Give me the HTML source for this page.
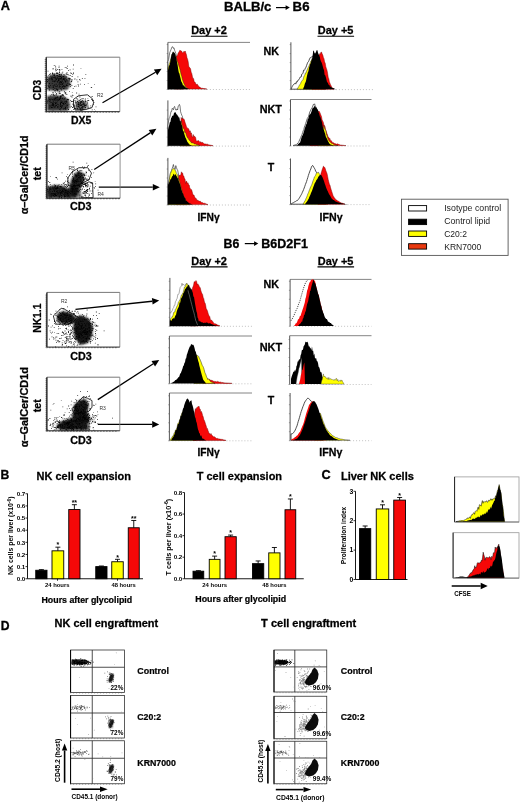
<!DOCTYPE html>
<html><head><meta charset="utf-8"><style>
html,body{margin:0;padding:0;background:#fff;}
svg{display:block;font-family:"Liberation Sans", sans-serif;filter:blur(0.35px);}
</style></head><body>
<svg width="520" height="802" viewBox="0 0 520 802">
<defs><filter id="bl1" x="-20%" y="-20%" width="140%" height="140%"><feGaussianBlur stdDeviation="0.9"/></filter>
<filter id="bl2" x="-20%" y="-20%" width="140%" height="140%"><feGaussianBlur stdDeviation="1.5"/></filter>
<filter id="bl0" x="-20%" y="-20%" width="140%" height="140%"><feGaussianBlur stdDeviation="0.5"/></filter></defs>
<rect width="520" height="802" fill="#fff"/>
<line x1="167.9" y1="42.4" x2="250" y2="42.4" stroke="#666" stroke-width="0.8"/>
<line x1="167.9" y1="42.4" x2="167.9" y2="89.5" stroke="#444" stroke-width="0.9"/>
<line x1="167.9" y1="89.5" x2="250" y2="89.5" stroke="#999" stroke-width="0.6" stroke-dasharray="1 2"/>
<path d="M166.70000000000002 89.5h1.2M166.70000000000002 80.5h1.2M166.70000000000002 71.5h1.2M166.70000000000002 62.5h1.2M166.70000000000002 53.5h1.2M166.70000000000002 44.5h1.2" stroke="#555" stroke-width="0.5"/>
<polygon points="168.0,89.1 168.0,61.3 168.6,59.6 169.2,55.9 169.8,52.4 170.4,51.1 171.0,49.6 171.6,48.0 172.2,46.7 172.8,46.9 173.4,48.3 174.0,47.8 174.6,50.3 175.2,51.6 175.8,53.4 176.4,56.0 177.0,58.5 177.6,61.7 178.2,64.8 178.8,65.1 179.4,69.3 180.0,73.7 180.6,79.1 181.2,80.4 181.8,84.5 182.4,86.5 183.0,89.1 183.0,89.1" fill="#fff" stroke="#222" stroke-width="0.6" opacity="1" stroke-linejoin="round"/>
<polygon points="175.0,89.1 175.0,89.1 175.6,70.6 176.2,57.2 176.8,55.8 177.4,55.8 178.0,53.6 178.6,52.4 179.2,51.5 179.8,50.3 180.4,50.5 181.0,51.1 181.6,51.0 182.2,52.5 182.8,52.8 183.4,52.3 184.0,51.3 184.6,51.9 185.2,51.0 185.8,53.0 186.4,54.6 187.0,57.8 187.6,59.3 188.2,61.8 188.8,66.4 189.4,67.3 190.0,67.8 190.6,69.1 191.2,72.3 191.8,73.5 192.4,76.4 193.0,78.7 193.6,78.6 194.2,81.8 194.8,82.0 195.4,82.7 196.0,84.3 196.6,84.6 197.2,84.1 197.8,85.3 198.4,85.7 199.0,87.1 199.6,87.1 200.2,87.3 200.8,87.9 201.4,88.2 202.0,88.3 202.6,88.3 203.2,88.4 203.8,88.6 204.4,88.6 205.0,88.7 205.6,88.8 206.2,89.0 206.8,89.1 207.0,89.1" fill="#f50808" stroke="#700" stroke-width="0.45" opacity="1" stroke-linejoin="round"/>
<polygon points="168.0,89.1 168.0,68.3 168.6,66.2 169.2,64.2 169.8,62.3 170.4,60.1 171.0,58.3 171.6,55.5 172.2,54.1 172.8,53.6 173.4,51.8 174.0,52.9 174.6,53.7 175.2,55.1 175.8,56.6 176.4,58.4 177.0,60.2 177.6,61.9 178.2,63.2 178.8,65.8 179.4,67.5 180.0,69.6 180.6,72.2 181.2,74.7 181.8,76.6 182.4,79.2 183.0,81.1 183.6,82.7 184.2,84.0 184.8,85.3 185.4,86.3 186.0,87.2 186.6,87.6 187.2,88.3 187.8,88.9 188.0,89.1" fill="#ffff00" stroke="#222" stroke-width="0.45" opacity="1" stroke-linejoin="round"/>
<polygon points="168.0,89.1 168.0,70.3 168.6,67.2 169.2,65.6 169.8,64.8 170.4,60.7 171.0,57.4 171.6,54.3 172.2,53.5 172.8,51.7 173.4,52.2 174.0,52.6 174.6,53.1 175.2,53.9 175.8,56.6 176.4,58.6 177.0,61.9 177.6,65.0 178.2,69.2 178.8,72.5 179.4,73.6 180.0,76.3 180.6,78.4 181.2,81.3 181.8,82.2 182.4,83.6 183.0,85.4 183.6,85.3 184.2,86.1 184.8,86.8 185.4,87.1 186.0,88.0 186.6,88.0 187.2,88.3 187.8,88.6 188.4,88.7 189.0,88.8 189.6,89.0 190.0,89.1" fill="#000" stroke="none" stroke-width="0.45" opacity="1" stroke-linejoin="round"/>
<line x1="167.9" y1="100.4" x2="167.9" y2="146.1" stroke="#444" stroke-width="0.9"/>
<line x1="167.9" y1="146.1" x2="250" y2="146.1" stroke="#999" stroke-width="0.6" stroke-dasharray="1 2"/>
<path d="M166.70000000000002 146.1h1.2M166.70000000000002 137.1h1.2M166.70000000000002 128.1h1.2M166.70000000000002 119.1h1.2M166.70000000000002 110.1h1.2" stroke="#555" stroke-width="0.5"/>
<polygon points="168.0,145.7 168.0,125.0 168.6,121.0 169.2,118.4 169.8,117.3 170.4,114.7 171.0,111.4 171.6,111.4 172.2,108.3 172.8,108.7 173.4,109.8 174.0,107.2 174.6,106.4 175.2,108.5 175.8,110.0 176.4,110.1 177.0,108.9 177.6,109.9 178.2,106.1 178.8,105.7 179.4,104.4 180.0,106.0 180.6,111.8 181.2,113.6 181.8,115.3 182.4,116.3 183.0,120.2 183.6,120.5 184.2,123.9 184.8,125.7 185.4,127.9 186.0,129.3 186.6,132.0 187.2,136.5 187.8,141.4 188.4,143.1 189.0,145.7 189.0,145.7" fill="#fff" stroke="#222" stroke-width="0.6" opacity="1" stroke-linejoin="round"/>
<polygon points="180.0,145.7 180.0,145.7 180.6,126.8 181.2,117.4 181.8,119.1 182.4,118.1 183.0,119.3 183.6,118.7 184.2,119.4 184.8,121.6 185.4,123.3 186.0,125.1 186.6,127.2 187.2,127.8 187.8,128.4 188.4,128.5 189.0,129.7 189.6,132.0 190.2,130.7 190.8,133.6 191.4,132.8 192.0,136.4 192.6,137.3 193.2,134.5 193.8,136.7 194.4,135.9 195.0,137.1 195.6,137.4 196.2,140.7 196.8,141.2 197.4,141.1 198.0,140.4 198.6,140.8 199.2,141.2 199.8,142.4 200.4,142.0 201.0,141.7 201.6,143.1 202.2,142.2 202.8,142.7 203.4,142.9 204.0,143.7 204.6,144.1 205.2,143.9 205.8,144.0 206.4,144.2 207.0,144.2 207.6,144.2 208.2,144.4 208.8,145.1 209.4,144.9 210.0,145.0 210.6,145.2 211.2,145.3 211.8,145.4 212.4,145.6 213.0,145.7 213.0,145.7" fill="#f50808" stroke="#700" stroke-width="0.45" opacity="1" stroke-linejoin="round"/>
<polygon points="180.0,145.7 180.0,145.7 180.6,131.1 181.2,120.7 181.8,124.5 182.4,125.6 183.0,128.1 183.6,128.8 184.2,129.5 184.8,132.7 185.4,132.3 186.0,133.7 186.6,135.9 187.2,137.0 187.8,138.2 188.4,138.6 189.0,139.9 189.6,140.6 190.2,141.3 190.8,141.7 191.4,142.9 192.0,142.8 192.6,142.9 193.2,142.9 193.8,143.5 194.4,143.9 195.0,144.0 195.6,144.0 196.2,144.6 196.8,144.4 197.4,144.7 198.0,145.0 198.6,145.1 199.2,145.4 199.8,145.6 200.0,145.7" fill="#ffff00" stroke="#222" stroke-width="0.45" opacity="1" stroke-linejoin="round"/>
<polygon points="168.0,145.7 168.0,130.0 168.6,127.2 169.2,125.2 169.8,122.2 170.4,121.9 171.0,118.3 171.6,117.4 172.2,115.7 172.8,115.8 173.4,115.4 174.0,113.0 174.6,112.6 175.2,112.2 175.8,112.5 176.4,114.3 177.0,114.4 177.6,115.6 178.2,116.2 178.8,117.5 179.4,117.5 180.0,121.3 180.6,120.7 181.2,124.2 181.8,125.1 182.4,127.3 183.0,130.8 183.6,131.3 184.2,133.7 184.8,135.4 185.4,137.5 186.0,138.5 186.6,139.9 187.2,141.6 187.8,142.5 188.4,143.0 189.0,144.2 189.6,144.5 190.2,144.9 190.8,145.1 191.4,145.4 192.0,145.7 192.0,145.7" fill="#000" stroke="none" stroke-width="0.45" opacity="1" stroke-linejoin="round"/>
<line x1="167.9" y1="157.9" x2="167.9" y2="205" stroke="#444" stroke-width="0.9"/>
<line x1="167.9" y1="205" x2="250" y2="205" stroke="#999" stroke-width="0.6" stroke-dasharray="1 2"/>
<path d="M166.70000000000002 205h1.2M166.70000000000002 196h1.2M166.70000000000002 187h1.2M166.70000000000002 178h1.2M166.70000000000002 169h1.2M166.70000000000002 160h1.2" stroke="#555" stroke-width="0.5"/>
<polygon points="168.0,204.6 168.0,184.7 168.6,181.9 169.2,180.0 169.8,176.9 170.4,173.6 171.0,171.7 171.6,170.6 172.2,168.4 172.8,166.5 173.4,164.5 174.0,167.3 174.6,168.7 175.2,169.3 175.8,165.6 176.4,167.5 177.0,169.2 177.6,170.0 178.2,172.9 178.8,175.9 179.4,178.0 180.0,181.2 180.6,184.4 181.2,186.5 181.8,190.0 182.4,193.0 183.0,194.9 183.6,197.3 184.2,199.0 184.8,201.2 185.4,202.5 186.0,204.6 186.0,204.6" fill="#fff" stroke="#222" stroke-width="0.6" opacity="1" stroke-linejoin="round"/>
<polygon points="176.0,204.6 176.0,204.6 176.6,195.7 177.2,187.2 177.8,179.8 178.4,177.8 179.0,174.9 179.6,176.0 180.2,175.2 180.8,174.9 181.4,171.8 182.0,173.0 182.6,173.0 183.2,175.7 183.8,176.0 184.4,178.4 185.0,178.8 185.6,183.5 186.2,181.1 186.8,181.5 187.4,183.5 188.0,182.8 188.6,184.8 189.2,185.0 189.8,187.9 190.4,188.7 191.0,189.5 191.6,189.8 192.2,191.8 192.8,194.3 193.4,195.0 194.0,195.0 194.6,197.0 195.2,198.0 195.8,198.2 196.4,198.8 197.0,200.6 197.6,200.1 198.2,200.9 198.8,200.7 199.4,201.3 200.0,201.0 200.6,201.4 201.2,202.7 201.8,202.2 202.4,202.8 203.0,202.7 203.6,203.3 204.2,203.0 204.8,203.6 205.4,203.4 206.0,204.0 206.6,204.0 207.2,204.3 207.8,204.5 208.0,204.6" fill="#f50808" stroke="#700" stroke-width="0.45" opacity="1" stroke-linejoin="round"/>
<polygon points="168.5,204.6 168.5,186.9 169.1,182.2 169.7,177.6 170.3,173.5 170.9,172.6 171.5,171.1 172.1,169.5 172.7,168.9 173.3,168.8 173.9,168.4 174.5,169.2 175.1,170.5 175.7,170.7 176.3,173.0 176.9,173.8 177.5,174.9 178.1,177.4 178.7,178.9 179.3,180.5 179.9,182.8 180.5,184.9 181.1,187.7 181.7,189.2 182.3,192.3 182.9,194.4 183.5,196.0 184.1,197.0 184.7,198.3 185.3,199.7 185.9,200.9 186.5,201.7 187.1,202.2 187.7,203.0 188.3,203.7 188.9,204.5 189.0,204.6" fill="#ffff00" stroke="#222" stroke-width="0.45" opacity="1" stroke-linejoin="round"/>
<polygon points="168.0,204.6 168.0,184.7 168.6,183.6 169.2,182.5 169.8,181.2 170.4,179.3 171.0,179.1 171.6,177.5 172.2,176.2 172.8,175.7 173.4,174.1 174.0,173.7 174.6,175.7 175.2,174.3 175.8,174.5 176.4,176.0 177.0,176.7 177.6,178.6 178.2,177.8 178.8,181.1 179.4,182.5 180.0,184.1 180.6,185.9 181.2,188.7 181.8,190.6 182.4,192.7 183.0,193.4 183.6,195.2 184.2,197.0 184.8,197.7 185.4,198.4 186.0,201.3 186.6,200.6 187.2,201.5 187.8,202.0 188.4,202.6 189.0,203.0 189.6,203.5 190.2,203.4 190.8,203.7 191.4,203.9 192.0,204.2 192.6,204.4 193.0,204.6" fill="#000" stroke="none" stroke-width="0.45" opacity="1" stroke-linejoin="round"/>
<line x1="290.9" y1="42.3" x2="290.9" y2="89.6" stroke="#444" stroke-width="0.9"/>
<line x1="290.9" y1="89.6" x2="373" y2="89.6" stroke="#999" stroke-width="0.6" stroke-dasharray="1 2"/>
<path d="M289.7 89.6h1.2M289.7 80.6h1.2M289.7 71.6h1.2M289.7 62.599999999999994h1.2M289.7 53.599999999999994h1.2M289.7 44.599999999999994h1.2" stroke="#555" stroke-width="0.5"/>
<polygon points="291.0,89.2 291.0,89.2 291.6,87.8 292.2,86.6 292.8,85.5 293.4,84.7 294.0,83.9 294.6,83.7 295.2,83.3 295.8,84.1 296.4,81.8 297.0,82.3 297.6,81.0 298.2,80.0 298.8,79.8 299.4,78.7 300.0,77.2 300.6,77.1 301.2,76.9 301.8,74.1 302.4,73.8 303.0,73.2 303.6,70.2 304.2,70.5 304.8,69.5 305.4,68.0 306.0,67.2 306.6,65.4 307.2,63.8 307.8,62.3 308.4,61.7 309.0,60.4 309.6,58.8 310.2,57.6 310.8,57.6 311.4,57.1 312.0,56.8 312.6,56.9 313.2,55.4 313.8,55.0 314.4,53.8 315.0,54.7 315.6,55.2 316.2,57.1 316.8,57.8 317.4,59.0 318.0,62.1 318.6,62.6 319.2,64.2 319.8,64.7 320.4,68.8 321.0,68.5 321.6,70.2 322.2,72.6 322.8,75.1 323.4,77.3 324.0,80.4 324.6,82.7 325.2,85.1 325.8,88.2 326.0,89.2" fill="#fff" stroke="#222" stroke-width="0.8" opacity="1" stroke-linejoin="round"/>
<polygon points="297.0,89.2 297.0,89.2 297.6,88.2 298.2,87.2 298.8,86.6 299.4,85.0 300.0,84.4 300.6,83.6 301.2,81.7 301.8,81.1 302.4,80.3 303.0,79.6 303.6,77.5 304.2,75.7 304.8,75.1 305.4,73.0 306.0,73.0 306.6,70.9 307.2,69.8 307.8,68.2 308.4,67.2 309.0,65.9 309.6,64.1 310.2,63.2 310.8,61.0 311.4,60.5 312.0,58.6 312.6,59.3 313.2,58.3 313.8,57.6 314.4,58.2 315.0,57.8 315.6,58.3 316.2,59.5 316.8,59.4 317.4,60.0 318.0,62.5 318.6,64.2 319.2,65.5 319.8,67.1 320.4,69.9 321.0,74.0 321.6,76.4 322.2,79.5 322.8,83.1 323.4,86.7 324.0,89.2" fill="#ffff00" stroke="#222" stroke-width="0.45" opacity="1" stroke-linejoin="round"/>
<polygon points="312.0,89.2 312.0,89.2 312.6,85.6 313.2,82.3 313.8,79.7 314.4,76.2 315.0,70.8 315.6,66.6 316.2,64.8 316.8,61.3 317.4,59.0 318.0,56.2 318.6,55.1 319.2,55.3 319.8,53.6 320.4,54.1 321.0,52.0 321.6,52.2 322.2,54.0 322.8,55.1 323.4,57.6 324.0,58.7 324.6,62.1 325.2,63.1 325.8,66.7 326.4,68.4 327.0,70.3 327.6,73.3 328.2,77.3 328.8,78.8 329.4,81.9 330.0,83.3 330.6,85.1 331.2,85.8 331.8,87.5 332.4,87.7 333.0,88.4 333.6,88.8 334.0,89.2" fill="#f50808" stroke="#700" stroke-width="0.45" opacity="1" stroke-linejoin="round"/>
<polygon points="303.0,89.2 303.0,89.2 303.6,87.6 304.2,86.2 304.8,83.7 305.4,82.5 306.0,80.9 306.6,77.8 307.2,75.1 307.8,72.5 308.4,71.3 309.0,67.7 309.6,66.0 310.2,64.1 310.8,63.1 311.4,60.2 312.0,59.3 312.6,56.1 313.2,51.1 313.8,50.6 314.4,52.8 315.0,53.7 315.6,52.8 316.2,51.4 316.8,50.1 317.4,50.2 318.0,52.7 318.6,54.3 319.2,55.5 319.8,57.0 320.4,59.7 321.0,61.5 321.6,62.4 322.2,64.2 322.8,66.6 323.4,68.7 324.0,70.0 324.6,74.8 325.2,75.2 325.8,77.0 326.4,79.6 327.0,82.0 327.6,82.6 328.2,83.7 328.8,85.0 329.4,85.0 330.0,86.8 330.6,86.6 331.2,87.2 331.8,87.4 332.4,87.9 333.0,88.1 333.6,88.3 334.2,88.5 334.8,88.7 335.4,89.0 336.0,89.2" fill="#000" stroke="none" stroke-width="0.45" opacity="1" stroke-linejoin="round"/>
<line x1="290.5" y1="99.5" x2="371.5" y2="99.5" stroke="#666" stroke-width="0.8"/>
<line x1="290.5" y1="99.5" x2="290.5" y2="146" stroke="#444" stroke-width="0.9"/>
<line x1="290.5" y1="146" x2="371.5" y2="146" stroke="#999" stroke-width="0.6" stroke-dasharray="1 2"/>
<path d="M289.3 146h1.2M289.3 137h1.2M289.3 128h1.2M289.3 119h1.2M289.3 110h1.2M289.3 101h1.2" stroke="#555" stroke-width="0.5"/>
<polygon points="293.0,145.6 293.0,145.6 293.6,145.4 294.2,145.2 294.8,145.0 295.4,144.8 296.0,144.4 296.6,144.4 297.2,144.1 297.8,143.0 298.4,142.5 299.0,141.3 299.6,140.0 300.2,138.7 300.8,137.4 301.4,135.7 302.0,134.5 302.6,132.7 303.2,130.8 303.8,129.7 304.4,127.0 305.0,125.5 305.6,123.7 306.2,122.0 306.8,120.0 307.4,118.3 308.0,117.3 308.6,116.3 309.2,114.1 309.8,112.0 310.4,110.9 311.0,109.4 311.6,108.4 312.2,107.5 312.8,106.1 313.4,104.3 314.0,104.8 314.6,103.8 315.2,106.1 315.8,106.8 316.4,108.1 317.0,109.2 317.6,110.6 318.2,112.8 318.8,114.1 319.4,115.6 320.0,117.5 320.6,119.2 321.2,121.3 321.8,122.2 322.4,124.5 323.0,127.9 323.6,129.4 324.2,132.3 324.8,133.9 325.4,135.9 326.0,137.5 326.6,139.4 327.2,140.9 327.8,142.2 328.4,144.1 329.0,145.6" fill="#fff" stroke="#555" stroke-width="0.9" opacity="1" stroke-linejoin="round"/>
<polygon points="310.0,145.6 310.0,145.6 310.6,142.2 311.2,138.6 311.8,137.1 312.4,132.7 313.0,129.6 313.6,127.3 314.2,124.8 314.8,120.5 315.4,117.5 316.0,114.6 316.6,113.4 317.2,111.5 317.8,112.2 318.4,111.6 319.0,111.0 319.6,112.0 320.2,113.2 320.8,115.0 321.4,116.2 322.0,119.4 322.6,120.9 323.2,122.0 323.8,124.4 324.4,125.7 325.0,126.5 325.6,129.8 326.2,131.1 326.8,133.2 327.4,134.5 328.0,137.0 328.6,137.1 329.2,138.8 329.8,138.2 330.4,140.4 331.0,140.4 331.6,140.9 332.2,142.5 332.8,142.5 333.4,142.7 334.0,143.1 334.6,143.5 335.2,144.1 335.8,143.5 336.4,144.3 337.0,143.7 337.6,144.0 338.2,144.1 338.8,144.6 339.4,144.6 340.0,144.9 340.6,145.0 341.2,145.1 341.8,145.1 342.4,145.2 343.0,145.3 343.6,145.3 344.2,145.4 344.8,145.5 345.4,145.5 346.0,145.6" fill="#f50808" stroke="#700" stroke-width="0.45" opacity="1" stroke-linejoin="round"/>
<polygon points="318.0,145.6 318.0,145.6 318.6,143.5 319.2,142.1 319.8,139.7 320.4,137.3 321.0,135.4 321.6,134.9 322.2,132.1 322.8,130.5 323.4,128.0 324.0,125.2 324.6,128.5 325.2,129.7 325.8,130.6 326.4,134.3 327.0,135.6 327.6,137.8 328.2,139.2 328.8,140.5 329.4,141.2 330.0,141.9 330.6,142.5 331.2,142.9 331.8,143.4 332.4,143.5 333.0,144.2 333.6,144.2 334.2,144.7 334.8,144.9 335.4,145.0 336.0,145.2 336.6,145.3 337.2,145.4 337.8,145.6 338.0,145.6" fill="#ffff00" stroke="#222" stroke-width="0.45" opacity="1" stroke-linejoin="round"/>
<polygon points="297.0,145.6 297.0,145.6 297.6,144.8 298.2,144.1 298.8,143.4 299.4,142.8 300.0,142.8 300.6,140.7 301.2,138.4 301.8,136.8 302.4,135.6 303.0,134.6 303.6,132.5 304.2,130.6 304.8,128.6 305.4,126.7 306.0,124.7 306.6,123.9 307.2,121.5 307.8,118.9 308.4,118.5 309.0,115.8 309.6,114.4 310.2,114.3 310.8,113.3 311.4,111.7 312.0,109.8 312.6,108.1 313.2,107.8 313.8,107.4 314.4,106.1 315.0,106.3 315.6,107.2 316.2,107.4 316.8,108.3 317.4,109.4 318.0,110.1 318.6,112.4 319.2,113.8 319.8,116.3 320.4,117.0 321.0,119.1 321.6,121.1 322.2,123.3 322.8,126.9 323.4,128.7 324.0,130.3 324.6,132.3 325.2,134.1 325.8,136.6 326.4,137.8 327.0,138.8 327.6,140.2 328.2,141.4 328.8,142.6 329.4,143.5 330.0,144.3 330.6,144.6 331.2,144.6 331.8,144.9 332.4,145.1 333.0,145.3 333.6,145.5 334.0,145.6" fill="#000" stroke="none" stroke-width="0.45" opacity="1" stroke-linejoin="round"/>
<line x1="290.5" y1="158.5" x2="290.5" y2="204.6" stroke="#444" stroke-width="0.9"/>
<line x1="290.5" y1="204.6" x2="371.5" y2="204.6" stroke="#999" stroke-width="0.6" stroke-dasharray="1 2"/>
<path d="M289.3 204.6h1.2M289.3 195.6h1.2M289.3 186.6h1.2M289.3 177.6h1.2M289.3 168.6h1.2M289.3 159.6h1.2" stroke="#555" stroke-width="0.5"/>
<polygon points="291.0,204.2 291.0,204.0 291.6,203.7 292.2,203.3 292.8,202.9 293.4,202.7 294.0,202.3 294.6,201.9 295.2,201.7 295.8,201.3 296.4,200.8 297.0,200.6 297.6,200.4 298.2,199.6 298.8,198.8 299.4,197.9 300.0,196.9 300.6,195.8 301.2,194.8 301.8,193.7 302.4,192.2 303.0,191.0 303.6,189.5 304.2,188.0 304.8,186.3 305.4,184.5 306.0,183.0 306.6,181.4 307.2,179.4 307.8,177.5 308.4,175.4 309.0,173.6 309.6,172.0 310.2,170.3 310.8,169.0 311.4,167.2 312.0,166.0 312.6,165.4 313.2,166.1 313.8,167.3 314.4,168.2 315.0,169.3 315.6,171.0 316.2,171.9 316.8,172.8 317.4,173.6 318.0,175.1 318.6,176.2 319.2,177.8 319.8,179.6 320.4,181.6 321.0,183.3 321.6,185.7 322.2,187.4 322.8,189.4 323.4,191.6 324.0,194.8 324.6,197.3 325.2,200.0 325.8,203.1 326.0,204.2" fill="#fff" stroke="#222" stroke-width="0.8" opacity="1" stroke-linejoin="round"/>
<polygon points="303.0,204.2 303.0,204.2 303.6,203.0 304.2,202.2 304.8,200.9 305.4,200.2 306.0,198.4 306.6,197.3 307.2,195.8 307.8,193.9 308.4,192.9 309.0,191.1 309.6,189.5 310.2,188.0 310.8,186.6 311.4,185.4 312.0,184.1 312.6,182.0 313.2,180.4 313.8,178.8 314.4,176.9 315.0,176.4 315.6,175.2 316.2,173.6 316.8,172.9 317.4,173.0 318.0,172.2 318.6,172.4 319.2,173.7 319.8,174.5 320.4,175.4 321.0,177.3 321.6,178.2 322.2,180.4 322.8,181.7 323.4,183.2 324.0,185.3 324.6,187.9 325.2,190.4 325.8,194.0 326.4,196.2 327.0,199.2 327.6,202.3 328.0,204.2" fill="#ffff00" stroke="#222" stroke-width="0.45" opacity="1" stroke-linejoin="round"/>
<polygon points="318.0,204.2 318.0,204.2 318.6,196.1 319.2,187.9 319.8,179.7 320.4,176.0 321.0,173.5 321.6,171.6 322.2,169.6 322.8,168.0 323.4,166.2 324.0,166.7 324.6,167.3 325.2,168.4 325.8,170.5 326.4,172.0 327.0,173.4 327.6,176.3 328.2,179.6 328.8,181.9 329.4,184.2 330.0,185.3 330.6,187.8 331.2,189.8 331.8,191.7 332.4,193.5 333.0,195.5 333.6,196.4 334.2,197.5 334.8,198.3 335.4,198.9 336.0,200.1 336.6,200.1 337.2,200.6 337.8,200.9 338.4,201.0 339.0,201.8 339.6,202.1 340.2,202.4 340.8,202.6 341.4,203.0 342.0,203.1 342.6,203.3 343.2,203.5 343.8,203.7 344.4,204.0 345.0,204.2" fill="#f50808" stroke="#700" stroke-width="0.45" opacity="1" stroke-linejoin="round"/>
<polygon points="305.0,204.2 305.0,204.2 305.6,203.3 306.2,202.5 306.8,201.7 307.4,201.0 308.0,199.8 308.6,198.9 309.2,197.2 309.8,195.9 310.4,194.8 311.0,192.9 311.6,191.7 312.2,190.3 312.8,188.5 313.4,186.8 314.0,185.2 314.6,183.6 315.2,182.5 315.8,181.6 316.4,179.9 317.0,179.5 317.6,178.4 318.2,176.9 318.8,176.2 319.4,175.6 320.0,175.1 320.6,174.9 321.2,174.9 321.8,176.1 322.4,177.0 323.0,178.5 323.6,180.0 324.2,181.8 324.8,183.8 325.4,185.3 326.0,187.3 326.6,188.8 327.2,190.2 327.8,191.3 328.4,192.7 329.0,194.1 329.6,195.0 330.2,195.8 330.8,197.1 331.4,197.9 332.0,198.9 332.6,199.2 333.2,199.9 333.8,199.9 334.4,200.6 335.0,201.0 335.6,201.5 336.2,201.7 336.8,201.8 337.4,202.2 338.0,202.3 338.6,202.6 339.2,202.7 339.8,202.9 340.4,203.0 341.0,203.1 341.6,203.4 342.2,203.5 342.8,203.6 343.4,203.7 344.0,203.7 344.6,203.8 345.2,203.9 345.8,203.9 346.4,204.0 347.0,204.1 347.6,204.2 348.0,204.2" fill="#000" stroke="none" stroke-width="0.45" opacity="1" stroke-linejoin="round"/>
<line x1="169.9" y1="277.9" x2="169.9" y2="326.3" stroke="#444" stroke-width="0.9"/>
<line x1="169.9" y1="326.3" x2="252" y2="326.3" stroke="#999" stroke-width="0.6" stroke-dasharray="1 2"/>
<path d="M168.70000000000002 326.3h1.2M168.70000000000002 317.3h1.2M168.70000000000002 308.3h1.2M168.70000000000002 299.3h1.2M168.70000000000002 290.3h1.2M168.70000000000002 281.3h1.2" stroke="#555" stroke-width="0.5"/>
<polygon points="170.0,325.9 170.0,312.3 170.6,313.3 171.2,311.7 171.8,311.5 172.4,310.2 173.0,308.4 173.6,307.7 174.2,305.4 174.8,305.4 175.4,301.7 176.0,301.2 176.6,299.1 177.2,298.3 177.8,294.4 178.4,294.3 179.0,293.8 179.6,290.1 180.2,287.4 180.8,286.7 181.4,285.8 182.0,283.2 182.6,285.4 183.2,284.1 183.8,284.8 184.4,285.4 185.0,284.8 185.6,285.0 186.2,283.6 186.8,287.9 187.4,287.9 188.0,290.2 188.6,293.5 189.2,294.1 189.8,297.6 190.4,299.6 191.0,302.3 191.6,304.0 192.2,306.6 192.8,307.4 193.4,311.6 194.0,313.1 194.6,314.7 195.2,317.9 195.8,320.7 196.4,321.9 197.0,323.3 197.6,324.9 198.0,325.9" fill="#fff" stroke="#777" stroke-width="0.6" opacity="1" stroke-linejoin="round"/>
<polygon points="170.0,325.9 170.0,321.5 170.6,318.7 171.2,318.3 171.8,317.4 172.4,316.1 173.0,315.6 173.6,312.5 174.2,312.1 174.8,312.0 175.4,309.2 176.0,308.5 176.6,307.1 177.2,305.5 177.8,305.0 178.4,302.0 179.0,301.4 179.6,300.2 180.2,299.3 180.8,297.2 181.4,295.0 182.0,294.9 182.6,293.3 183.2,292.4 183.8,289.9 184.4,287.1 185.0,287.2 185.6,285.7 186.2,284.5 186.8,283.2 187.4,284.1 188.0,285.9 188.6,284.9 189.2,285.8 189.8,288.9 190.4,291.2 191.0,292.2 191.6,294.8 192.2,299.3 192.8,304.6 193.4,308.1 194.0,312.6 194.6,316.6 195.2,321.1 195.8,324.2 196.0,325.9" fill="#ffff00" stroke="#222" stroke-width="0.45" opacity="1" stroke-linejoin="round"/>
<polygon points="190.0,325.9 190.0,325.9 190.6,314.2 191.2,301.7 191.8,292.6 192.4,288.2 193.0,286.7 193.6,285.1 194.2,281.6 194.8,281.9 195.4,281.4 196.0,280.6 196.6,281.5 197.2,284.8 197.8,283.8 198.4,284.8 199.0,285.7 199.6,287.6 200.2,287.6 200.8,290.3 201.4,292.3 202.0,293.6 202.6,294.5 203.2,297.6 203.8,298.7 204.4,302.1 205.0,302.7 205.6,304.9 206.2,308.5 206.8,309.6 207.4,310.8 208.0,312.9 208.6,315.0 209.2,316.0 209.8,316.7 210.4,319.7 211.0,320.2 211.6,320.1 212.2,321.2 212.8,321.4 213.4,322.6 214.0,323.4 214.6,323.8 215.2,323.9 215.8,323.8 216.4,324.3 217.0,324.5 217.6,325.1 218.2,325.3 218.8,325.4 219.4,325.7 220.0,325.9 220.0,325.9" fill="#f50808" stroke="#700" stroke-width="0.45" opacity="1" stroke-linejoin="round"/>
<polygon points="170.0,325.9 170.0,320.5 170.6,320.1 171.2,320.9 171.8,319.9 172.4,318.5 173.0,319.0 173.6,317.7 174.2,318.7 174.8,316.9 175.4,315.5 176.0,315.0 176.6,312.0 177.2,310.0 177.8,308.4 178.4,307.5 179.0,305.9 179.6,302.2 180.2,302.7 180.8,299.0 181.4,298.0 182.0,296.9 182.6,295.5 183.2,293.3 183.8,292.8 184.4,290.9 185.0,289.2 185.6,288.6 186.2,287.7 186.8,286.4 187.4,286.5 188.0,285.5 188.6,284.8 189.2,286.3 189.8,287.8 190.4,287.4 191.0,289.6 191.6,288.8 192.2,291.4 192.8,292.8 193.4,296.6 194.0,296.9 194.6,300.8 195.2,304.4 195.8,307.8 196.4,311.3 197.0,313.1 197.6,317.4 198.2,318.4 198.8,321.4 199.4,320.4 200.0,321.9 200.6,321.2 201.2,321.9 201.8,322.5 202.4,322.2 203.0,322.7 203.6,322.9 204.2,323.1 204.8,322.4 205.4,322.9 206.0,322.4 206.6,322.6 207.2,322.5 207.8,323.1 208.4,323.4 209.0,323.2 209.6,323.3 210.2,323.2 210.8,323.7 211.4,324.1 212.0,324.3 212.6,324.4 213.2,324.5 213.8,325.1 214.4,325.2 215.0,325.3 215.6,325.4 216.2,325.5 216.8,325.7 217.4,325.8 218.0,325.9 218.0,325.9" fill="#000" stroke="none" stroke-width="0.45" opacity="1" stroke-linejoin="round"/>
<polyline points="188.0,290.3 188.6,292.9 189.2,294.6 189.8,297.0 190.4,299.5 191.0,301.8 191.6,304.3 192.2,306.4 192.8,309.0 193.4,311.1 194.0,313.0 194.6,315.6 195.2,318.1 195.8,320.8 196.4,321.8 197.0,323.6 197.6,324.9" fill="none" stroke="#888" stroke-width="0.6" stroke-linejoin="round"/>
<line x1="169.4" y1="336" x2="252" y2="336" stroke="#666" stroke-width="0.8"/>
<line x1="169.4" y1="336" x2="169.4" y2="383.8" stroke="#444" stroke-width="0.9"/>
<line x1="169.4" y1="383.8" x2="252" y2="383.8" stroke="#999" stroke-width="0.6" stroke-dasharray="1 2"/>
<path d="M168.20000000000002 383.8h1.2M168.20000000000002 374.8h1.2M168.20000000000002 365.8h1.2M168.20000000000002 356.8h1.2M168.20000000000002 347.8h1.2M168.20000000000002 338.8h1.2" stroke="#555" stroke-width="0.5"/>
<polygon points="203.0,383.4 203.0,383.4 203.6,381.9 204.2,380.5 204.8,378.2 205.4,378.7 206.0,378.0 206.6,379.2 207.2,378.7 207.8,378.9 208.4,379.9 209.0,379.3 209.6,379.4 210.2,380.2 210.8,380.1 211.4,380.1 212.0,381.0 212.6,380.5 213.2,381.3 213.8,381.2 214.4,381.4 215.0,381.4 215.6,381.5 216.2,381.8 216.8,381.7 217.4,381.3 218.0,381.9 218.6,381.7 219.2,382.2 219.8,382.1 220.4,382.0 221.0,382.4 221.6,382.4 222.2,382.4 222.8,382.6 223.4,382.7 224.0,382.8 224.6,382.9 225.2,382.9 225.8,383.0 226.4,383.0 227.0,383.0 227.6,383.1 228.2,383.1 228.8,383.2 229.4,383.2 230.0,383.3 230.6,383.3 231.2,383.3 231.8,383.4 232.0,383.4" fill="#f50808" stroke="#700" stroke-width="0.45" opacity="1" stroke-linejoin="round"/>
<polygon points="194.0,383.4 194.0,383.4 194.6,374.8 195.2,365.6 195.8,356.9 196.4,354.8 197.0,355.1 197.6,355.8 198.2,355.9 198.8,356.7 199.4,358.3 200.0,359.3 200.6,360.9 201.2,362.2 201.8,364.1 202.4,365.6 203.0,366.4 203.6,367.7 204.2,369.8 204.8,372.3 205.4,373.6 206.0,375.0 206.6,377.1 207.2,377.9 207.8,379.4 208.4,378.7 209.0,379.5 209.6,380.2 210.2,381.2 210.8,381.8 211.4,382.1 212.0,382.1 212.6,382.5 213.2,382.7 213.8,382.9 214.4,383.2 215.0,383.4 215.0,383.4" fill="#ffff00" stroke="#222" stroke-width="0.5" opacity="1" stroke-linejoin="round"/>
<polygon points="170.0,383.4 170.0,383.4 170.6,383.2 171.2,382.9 171.8,382.7 172.4,382.5 173.0,382.3 173.6,381.8 174.2,381.6 174.8,380.8 175.4,380.0 176.0,380.1 176.6,379.4 177.2,378.6 177.8,378.4 178.4,377.1 179.0,377.3 179.6,375.4 180.2,373.4 180.8,373.2 181.4,371.4 182.0,369.9 182.6,368.2 183.2,366.0 183.8,365.6 184.4,363.1 185.0,362.2 185.6,358.8 186.2,358.2 186.8,354.7 187.4,353.3 188.0,351.3 188.6,349.4 189.2,347.9 189.8,346.4 190.4,346.3 191.0,344.3 191.6,344.2 192.2,344.5 192.8,345.0 193.4,344.8 194.0,346.3 194.6,348.2 195.2,351.0 195.8,351.8 196.4,354.6 197.0,356.1 197.6,358.4 198.2,361.1 198.8,362.7 199.4,365.8 200.0,368.0 200.6,370.6 201.2,372.7 201.8,375.1 202.4,377.0 203.0,379.2 203.6,380.3 204.2,381.1 204.8,381.7 205.4,382.6 206.0,383.4 206.0,383.4" fill="#000" stroke="none" stroke-width="0.45" opacity="1" stroke-linejoin="round"/>
<line x1="169.4" y1="393" x2="252" y2="393" stroke="#666" stroke-width="0.8"/>
<line x1="169.4" y1="393" x2="169.4" y2="440.8" stroke="#444" stroke-width="0.9"/>
<line x1="169.4" y1="440.8" x2="252" y2="440.8" stroke="#999" stroke-width="0.6" stroke-dasharray="1 2"/>
<path d="M168.20000000000002 440.8h1.2M168.20000000000002 431.8h1.2M168.20000000000002 422.8h1.2M168.20000000000002 413.8h1.2M168.20000000000002 404.8h1.2M168.20000000000002 395.8h1.2" stroke="#555" stroke-width="0.5"/>
<polygon points="170.0,440.4 170.0,440.0 170.6,439.2 171.2,438.2 171.8,437.7 172.4,436.3 173.0,436.3 173.6,434.8 174.2,432.8 174.8,432.6 175.4,430.1 176.0,430.1 176.6,428.8 177.2,426.6 177.8,423.6 178.4,422.9 179.0,422.1 179.6,419.8 180.2,418.9 180.8,416.5 181.4,415.0 182.0,412.5 182.6,412.5 183.2,409.8 183.8,409.8 184.4,408.3 185.0,407.9 185.6,407.1 186.2,406.7 186.8,406.0 187.4,406.1 188.0,407.1 188.6,407.4 189.2,408.9 189.8,410.0 190.4,412.4 191.0,413.7 191.6,414.9 192.2,417.6 192.8,419.4 193.4,423.1 194.0,428.2 194.6,430.8 195.2,435.0 195.8,439.0 196.0,440.4" fill="#ffff00" stroke="#222" stroke-width="0.45" opacity="1" stroke-linejoin="round"/>
<polygon points="193.0,440.4 193.0,440.4 193.6,431.8 194.2,421.3 194.8,412.1 195.4,408.6 196.0,410.1 196.6,407.8 197.2,407.5 197.8,406.7 198.4,406.7 199.0,406.1 199.6,408.7 200.2,409.1 200.8,412.2 201.4,411.4 202.0,413.1 202.6,415.4 203.2,416.8 203.8,419.5 204.4,420.6 205.0,422.2 205.6,424.3 206.2,425.9 206.8,428.4 207.4,428.4 208.0,430.5 208.6,432.1 209.2,433.7 209.8,433.4 210.4,434.9 211.0,433.5 211.6,434.8 212.2,435.5 212.8,436.0 213.4,436.8 214.0,437.0 214.6,436.7 215.2,437.7 215.8,437.7 216.4,438.5 217.0,438.4 217.6,438.4 218.2,438.5 218.8,439.2 219.4,439.0 220.0,438.9 220.6,439.3 221.2,439.4 221.8,439.3 222.4,439.4 223.0,439.6 223.6,439.9 224.2,440.0 224.8,440.1 225.4,440.3 226.0,440.4 226.0,440.4" fill="#f50808" stroke="#700" stroke-width="0.45" opacity="1" stroke-linejoin="round"/>
<polygon points="171.0,440.4 171.0,440.4 171.6,439.3 172.2,438.2 172.8,437.2 173.4,436.8 174.0,434.7 174.6,434.2 175.2,431.0 175.8,430.0 176.4,429.9 177.0,427.4 177.6,425.1 178.2,423.4 178.8,423.8 179.4,420.0 180.0,419.3 180.6,415.4 181.2,415.9 181.8,413.3 182.4,412.1 183.0,408.6 183.6,408.0 184.2,405.3 184.8,403.4 185.4,401.7 186.0,400.8 186.6,399.3 187.2,398.5 187.8,398.7 188.4,399.5 189.0,400.6 189.6,402.7 190.2,400.4 190.8,401.2 191.4,400.0 192.0,404.0 192.6,405.4 193.2,407.7 193.8,410.7 194.4,413.0 195.0,416.9 195.6,418.3 196.2,421.6 196.8,423.0 197.4,426.6 198.0,429.6 198.6,430.8 199.2,433.3 199.8,433.2 200.4,436.5 201.0,434.9 201.6,436.2 202.2,438.3 202.8,438.8 203.4,438.7 204.0,438.9 204.6,439.7 205.2,439.9 205.8,440.3 206.0,440.4" fill="#000" stroke="none" stroke-width="0.45" opacity="1" stroke-linejoin="round"/>
<line x1="290.1" y1="279.4" x2="371.5" y2="279.4" stroke="#666" stroke-width="0.8"/>
<line x1="290.1" y1="279.4" x2="290.1" y2="326.3" stroke="#444" stroke-width="0.9"/>
<line x1="290.1" y1="326.3" x2="371.5" y2="326.3" stroke="#999" stroke-width="0.6" stroke-dasharray="1 2"/>
<path d="M288.90000000000003 326.3h1.2M288.90000000000003 317.3h1.2M288.90000000000003 308.3h1.2M288.90000000000003 299.3h1.2M288.90000000000003 290.3h1.2M288.90000000000003 281.3h1.2" stroke="#555" stroke-width="0.5"/>
<polyline points="291.0,320.8 291.6,319.6 292.2,319.0 292.8,317.8 293.4,316.5 294.0,315.8 294.6,313.6 295.2,312.5 295.8,310.9 296.4,309.7 297.0,308.7 297.6,307.3 298.2,305.3 298.8,303.6 299.4,302.3 300.0,300.7 300.6,298.4 301.2,296.2 301.8,294.1 302.4,292.1 303.0,289.9 303.6,288.1 304.2,286.1 304.8,284.8 305.4,283.0 306.0,281.9 306.6,281.2 307.2,280.7 307.8,279.9" fill="none" stroke="#222" stroke-width="0.8" stroke-dasharray="1.2 1" stroke-linejoin="round"/>
<polygon points="294.0,325.9 294.0,325.9 294.6,325.2 295.2,324.4 295.8,323.2 296.4,323.2 297.0,322.3 297.6,320.8 298.2,318.8 298.8,319.6 299.4,317.6 300.0,315.8 300.6,316.1 301.2,313.8 301.8,312.0 302.4,310.1 303.0,308.5 303.6,306.4 304.2,304.4 304.8,302.5 305.4,298.7 306.0,296.9 306.6,293.4 307.2,290.2 307.8,289.0 308.4,286.1 309.0,283.9 309.6,282.3 310.2,282.0 310.8,280.2 311.4,279.8 312.0,279.7 312.6,279.3 313.2,279.4 313.8,280.1 314.4,280.6 315.0,280.9 315.6,283.6 316.2,286.8 316.8,288.5 317.4,291.9 318.0,294.2 318.6,294.4 319.2,297.8 319.8,299.7 320.4,303.2 321.0,305.1 321.6,307.3 322.2,310.0 322.8,313.2 323.4,313.8 324.0,317.2 324.6,319.5 325.2,322.4 325.8,325.0 326.0,325.9" fill="#f50808" stroke="none" stroke-width="0.45" opacity="1" stroke-linejoin="round"/>
<polygon points="298.0,325.9 298.0,325.9 298.6,325.2 299.2,324.4 299.8,323.9 300.4,323.5 301.0,322.8 301.6,321.4 302.2,321.7 302.8,318.8 303.4,318.1 304.0,315.2 304.6,314.4 305.2,312.1 305.8,311.0 306.4,307.5 307.0,304.6 307.6,302.7 308.2,301.1 308.8,297.3 309.4,294.9 310.0,291.2 310.6,290.4 311.2,287.6 311.8,285.0 312.4,283.1 313.0,281.2 313.6,279.2 314.2,281.8 314.8,282.8 315.4,283.4 316.0,285.5 316.6,288.1 317.2,290.1 317.8,292.6 318.4,294.5 319.0,295.9 319.6,299.6 320.2,301.5 320.8,304.8 321.4,306.2 322.0,309.6 322.6,310.7 323.2,312.8 323.8,314.1 324.4,316.0 325.0,317.4 325.6,318.2 326.2,318.9 326.8,319.0 327.4,320.1 328.0,321.8 328.6,321.8 329.2,321.9 329.8,322.8 330.4,323.1 331.0,323.0 331.6,324.2 332.2,324.5 332.8,324.9 333.4,325.4 334.0,325.9" fill="#000" stroke="none" stroke-width="0.45" opacity="1" stroke-linejoin="round"/>
<line x1="289.7" y1="335.7" x2="371.5" y2="335.7" stroke="#666" stroke-width="0.8"/>
<line x1="289.7" y1="335.7" x2="289.7" y2="384.5" stroke="#444" stroke-width="0.9"/>
<line x1="289.7" y1="384.5" x2="371.5" y2="384.5" stroke="#999" stroke-width="0.6" stroke-dasharray="1 2"/>
<path d="M288.5 384.5h1.2M288.5 375.5h1.2M288.5 366.5h1.2M288.5 357.5h1.2M288.5 348.5h1.2M288.5 339.5h1.2" stroke="#555" stroke-width="0.5"/>
<polygon points="291.0,384.1 291.0,379.1 291.6,376.8 292.2,375.0 292.8,373.6 293.4,371.4 294.0,372.0 294.6,370.7 295.2,369.2 295.8,371.4 296.4,366.3 297.0,365.3 297.6,361.6 298.2,361.6 298.8,360.1 299.4,358.9 300.0,359.8 300.6,355.2 301.2,354.0 301.8,350.3 302.4,349.9 303.0,349.4 303.6,346.2 304.2,345.6 304.8,344.4 305.4,341.5 306.0,342.2 306.6,341.9 307.2,342.4 307.8,341.4 308.4,344.9 309.0,346.7 309.6,346.3 310.2,348.7 310.8,347.4 311.4,350.6 312.0,346.3 312.6,350.9 313.2,350.7 313.8,355.4 314.4,353.4 315.0,358.4 315.6,358.2 316.2,358.3 316.8,360.9 317.4,361.2 318.0,363.1 318.6,366.8 319.2,367.2 319.8,368.9 320.4,372.0 321.0,372.2 321.6,372.5 322.2,377.1 322.8,376.6 323.4,378.5 324.0,381.3 324.6,381.2 325.2,382.6 325.8,383.7 326.0,384.1" fill="#000" stroke="none" stroke-width="0.45" opacity="1" stroke-linejoin="round"/>
<polygon points="296.0,384.1 296.0,384.1 296.6,380.6 297.2,376.7 297.8,374.4 298.4,371.7 299.0,368.2 299.6,366.8 300.2,363.7 300.8,361.7 301.4,358.5 302.0,384.1" fill="#fff" stroke="#555" stroke-width="0.4" opacity="1" stroke-linejoin="round"/>
<polygon points="299.0,384.1 299.0,384.1 299.6,381.5 300.2,379.4 300.8,375.6 301.4,373.4 302.0,370.2 302.6,369.8 303.2,367.3 303.8,364.5 304.4,362.6 305.0,384.1" fill="#f50808" stroke="none" stroke-width="0.45" opacity="1" stroke-linejoin="round"/>
<polygon points="321.0,384.1 321.0,384.1 321.6,381.0 322.2,379.4 322.8,375.8 323.4,373.9 324.0,377.0 324.6,376.2 325.2,376.8 325.8,377.1 326.4,378.5 327.0,377.8 327.6,378.0 328.2,379.7 328.8,377.4 329.4,379.0 330.0,379.6 330.6,378.5 331.2,379.3 331.8,379.4 332.4,379.5 333.0,380.2 333.6,380.1 334.2,379.3 334.8,380.4 335.4,379.8 336.0,378.4 336.6,378.5 337.2,380.8 337.8,379.4 338.4,381.3 339.0,381.4 339.6,380.7 340.2,379.9 340.8,381.5 341.4,380.3 342.0,380.1 342.6,381.7 343.2,382.6 343.8,383.7 344.0,384.1" fill="#ffff00" stroke="#333" stroke-width="0.4" opacity="1" stroke-linejoin="round"/>
<line x1="290.1" y1="393" x2="290.1" y2="440.7" stroke="#444" stroke-width="0.9"/>
<line x1="290.1" y1="440.7" x2="371.5" y2="440.7" stroke="#999" stroke-width="0.6" stroke-dasharray="1 2"/>
<path d="M288.90000000000003 440.7h1.2M288.90000000000003 431.7h1.2M288.90000000000003 422.7h1.2M288.90000000000003 413.7h1.2M288.90000000000003 404.7h1.2M288.90000000000003 395.7h1.2" stroke="#555" stroke-width="0.5"/>
<polygon points="291.0,440.3 291.0,433.8 291.6,433.9 292.2,433.7 292.8,433.5 293.4,432.9 294.0,431.9 294.6,431.2 295.2,430.1 295.8,428.7 296.4,427.2 297.0,425.9 297.6,423.7 298.2,421.6 298.8,419.8 299.4,417.7 300.0,415.6 300.6,413.5 301.2,411.5 301.8,409.9 302.4,408.1 303.0,406.4 303.6,405.1 304.2,403.4 304.8,402.0 305.4,401.1 306.0,400.2 306.6,399.4 307.2,398.8 307.8,398.0 308.4,398.3 309.0,399.0 309.6,399.4 310.2,400.2 310.8,401.0 311.4,401.3 312.0,401.9 312.6,402.4 313.2,403.2 313.8,404.4 314.4,405.1 315.0,405.9 315.6,407.7 316.2,409.6 316.8,411.5 317.4,413.1 318.0,414.9 318.6,418.0 319.2,420.9 319.8,423.9 320.4,427.0 321.0,430.0 321.6,433.1 322.2,436.1 322.8,439.3 323.0,440.3" fill="#fff" stroke="#222" stroke-width="0.8" opacity="1" stroke-linejoin="round"/>
<polygon points="315.0,440.3 315.0,440.3 315.6,436.9 316.2,433.5 316.8,430.1 317.4,426.8 318.0,423.4 318.6,419.6 319.2,416.7 319.8,413.1 320.4,413.3 321.0,415.1 321.6,416.7 322.2,418.4 322.8,420.6 323.4,422.0 324.0,423.4 324.6,425.1 325.2,426.7 325.8,427.8 326.4,428.7 327.0,429.5 327.6,430.4 328.2,431.1 328.8,432.0 329.4,432.6 330.0,433.2 330.6,433.5 331.2,434.2 331.8,434.9 332.4,435.6 333.0,435.7 333.6,436.2 334.2,436.4 334.8,437.0 335.4,437.4 336.0,437.5 336.6,437.7 337.2,437.9 337.8,437.9 338.4,438.4 339.0,438.5 339.6,438.7 340.2,438.9 340.8,439.0 341.4,439.1 342.0,439.2 342.6,439.3 343.2,439.5 343.8,439.6 344.4,439.7 345.0,439.8 345.6,439.9 346.2,439.9 346.8,440.0 347.4,440.0 348.0,440.1 348.6,440.2 349.2,440.2 349.8,440.3 350.0,440.3" fill="#ffff00" stroke="#222" stroke-width="0.45" opacity="1" stroke-linejoin="round"/>
<polygon points="291.0,440.3 291.0,439.8 291.6,439.4 292.2,439.1 292.8,438.7 293.4,438.4 294.0,438.1 294.6,437.6 295.2,437.0 295.8,436.7 296.4,436.1 297.0,435.6 297.6,435.2 298.2,433.9 298.8,433.3 299.4,432.3 300.0,431.9 300.6,430.5 301.2,428.8 301.8,427.5 302.4,426.1 303.0,424.8 303.6,423.1 304.2,421.1 304.8,418.5 305.4,416.4 306.0,414.3 306.6,412.3 307.2,410.5 307.8,408.7 308.4,407.0 309.0,405.0 309.6,404.2 310.2,403.5 310.8,402.4 311.4,402.2 312.0,401.7 312.6,401.2 313.2,401.6 313.8,402.2 314.4,403.1 315.0,403.8 315.6,405.6 316.2,407.1 316.8,408.9 317.4,410.5 318.0,411.9 318.6,414.4 319.2,415.8 319.8,418.0 320.4,419.7 321.0,421.8 321.6,423.7 322.2,425.9 322.8,428.1 323.4,430.0 324.0,432.7 324.6,435.1 325.2,437.3 325.8,439.5 326.0,440.3" fill="#f50808" stroke="none" stroke-width="0.45" opacity="1" stroke-linejoin="round"/>
<polygon points="293.0,440.3 293.0,440.3 293.6,440.0 294.2,439.8 294.8,439.5 295.4,439.3 296.0,439.0 296.6,438.8 297.2,438.4 297.8,437.7 298.4,436.9 299.0,436.2 299.6,435.6 300.2,434.6 300.8,433.2 301.4,432.1 302.0,430.6 302.6,429.2 303.2,427.5 303.8,425.6 304.4,423.7 305.0,422.2 305.6,420.3 306.2,418.3 306.8,416.4 307.4,414.3 308.0,412.8 308.6,411.1 309.2,409.2 309.8,407.5 310.4,405.8 311.0,404.2 311.6,403.3 312.2,402.2 312.8,401.4 313.4,400.9 314.0,401.6 314.6,401.3 315.2,402.1 315.8,403.2 316.4,404.1 317.0,405.4 317.6,406.9 318.2,408.4 318.8,410.3 319.4,412.4 320.0,413.6 320.6,415.3 321.2,417.2 321.8,418.9 322.4,420.6 323.0,422.8 323.6,424.3 324.2,425.1 324.8,426.7 325.4,428.0 326.0,429.2 326.6,430.5 327.2,431.1 327.8,432.2 328.4,433.0 329.0,433.6 329.6,434.7 330.2,435.2 330.8,435.9 331.4,436.1 332.0,436.6 332.6,437.1 333.2,437.4 333.8,437.9 334.4,438.2 335.0,438.5 335.6,438.7 336.2,439.0 336.8,439.3 337.4,439.5 338.0,439.8 338.6,439.9 339.2,440.0 339.8,440.0 340.4,440.1 341.0,440.2 341.6,440.3 342.0,440.3" fill="#000" stroke="none" stroke-width="0.45" opacity="1" stroke-linejoin="round"/>
<line x1="102.5" y1="102.8" x2="155.53243241420782" y2="72.29064801889906" stroke="#000" stroke-width="1.3"/>
<polygon points="161.6,68.8 157.2,75.2 153.9,69.4" fill="#000"/>
<line x1="94.2" y1="169.5" x2="150.54254023593077" y2="132.63277511893278" stroke="#000" stroke-width="1.3"/>
<polygon points="156.4,128.8 152.3,135.4 148.7,129.9" fill="#000"/>
<line x1="98.8" y1="187.2" x2="152.8" y2="187.2" stroke="#000" stroke-width="1.3"/>
<polygon points="159.8,187.2 152.8,190.5 152.8,183.9" fill="#000"/>
<line x1="75.5" y1="309.3" x2="152.23837073426716" y2="301.2319275691571" stroke="#000" stroke-width="1.3"/>
<polygon points="159.2,300.5 152.6,304.5 151.9,298.0" fill="#000"/>
<line x1="97.8" y1="399.6" x2="153.31736036209728" y2="363.7940151410578" stroke="#000" stroke-width="1.3"/>
<polygon points="159.2,360.0 155.1,366.6 151.5,361.0" fill="#000"/>
<line x1="97.8" y1="424.4" x2="152.2" y2="424.4" stroke="#000" stroke-width="1.3"/>
<polygon points="159.2,424.4 152.2,427.7 152.2,421.1" fill="#000"/>
<line x1="46.2" y1="57.2" x2="119.8" y2="57.2" stroke="#555" stroke-width="0.8"/>
<line x1="119.8" y1="57.2" x2="119.8" y2="111.7" stroke="#777" stroke-width="0.8"/>
<line x1="46.2" y1="57.2" x2="46.2" y2="111.7" stroke="#000" stroke-width="1.2"/>
<line x1="46.2" y1="111.7" x2="119.8" y2="111.7" stroke="#222" stroke-width="1.0"/>
<path d="M44.7 111.7h1.5M44.7 109.7h1.5M44.7 107.7h1.5M44.7 105.7h1.5M44.7 103.7h1.5M44.7 101.7h1.5M44.7 99.7h1.5M44.7 97.7h1.5M44.7 95.7h1.5M44.7 93.7h1.5M44.7 91.7h1.5M44.7 89.7h1.5M44.7 87.7h1.5M44.7 85.7h1.5M44.7 83.7h1.5M44.7 81.7h1.5M44.7 79.7h1.5M44.7 77.7h1.5M44.7 75.7h1.5M44.7 73.7h1.5M44.7 71.7h1.5M44.7 69.7h1.5M44.7 67.7h1.5M44.7 65.7h1.5M44.7 63.7h1.5M44.7 61.7h1.5M44.7 59.7h1.5M46.2 111.7v1.2M49.2 111.7v1.2M52.2 111.7v1.2M55.2 111.7v1.2M58.2 111.7v1.2M61.2 111.7v1.2M64.2 111.7v1.2M67.2 111.7v1.2M70.2 111.7v1.2M73.2 111.7v1.2M76.2 111.7v1.2M79.2 111.7v1.2M82.2 111.7v1.2M85.2 111.7v1.2M88.2 111.7v1.2M91.2 111.7v1.2M94.2 111.7v1.2M97.2 111.7v1.2M100.2 111.7v1.2M103.2 111.7v1.2M106.2 111.7v1.2M109.2 111.7v1.2M112.2 111.7v1.2M115.2 111.7v1.2M118.2 111.7v1.2" stroke="#000" stroke-width="0.5"/>
<path d="M69.3 91.2h0.7v0.7h-0.7zM91.4 87.0h0.7v0.7h-0.7zM71.9 92.4h0.7v0.7h-0.7zM56.7 89.0h0.7v0.7h-0.7zM77.6 101.7h0.7v0.7h-0.7zM52.4 79.7h0.7v0.7h-0.7zM52.3 102.4h0.7v0.7h-0.7zM80.6 67.9h0.7v0.7h-0.7zM94.2 109.4h0.7v0.7h-0.7zM78.7 93.7h0.7v0.7h-0.7zM55.4 66.7h0.7v0.7h-0.7zM72.8 68.7h0.7v0.7h-0.7zM56.9 76.9h0.7v0.7h-0.7zM49.4 86.9h0.7v0.7h-0.7zM68.7 103.9h0.7v0.7h-0.7zM72.4 94.8h0.7v0.7h-0.7zM71.5 95.8h0.7v0.7h-0.7zM69.5 78.5h0.7v0.7h-0.7zM94.9 110.8h0.7v0.7h-0.7zM87.5 97.9h0.7v0.7h-0.7zM62.8 76.3h0.7v0.7h-0.7zM61.6 69.2h0.7v0.7h-0.7zM84.0 84.0h0.7v0.7h-0.7zM87.8 83.4h0.7v0.7h-0.7zM93.0 104.1h0.7v0.7h-0.7zM48.0 75.4h0.7v0.7h-0.7zM90.8 87.1h0.7v0.7h-0.7zM94.1 83.9h0.7v0.7h-0.7zM51.4 94.3h0.7v0.7h-0.7zM84.6 78.1h0.7v0.7h-0.7zM52.1 81.0h0.7v0.7h-0.7zM93.3 100.1h0.7v0.7h-0.7zM53.5 77.1h0.7v0.7h-0.7zM52.7 68.7h0.7v0.7h-0.7zM85.5 74.0h0.7v0.7h-0.7zM74.3 86.1h0.7v0.7h-0.7zM57.0 98.9h0.7v0.7h-0.7zM54.2 95.0h0.7v0.7h-0.7zM53.5 84.9h0.7v0.7h-0.7zM58.0 78.1h0.7v0.7h-0.7zM93.6 102.2h0.7v0.7h-0.7zM62.3 105.8h0.7v0.7h-0.7zM57.9 83.7h0.7v0.7h-0.7zM88.2 94.9h0.7v0.7h-0.7zM52.7 110.5h0.7v0.7h-0.7z" fill="#000"/>
<path d="M61.4 84.5h0.8v0.8h-0.8zM61.0 74.7h0.8v0.8h-0.8zM59.1 82.2h0.8v0.8h-0.8zM68.9 84.3h0.8v0.8h-0.8zM60.5 88.1h0.8v0.8h-0.8zM53.9 84.8h0.8v0.8h-0.8zM68.9 78.2h0.8v0.8h-0.8zM61.9 83.2h0.8v0.8h-0.8zM72.4 74.0h0.8v0.8h-0.8zM60.0 83.9h0.8v0.8h-0.8zM58.7 65.8h0.8v0.8h-0.8zM66.5 93.9h0.8v0.8h-0.8zM68.0 74.5h0.8v0.8h-0.8zM56.7 81.3h0.8v0.8h-0.8zM79.9 83.7h0.8v0.8h-0.8zM60.9 89.3h0.8v0.8h-0.8zM59.3 91.2h0.8v0.8h-0.8zM54.5 77.2h0.8v0.8h-0.8zM65.8 88.5h0.8v0.8h-0.8zM65.2 81.8h0.8v0.8h-0.8zM55.1 76.8h0.8v0.8h-0.8zM64.7 78.0h0.8v0.8h-0.8zM66.3 80.5h0.8v0.8h-0.8zM57.3 80.7h0.8v0.8h-0.8zM63.4 85.1h0.8v0.8h-0.8zM56.2 78.6h0.8v0.8h-0.8zM49.1 89.6h0.8v0.8h-0.8zM71.6 78.9h0.8v0.8h-0.8zM56.2 72.6h0.8v0.8h-0.8zM61.4 81.2h0.8v0.8h-0.8zM77.5 81.5h0.8v0.8h-0.8zM53.8 65.3h0.8v0.8h-0.8zM71.3 81.1h0.8v0.8h-0.8zM47.1 81.1h0.8v0.8h-0.8zM47.1 100.9h0.8v0.8h-0.8zM69.0 83.4h0.8v0.8h-0.8zM58.6 67.2h0.8v0.8h-0.8zM59.0 70.7h0.8v0.8h-0.8zM64.8 67.2h0.8v0.8h-0.8zM52.7 87.3h0.8v0.8h-0.8zM73.2 72.9h0.8v0.8h-0.8zM47.7 85.3h0.8v0.8h-0.8zM66.8 74.1h0.8v0.8h-0.8zM54.4 75.8h0.8v0.8h-0.8zM50.5 75.9h0.8v0.8h-0.8zM70.0 84.1h0.8v0.8h-0.8zM76.5 79.5h0.8v0.8h-0.8zM58.9 74.1h0.8v0.8h-0.8zM59.0 72.1h0.8v0.8h-0.8zM71.5 85.0h0.8v0.8h-0.8zM70.7 81.5h0.8v0.8h-0.8zM54.3 80.5h0.8v0.8h-0.8zM57.0 73.3h0.8v0.8h-0.8zM60.0 80.9h0.8v0.8h-0.8zM56.2 88.6h0.8v0.8h-0.8zM61.4 83.5h0.8v0.8h-0.8zM69.7 75.1h0.8v0.8h-0.8zM54.5 87.9h0.8v0.8h-0.8zM62.7 86.0h0.8v0.8h-0.8zM66.1 67.5h0.8v0.8h-0.8zM65.8 76.0h0.8v0.8h-0.8zM54.0 77.4h0.8v0.8h-0.8zM66.1 85.3h0.8v0.8h-0.8zM68.1 70.0h0.8v0.8h-0.8zM55.3 65.7h0.8v0.8h-0.8zM59.2 83.6h0.8v0.8h-0.8zM53.9 81.5h0.8v0.8h-0.8zM61.9 86.0h0.8v0.8h-0.8zM53.4 75.0h0.8v0.8h-0.8zM53.9 90.5h0.8v0.8h-0.8zM68.7 79.3h0.8v0.8h-0.8zM61.8 80.7h0.8v0.8h-0.8zM61.6 78.7h0.8v0.8h-0.8zM57.3 72.5h0.8v0.8h-0.8zM54.9 89.9h0.8v0.8h-0.8zM64.3 80.4h0.8v0.8h-0.8zM58.3 80.4h0.8v0.8h-0.8zM62.8 76.1h0.8v0.8h-0.8zM61.6 81.4h0.8v0.8h-0.8zM54.0 75.3h0.8v0.8h-0.8zM52.0 73.6h0.8v0.8h-0.8zM67.1 65.8h0.8v0.8h-0.8zM57.9 76.3h0.8v0.8h-0.8zM55.0 80.6h0.8v0.8h-0.8zM69.0 80.5h0.8v0.8h-0.8zM58.9 76.3h0.8v0.8h-0.8zM59.0 85.5h0.8v0.8h-0.8zM56.8 73.1h0.8v0.8h-0.8zM49.9 73.4h0.8v0.8h-0.8zM48.9 86.6h0.8v0.8h-0.8zM62.8 78.6h0.8v0.8h-0.8zM71.7 76.1h0.8v0.8h-0.8zM66.0 84.8h0.8v0.8h-0.8zM47.6 70.7h0.8v0.8h-0.8zM52.6 85.4h0.8v0.8h-0.8zM70.4 72.6h0.8v0.8h-0.8zM68.4 77.7h0.8v0.8h-0.8zM56.9 76.7h0.8v0.8h-0.8zM57.4 69.1h0.8v0.8h-0.8zM52.0 72.6h0.8v0.8h-0.8zM63.9 92.5h0.8v0.8h-0.8zM81.9 78.0h0.8v0.8h-0.8zM52.5 91.9h0.8v0.8h-0.8zM64.6 75.6h0.8v0.8h-0.8zM67.5 83.2h0.8v0.8h-0.8zM47.0 76.8h0.8v0.8h-0.8zM58.1 80.1h0.8v0.8h-0.8zM61.1 78.0h0.8v0.8h-0.8zM61.5 76.5h0.8v0.8h-0.8zM52.8 89.1h0.8v0.8h-0.8zM62.9 82.6h0.8v0.8h-0.8zM47.2 79.0h0.8v0.8h-0.8zM66.6 72.3h0.8v0.8h-0.8zM68.8 77.7h0.8v0.8h-0.8zM63.2 79.2h0.8v0.8h-0.8zM61.7 87.2h0.8v0.8h-0.8zM56.8 89.4h0.8v0.8h-0.8zM53.7 74.4h0.8v0.8h-0.8zM65.7 73.6h0.8v0.8h-0.8zM57.0 85.4h0.8v0.8h-0.8zM69.7 69.4h0.8v0.8h-0.8zM64.0 91.3h0.8v0.8h-0.8zM69.6 78.6h0.8v0.8h-0.8zM55.2 78.2h0.8v0.8h-0.8zM50.8 78.4h0.8v0.8h-0.8zM58.5 79.1h0.8v0.8h-0.8zM69.5 78.6h0.8v0.8h-0.8zM48.3 86.3h0.8v0.8h-0.8zM51.4 77.3h0.8v0.8h-0.8zM58.9 77.9h0.8v0.8h-0.8zM52.0 78.5h0.8v0.8h-0.8zM77.5 76.4h0.8v0.8h-0.8zM58.9 86.7h0.8v0.8h-0.8zM66.0 84.6h0.8v0.8h-0.8zM66.9 68.2h0.8v0.8h-0.8zM53.1 80.8h0.8v0.8h-0.8zM64.0 87.8h0.8v0.8h-0.8zM63.8 78.6h0.8v0.8h-0.8zM60.3 78.7h0.8v0.8h-0.8zM62.0 84.0h0.8v0.8h-0.8zM57.3 75.1h0.8v0.8h-0.8zM53.2 86.6h0.8v0.8h-0.8zM70.2 86.0h0.8v0.8h-0.8zM66.9 85.0h0.8v0.8h-0.8zM60.0 84.0h0.8v0.8h-0.8zM51.6 78.8h0.8v0.8h-0.8zM54.1 84.4h0.8v0.8h-0.8zM55.4 79.4h0.8v0.8h-0.8zM63.2 88.1h0.8v0.8h-0.8zM53.7 74.4h0.8v0.8h-0.8zM66.5 73.4h0.8v0.8h-0.8zM63.6 76.6h0.8v0.8h-0.8zM59.2 69.1h0.8v0.8h-0.8zM65.7 77.0h0.8v0.8h-0.8zM52.8 92.5h0.8v0.8h-0.8zM65.7 101.1h0.8v0.8h-0.8zM63.3 77.9h0.8v0.8h-0.8zM60.9 89.6h0.8v0.8h-0.8zM59.8 82.7h0.8v0.8h-0.8zM64.1 74.5h0.8v0.8h-0.8zM61.0 77.0h0.8v0.8h-0.8zM50.0 85.2h0.8v0.8h-0.8zM65.3 80.4h0.8v0.8h-0.8zM52.7 68.0h0.8v0.8h-0.8zM63.9 79.4h0.8v0.8h-0.8zM46.5 79.6h0.8v0.8h-0.8zM47.8 79.8h0.8v0.8h-0.8zM61.1 82.1h0.8v0.8h-0.8zM61.7 81.0h0.8v0.8h-0.8zM50.9 77.7h0.8v0.8h-0.8zM55.9 78.6h0.8v0.8h-0.8zM62.2 83.7h0.8v0.8h-0.8zM73.1 64.6h0.8v0.8h-0.8zM63.2 78.8h0.8v0.8h-0.8zM78.2 85.6h0.8v0.8h-0.8zM46.8 82.4h0.8v0.8h-0.8zM55.8 86.0h0.8v0.8h-0.8zM51.6 79.4h0.8v0.8h-0.8zM58.9 79.4h0.8v0.8h-0.8zM55.3 69.0h0.8v0.8h-0.8zM63.7 86.0h0.8v0.8h-0.8zM59.5 73.9h0.8v0.8h-0.8zM61.6 83.4h0.8v0.8h-0.8zM58.6 79.9h0.8v0.8h-0.8zM71.3 73.3h0.8v0.8h-0.8zM55.5 68.6h0.8v0.8h-0.8zM54.4 75.6h0.8v0.8h-0.8zM52.3 75.8h0.8v0.8h-0.8zM74.4 78.8h0.8v0.8h-0.8zM59.1 93.2h0.8v0.8h-0.8zM59.5 69.6h0.8v0.8h-0.8zM63.2 74.4h0.8v0.8h-0.8zM73.1 72.5h0.8v0.8h-0.8zM55.4 70.4h0.8v0.8h-0.8zM60.8 73.9h0.8v0.8h-0.8zM59.5 77.7h0.8v0.8h-0.8zM55.1 85.7h0.8v0.8h-0.8zM67.5 80.4h0.8v0.8h-0.8zM52.8 73.6h0.8v0.8h-0.8zM62.2 94.3h0.8v0.8h-0.8zM56.3 75.3h0.8v0.8h-0.8zM54.4 73.4h0.8v0.8h-0.8zM52.2 78.8h0.8v0.8h-0.8zM71.5 80.0h0.8v0.8h-0.8zM55.9 70.3h0.8v0.8h-0.8zM61.7 79.8h0.8v0.8h-0.8zM50.2 73.5h0.8v0.8h-0.8zM59.7 86.1h0.8v0.8h-0.8zM65.0 81.2h0.8v0.8h-0.8zM57.4 81.9h0.8v0.8h-0.8zM59.9 93.0h0.8v0.8h-0.8zM50.9 77.8h0.8v0.8h-0.8zM70.1 78.4h0.8v0.8h-0.8zM71.4 79.7h0.8v0.8h-0.8zM61.2 77.8h0.8v0.8h-0.8zM49.0 74.2h0.8v0.8h-0.8zM77.7 83.9h0.8v0.8h-0.8zM64.8 85.7h0.8v0.8h-0.8zM64.6 86.1h0.8v0.8h-0.8zM57.9 78.7h0.8v0.8h-0.8zM67.9 77.9h0.8v0.8h-0.8zM49.4 78.6h0.8v0.8h-0.8zM55.6 83.7h0.8v0.8h-0.8zM54.2 73.6h0.8v0.8h-0.8zM57.3 89.3h0.8v0.8h-0.8zM59.6 81.0h0.8v0.8h-0.8zM60.1 81.8h0.8v0.8h-0.8zM67.4 88.4h0.8v0.8h-0.8zM46.8 88.2h0.8v0.8h-0.8zM60.0 78.1h0.8v0.8h-0.8zM79.2 79.0h0.8v0.8h-0.8zM75.6 85.8h0.8v0.8h-0.8zM51.8 82.9h0.8v0.8h-0.8zM65.9 79.2h0.8v0.8h-0.8zM58.5 73.4h0.8v0.8h-0.8zM74.6 78.5h0.8v0.8h-0.8zM56.9 78.2h0.8v0.8h-0.8zM53.7 75.3h0.8v0.8h-0.8zM60.8 81.9h0.8v0.8h-0.8zM55.9 79.5h0.8v0.8h-0.8zM48.9 83.1h0.8v0.8h-0.8zM54.0 81.3h0.8v0.8h-0.8zM52.7 76.9h0.8v0.8h-0.8zM61.7 72.7h0.8v0.8h-0.8zM79.8 79.8h0.8v0.8h-0.8zM59.4 75.6h0.8v0.8h-0.8zM72.8 88.3h0.8v0.8h-0.8zM62.4 71.8h0.8v0.8h-0.8zM56.0 83.7h0.8v0.8h-0.8zM55.9 72.9h0.8v0.8h-0.8zM50.5 75.4h0.8v0.8h-0.8zM60.1 76.1h0.8v0.8h-0.8zM60.1 96.8h0.8v0.8h-0.8z" fill="#000"/>
<path d="M70.4 95.8h0.8v0.8h-0.8zM60.4 101.4h0.8v0.8h-0.8zM57.0 106.2h0.8v0.8h-0.8zM55.7 99.4h0.8v0.8h-0.8zM55.4 100.5h0.8v0.8h-0.8zM67.0 104.9h0.8v0.8h-0.8zM48.6 98.8h0.8v0.8h-0.8zM52.4 105.1h0.8v0.8h-0.8zM59.6 105.4h0.8v0.8h-0.8zM57.6 91.5h0.8v0.8h-0.8zM61.2 102.1h0.8v0.8h-0.8zM61.6 94.5h0.8v0.8h-0.8zM58.6 97.6h0.8v0.8h-0.8zM53.2 102.8h0.8v0.8h-0.8zM60.5 96.5h0.8v0.8h-0.8zM54.0 106.6h0.8v0.8h-0.8zM57.6 89.7h0.8v0.8h-0.8zM52.0 103.1h0.8v0.8h-0.8zM69.7 106.8h0.8v0.8h-0.8zM60.6 102.0h0.8v0.8h-0.8zM50.6 98.7h0.8v0.8h-0.8zM55.7 97.1h0.8v0.8h-0.8zM58.4 99.0h0.8v0.8h-0.8zM60.4 108.2h0.8v0.8h-0.8zM63.2 103.1h0.8v0.8h-0.8zM56.3 93.4h0.8v0.8h-0.8zM57.2 103.7h0.8v0.8h-0.8zM50.9 107.3h0.8v0.8h-0.8zM55.7 102.9h0.8v0.8h-0.8zM55.7 94.7h0.8v0.8h-0.8zM72.5 95.2h0.8v0.8h-0.8zM64.4 98.2h0.8v0.8h-0.8zM60.0 97.0h0.8v0.8h-0.8zM55.1 105.6h0.8v0.8h-0.8zM71.6 96.8h0.8v0.8h-0.8zM58.1 105.7h0.8v0.8h-0.8zM53.6 104.6h0.8v0.8h-0.8zM52.5 104.0h0.8v0.8h-0.8zM61.1 107.1h0.8v0.8h-0.8zM60.5 95.0h0.8v0.8h-0.8zM62.7 95.5h0.8v0.8h-0.8zM63.3 108.6h0.8v0.8h-0.8zM62.2 98.2h0.8v0.8h-0.8zM66.3 101.8h0.8v0.8h-0.8zM49.3 99.2h0.8v0.8h-0.8zM67.9 99.5h0.8v0.8h-0.8zM58.9 99.3h0.8v0.8h-0.8zM60.5 102.0h0.8v0.8h-0.8zM56.8 90.3h0.8v0.8h-0.8zM66.6 104.6h0.8v0.8h-0.8zM65.2 107.5h0.8v0.8h-0.8zM54.9 98.0h0.8v0.8h-0.8zM60.2 109.4h0.8v0.8h-0.8zM53.0 103.8h0.8v0.8h-0.8zM68.3 99.5h0.8v0.8h-0.8zM49.3 101.2h0.8v0.8h-0.8zM56.0 93.3h0.8v0.8h-0.8zM64.2 98.4h0.8v0.8h-0.8zM62.8 94.4h0.8v0.8h-0.8zM65.7 93.8h0.8v0.8h-0.8zM65.4 91.9h0.8v0.8h-0.8zM67.7 99.1h0.8v0.8h-0.8zM47.1 99.8h0.8v0.8h-0.8zM60.4 96.0h0.8v0.8h-0.8zM54.5 102.3h0.8v0.8h-0.8zM56.8 85.7h0.8v0.8h-0.8zM55.0 103.1h0.8v0.8h-0.8zM60.1 106.0h0.8v0.8h-0.8zM63.6 102.6h0.8v0.8h-0.8zM65.6 105.8h0.8v0.8h-0.8zM58.7 97.9h0.8v0.8h-0.8zM65.2 103.1h0.8v0.8h-0.8zM61.3 101.5h0.8v0.8h-0.8zM60.0 104.2h0.8v0.8h-0.8zM59.0 108.9h0.8v0.8h-0.8zM53.9 99.0h0.8v0.8h-0.8zM60.3 104.7h0.8v0.8h-0.8zM63.5 108.4h0.8v0.8h-0.8zM54.7 106.8h0.8v0.8h-0.8zM61.3 95.8h0.8v0.8h-0.8zM63.5 98.7h0.8v0.8h-0.8zM53.1 101.4h0.8v0.8h-0.8zM74.2 104.7h0.8v0.8h-0.8zM60.2 96.3h0.8v0.8h-0.8zM49.7 100.0h0.8v0.8h-0.8zM55.2 97.9h0.8v0.8h-0.8zM65.9 101.4h0.8v0.8h-0.8zM49.4 107.4h0.8v0.8h-0.8zM55.8 94.4h0.8v0.8h-0.8zM60.2 103.4h0.8v0.8h-0.8zM55.6 104.5h0.8v0.8h-0.8zM63.7 96.6h0.8v0.8h-0.8zM57.1 107.2h0.8v0.8h-0.8zM65.0 108.0h0.8v0.8h-0.8zM71.0 101.1h0.8v0.8h-0.8zM65.4 93.4h0.8v0.8h-0.8zM62.8 103.0h0.8v0.8h-0.8zM57.3 98.8h0.8v0.8h-0.8zM50.2 101.7h0.8v0.8h-0.8zM66.9 99.2h0.8v0.8h-0.8zM61.7 97.7h0.8v0.8h-0.8zM59.8 96.0h0.8v0.8h-0.8zM60.6 99.9h0.8v0.8h-0.8zM60.2 98.0h0.8v0.8h-0.8zM49.8 99.4h0.8v0.8h-0.8zM65.3 108.9h0.8v0.8h-0.8zM55.7 105.0h0.8v0.8h-0.8zM63.3 103.0h0.8v0.8h-0.8zM47.1 102.6h0.8v0.8h-0.8zM51.2 106.9h0.8v0.8h-0.8zM63.5 104.1h0.8v0.8h-0.8zM62.9 94.6h0.8v0.8h-0.8zM64.8 101.4h0.8v0.8h-0.8zM56.7 97.4h0.8v0.8h-0.8zM50.9 98.8h0.8v0.8h-0.8zM79.6 102.0h0.8v0.8h-0.8zM59.5 97.8h0.8v0.8h-0.8zM53.7 98.2h0.8v0.8h-0.8zM51.8 105.4h0.8v0.8h-0.8zM56.1 105.3h0.8v0.8h-0.8zM49.9 105.6h0.8v0.8h-0.8zM57.8 104.3h0.8v0.8h-0.8zM57.3 96.6h0.8v0.8h-0.8zM66.5 98.8h0.8v0.8h-0.8zM57.0 96.6h0.8v0.8h-0.8zM59.4 99.1h0.8v0.8h-0.8zM60.0 102.7h0.8v0.8h-0.8zM53.2 93.9h0.8v0.8h-0.8zM61.0 105.6h0.8v0.8h-0.8zM62.9 95.3h0.8v0.8h-0.8zM62.2 102.9h0.8v0.8h-0.8zM60.0 103.1h0.8v0.8h-0.8zM55.7 102.1h0.8v0.8h-0.8zM64.5 98.5h0.8v0.8h-0.8zM47.9 100.5h0.8v0.8h-0.8zM59.4 91.8h0.8v0.8h-0.8zM53.3 103.9h0.8v0.8h-0.8zM56.9 101.5h0.8v0.8h-0.8zM49.2 105.5h0.8v0.8h-0.8zM70.3 100.0h0.8v0.8h-0.8zM52.9 95.2h0.8v0.8h-0.8zM64.2 101.5h0.8v0.8h-0.8zM52.4 107.1h0.8v0.8h-0.8zM63.4 104.0h0.8v0.8h-0.8zM62.4 94.9h0.8v0.8h-0.8zM64.5 108.2h0.8v0.8h-0.8zM65.2 97.4h0.8v0.8h-0.8zM53.0 105.7h0.8v0.8h-0.8zM65.0 107.1h0.8v0.8h-0.8zM66.4 100.5h0.8v0.8h-0.8zM55.1 91.7h0.8v0.8h-0.8zM54.8 98.6h0.8v0.8h-0.8zM62.5 102.9h0.8v0.8h-0.8zM48.4 97.4h0.8v0.8h-0.8zM53.0 105.3h0.8v0.8h-0.8zM71.4 110.5h0.8v0.8h-0.8zM68.0 109.1h0.8v0.8h-0.8zM49.4 99.3h0.8v0.8h-0.8zM52.9 99.5h0.8v0.8h-0.8zM76.3 92.6h0.8v0.8h-0.8zM61.9 94.8h0.8v0.8h-0.8zM67.4 107.5h0.8v0.8h-0.8zM58.5 107.5h0.8v0.8h-0.8zM60.2 98.2h0.8v0.8h-0.8zM55.3 100.4h0.8v0.8h-0.8zM62.3 101.6h0.8v0.8h-0.8zM74.5 100.0h0.8v0.8h-0.8zM54.7 97.4h0.8v0.8h-0.8zM52.6 93.8h0.8v0.8h-0.8zM51.1 105.5h0.8v0.8h-0.8zM58.4 100.1h0.8v0.8h-0.8zM60.5 106.3h0.8v0.8h-0.8zM62.3 104.9h0.8v0.8h-0.8zM54.1 99.7h0.8v0.8h-0.8zM52.6 100.5h0.8v0.8h-0.8zM52.3 99.1h0.8v0.8h-0.8zM56.8 99.9h0.8v0.8h-0.8zM56.1 98.5h0.8v0.8h-0.8zM67.2 99.3h0.8v0.8h-0.8zM50.9 102.0h0.8v0.8h-0.8zM50.4 95.6h0.8v0.8h-0.8zM58.6 92.7h0.8v0.8h-0.8zM65.2 92.6h0.8v0.8h-0.8zM51.7 103.9h0.8v0.8h-0.8z" fill="#000"/>
<path d="M75.6 103.3h0.8v0.8h-0.8zM72.1 107.1h0.8v0.8h-0.8zM80.4 105.1h0.8v0.8h-0.8zM79.5 96.6h0.8v0.8h-0.8zM80.3 99.3h0.8v0.8h-0.8zM81.0 101.0h0.8v0.8h-0.8zM79.6 103.3h0.8v0.8h-0.8zM84.5 106.7h0.8v0.8h-0.8zM76.5 103.9h0.8v0.8h-0.8zM87.6 105.7h0.8v0.8h-0.8zM77.7 103.6h0.8v0.8h-0.8zM79.4 107.3h0.8v0.8h-0.8zM81.2 105.3h0.8v0.8h-0.8zM91.0 99.2h0.8v0.8h-0.8zM76.4 97.9h0.8v0.8h-0.8zM73.8 107.0h0.8v0.8h-0.8zM82.3 109.7h0.8v0.8h-0.8zM72.1 100.9h0.8v0.8h-0.8zM87.5 107.6h0.8v0.8h-0.8zM85.0 107.1h0.8v0.8h-0.8zM81.1 104.0h0.8v0.8h-0.8zM81.1 106.9h0.8v0.8h-0.8zM80.3 105.1h0.8v0.8h-0.8zM87.5 100.1h0.8v0.8h-0.8zM77.6 106.0h0.8v0.8h-0.8zM79.8 103.5h0.8v0.8h-0.8zM90.4 105.5h0.8v0.8h-0.8zM79.1 107.8h0.8v0.8h-0.8zM92.3 100.1h0.8v0.8h-0.8zM78.0 104.4h0.8v0.8h-0.8zM83.4 102.6h0.8v0.8h-0.8zM83.2 101.2h0.8v0.8h-0.8zM78.3 104.4h0.8v0.8h-0.8zM91.7 96.1h0.8v0.8h-0.8zM82.9 108.7h0.8v0.8h-0.8zM83.0 104.5h0.8v0.8h-0.8zM80.4 101.0h0.8v0.8h-0.8zM88.4 99.9h0.8v0.8h-0.8zM80.4 102.2h0.8v0.8h-0.8zM77.5 96.2h0.8v0.8h-0.8zM79.3 104.5h0.8v0.8h-0.8zM81.6 107.0h0.8v0.8h-0.8zM80.3 101.8h0.8v0.8h-0.8zM82.4 106.3h0.8v0.8h-0.8zM76.9 98.7h0.8v0.8h-0.8zM76.4 107.7h0.8v0.8h-0.8zM85.5 100.9h0.8v0.8h-0.8zM81.5 106.9h0.8v0.8h-0.8zM87.0 101.7h0.8v0.8h-0.8zM79.9 108.9h0.8v0.8h-0.8zM91.8 109.4h0.8v0.8h-0.8zM75.9 105.6h0.8v0.8h-0.8zM79.7 103.8h0.8v0.8h-0.8zM78.0 102.3h0.8v0.8h-0.8zM81.0 110.3h0.8v0.8h-0.8zM84.1 105.5h0.8v0.8h-0.8zM81.1 101.4h0.8v0.8h-0.8zM80.0 108.3h0.8v0.8h-0.8zM82.2 103.9h0.8v0.8h-0.8zM73.7 105.4h0.8v0.8h-0.8zM73.2 109.3h0.8v0.8h-0.8zM78.2 104.0h0.8v0.8h-0.8zM74.9 102.3h0.8v0.8h-0.8zM76.8 108.0h0.8v0.8h-0.8zM82.1 99.9h0.8v0.8h-0.8zM72.3 103.8h0.8v0.8h-0.8zM78.8 100.1h0.8v0.8h-0.8zM83.7 103.4h0.8v0.8h-0.8zM81.5 101.9h0.8v0.8h-0.8zM78.4 102.4h0.8v0.8h-0.8zM73.8 106.2h0.8v0.8h-0.8zM82.8 98.0h0.8v0.8h-0.8zM81.5 108.0h0.8v0.8h-0.8zM82.1 108.5h0.8v0.8h-0.8zM79.8 104.0h0.8v0.8h-0.8zM75.2 100.8h0.8v0.8h-0.8zM72.8 100.9h0.8v0.8h-0.8zM82.1 105.8h0.8v0.8h-0.8zM86.2 104.5h0.8v0.8h-0.8zM76.5 105.5h0.8v0.8h-0.8zM80.3 110.2h0.8v0.8h-0.8zM89.8 107.4h0.8v0.8h-0.8zM75.9 102.2h0.8v0.8h-0.8zM81.9 101.5h0.8v0.8h-0.8zM83.4 106.4h0.8v0.8h-0.8zM84.8 104.8h0.8v0.8h-0.8zM77.0 101.1h0.8v0.8h-0.8zM80.4 108.6h0.8v0.8h-0.8zM88.1 107.4h0.8v0.8h-0.8zM82.6 106.4h0.8v0.8h-0.8zM84.7 108.5h0.8v0.8h-0.8zM84.9 98.6h0.8v0.8h-0.8zM85.3 105.3h0.8v0.8h-0.8zM78.9 105.8h0.8v0.8h-0.8zM82.3 103.8h0.8v0.8h-0.8zM73.4 104.4h0.8v0.8h-0.8zM83.5 103.8h0.8v0.8h-0.8zM73.9 105.6h0.8v0.8h-0.8zM84.2 104.6h0.8v0.8h-0.8zM82.9 102.8h0.8v0.8h-0.8zM78.0 105.8h0.8v0.8h-0.8zM79.4 104.6h0.8v0.8h-0.8zM95.6 106.5h0.8v0.8h-0.8zM81.6 98.3h0.8v0.8h-0.8zM81.4 106.7h0.8v0.8h-0.8zM77.8 103.2h0.8v0.8h-0.8zM70.9 105.9h0.8v0.8h-0.8zM78.3 106.4h0.8v0.8h-0.8zM87.1 103.4h0.8v0.8h-0.8zM85.4 104.9h0.8v0.8h-0.8zM80.1 103.0h0.8v0.8h-0.8zM77.2 108.5h0.8v0.8h-0.8zM85.0 100.5h0.8v0.8h-0.8zM84.8 101.4h0.8v0.8h-0.8zM74.2 108.2h0.8v0.8h-0.8zM75.2 108.1h0.8v0.8h-0.8zM81.9 107.2h0.8v0.8h-0.8z" fill="#000"/>
<polygon points="47.0,77.0 52.0,74.5 60.0,74.0 66.0,76.0 70.0,80.0 70.5,86.0 66.0,90.0 56.0,91.0 47.0,90.0" fill="#000" opacity="0.78" filter="url(#bl1)" stroke-linejoin="round"/>
<polygon points="47.0,96.0 55.0,95.0 63.0,96.0 69.0,100.0 70.0,106.0 68.0,111.0 47.0,111.0" fill="#000" opacity="0.78" filter="url(#bl1)" stroke-linejoin="round"/>
<polygon points="76.0,101.0 82.0,100.0 87.0,102.0 88.0,107.0 82.0,110.5 75.0,110.0" fill="#000" opacity="0.6" filter="url(#bl1)" stroke-linejoin="round"/>
<polygon points="73.5,99.4 78.4,95.8 87.4,94.8 92.3,98.6 93.6,102.7 92.0,107.6 85.8,109.5 75.1,110.0 73.5,106.0" fill="none" stroke="#000" stroke-width="0.8" stroke-linejoin="round"/>
<text x="97" y="97.2" font-size="5" font-weight="normal" text-anchor="start" fill="#333">R2</text>
<line x1="46.9" y1="144.2" x2="120.1" y2="144.2" stroke="#555" stroke-width="0.8"/>
<line x1="120.1" y1="144.2" x2="120.1" y2="198.2" stroke="#777" stroke-width="0.8"/>
<line x1="46.9" y1="144.2" x2="46.9" y2="198.2" stroke="#000" stroke-width="1.2"/>
<line x1="46.9" y1="198.2" x2="120.1" y2="198.2" stroke="#222" stroke-width="1.0"/>
<path d="M45.4 198.2h1.5M45.4 196.2h1.5M45.4 194.2h1.5M45.4 192.2h1.5M45.4 190.2h1.5M45.4 188.2h1.5M45.4 186.2h1.5M45.4 184.2h1.5M45.4 182.2h1.5M45.4 180.2h1.5M45.4 178.2h1.5M45.4 176.2h1.5M45.4 174.2h1.5M45.4 172.2h1.5M45.4 170.2h1.5M45.4 168.2h1.5M45.4 166.2h1.5M45.4 164.2h1.5M45.4 162.2h1.5M45.4 160.2h1.5M45.4 158.2h1.5M45.4 156.2h1.5M45.4 154.2h1.5M45.4 152.2h1.5M45.4 150.2h1.5M45.4 148.2h1.5M45.4 146.2h1.5M46.9 198.2v1.2M49.9 198.2v1.2M52.9 198.2v1.2M55.9 198.2v1.2M58.9 198.2v1.2M61.9 198.2v1.2M64.9 198.2v1.2M67.9 198.2v1.2M70.9 198.2v1.2M73.9 198.2v1.2M76.9 198.2v1.2M79.9 198.2v1.2M82.9 198.2v1.2M85.9 198.2v1.2M88.9 198.2v1.2M91.9 198.2v1.2M94.9 198.2v1.2M97.9 198.2v1.2M100.9 198.2v1.2M103.9 198.2v1.2M106.9 198.2v1.2M109.9 198.2v1.2M112.9 198.2v1.2M115.9 198.2v1.2M118.9 198.2v1.2" stroke="#000" stroke-width="0.5"/>
<path d="M57.2 186.3h0.7v0.7h-0.7zM56.2 177.3h0.7v0.7h-0.7zM58.7 184.2h0.7v0.7h-0.7zM63.4 183.6h0.7v0.7h-0.7zM97.7 189.7h0.7v0.7h-0.7zM91.1 177.3h0.7v0.7h-0.7zM67.1 173.9h0.7v0.7h-0.7zM82.6 181.4h0.7v0.7h-0.7zM61.7 172.5h0.7v0.7h-0.7zM57.1 178.8h0.7v0.7h-0.7zM67.6 196.0h0.7v0.7h-0.7zM83.8 179.0h0.7v0.7h-0.7zM66.1 176.0h0.7v0.7h-0.7zM94.8 181.4h0.7v0.7h-0.7zM86.3 190.8h0.7v0.7h-0.7zM93.4 172.5h0.7v0.7h-0.7zM64.1 182.0h0.7v0.7h-0.7zM52.2 194.9h0.7v0.7h-0.7zM64.3 192.0h0.7v0.7h-0.7zM74.0 173.4h0.7v0.7h-0.7zM67.7 178.2h0.7v0.7h-0.7zM50.0 175.9h0.7v0.7h-0.7zM77.8 172.8h0.7v0.7h-0.7zM63.6 183.0h0.7v0.7h-0.7zM75.2 175.5h0.7v0.7h-0.7zM83.3 178.8h0.7v0.7h-0.7zM84.3 189.3h0.7v0.7h-0.7zM55.4 177.3h0.7v0.7h-0.7zM62.0 190.5h0.7v0.7h-0.7zM68.3 182.0h0.7v0.7h-0.7z" fill="#000"/>
<path d="M61.8 188.6h0.8v0.8h-0.8zM56.1 195.0h0.8v0.8h-0.8zM58.5 192.3h0.8v0.8h-0.8zM69.2 192.0h0.8v0.8h-0.8zM64.7 190.4h0.8v0.8h-0.8zM49.4 182.1h0.8v0.8h-0.8zM48.0 181.3h0.8v0.8h-0.8zM62.0 188.6h0.8v0.8h-0.8zM55.7 189.6h0.8v0.8h-0.8zM50.8 193.0h0.8v0.8h-0.8zM65.3 192.6h0.8v0.8h-0.8zM53.6 195.7h0.8v0.8h-0.8zM57.1 193.6h0.8v0.8h-0.8zM50.6 193.9h0.8v0.8h-0.8zM63.9 196.8h0.8v0.8h-0.8zM58.2 193.0h0.8v0.8h-0.8zM53.4 195.0h0.8v0.8h-0.8zM64.2 195.8h0.8v0.8h-0.8zM54.9 185.6h0.8v0.8h-0.8zM57.5 190.1h0.8v0.8h-0.8zM52.1 193.7h0.8v0.8h-0.8zM65.5 192.8h0.8v0.8h-0.8zM66.8 192.8h0.8v0.8h-0.8zM50.3 188.4h0.8v0.8h-0.8zM55.2 194.1h0.8v0.8h-0.8zM65.3 191.6h0.8v0.8h-0.8zM66.0 187.3h0.8v0.8h-0.8zM61.5 195.7h0.8v0.8h-0.8zM51.2 195.5h0.8v0.8h-0.8zM70.9 188.3h0.8v0.8h-0.8zM50.2 186.5h0.8v0.8h-0.8zM51.0 193.5h0.8v0.8h-0.8zM63.7 188.0h0.8v0.8h-0.8zM59.9 190.3h0.8v0.8h-0.8zM64.3 195.0h0.8v0.8h-0.8zM55.3 195.0h0.8v0.8h-0.8zM62.5 190.6h0.8v0.8h-0.8zM60.0 194.0h0.8v0.8h-0.8zM55.5 188.0h0.8v0.8h-0.8zM68.0 191.0h0.8v0.8h-0.8zM53.3 193.1h0.8v0.8h-0.8zM47.3 189.1h0.8v0.8h-0.8zM65.1 190.2h0.8v0.8h-0.8zM53.9 184.5h0.8v0.8h-0.8zM72.5 189.1h0.8v0.8h-0.8zM64.0 196.3h0.8v0.8h-0.8zM47.7 191.3h0.8v0.8h-0.8zM53.5 193.7h0.8v0.8h-0.8zM57.9 185.4h0.8v0.8h-0.8zM58.5 194.4h0.8v0.8h-0.8zM55.7 193.5h0.8v0.8h-0.8zM53.9 190.8h0.8v0.8h-0.8zM60.8 191.7h0.8v0.8h-0.8zM68.0 195.2h0.8v0.8h-0.8zM64.7 194.2h0.8v0.8h-0.8zM59.3 185.9h0.8v0.8h-0.8zM59.8 189.9h0.8v0.8h-0.8zM57.8 196.4h0.8v0.8h-0.8zM60.3 186.7h0.8v0.8h-0.8zM56.7 187.7h0.8v0.8h-0.8zM56.5 187.1h0.8v0.8h-0.8zM66.3 183.9h0.8v0.8h-0.8zM50.4 189.1h0.8v0.8h-0.8zM55.0 184.9h0.8v0.8h-0.8zM65.0 183.9h0.8v0.8h-0.8zM63.5 194.1h0.8v0.8h-0.8zM55.2 188.1h0.8v0.8h-0.8zM58.5 191.7h0.8v0.8h-0.8zM62.2 190.6h0.8v0.8h-0.8zM54.8 186.7h0.8v0.8h-0.8zM52.5 187.7h0.8v0.8h-0.8zM79.9 185.5h0.8v0.8h-0.8zM70.1 193.1h0.8v0.8h-0.8zM59.7 191.9h0.8v0.8h-0.8zM62.0 190.9h0.8v0.8h-0.8zM57.1 191.9h0.8v0.8h-0.8zM49.1 189.6h0.8v0.8h-0.8zM53.2 193.8h0.8v0.8h-0.8zM62.8 182.8h0.8v0.8h-0.8zM56.3 195.4h0.8v0.8h-0.8zM47.9 185.8h0.8v0.8h-0.8zM65.9 190.5h0.8v0.8h-0.8zM54.5 185.7h0.8v0.8h-0.8zM59.4 188.6h0.8v0.8h-0.8zM59.7 192.9h0.8v0.8h-0.8zM63.6 189.6h0.8v0.8h-0.8zM54.0 191.2h0.8v0.8h-0.8zM57.3 191.8h0.8v0.8h-0.8zM53.9 190.0h0.8v0.8h-0.8zM53.5 188.4h0.8v0.8h-0.8zM59.3 196.1h0.8v0.8h-0.8zM53.9 193.6h0.8v0.8h-0.8zM60.8 191.5h0.8v0.8h-0.8zM63.4 188.6h0.8v0.8h-0.8zM62.5 192.4h0.8v0.8h-0.8zM49.8 191.5h0.8v0.8h-0.8zM60.8 186.8h0.8v0.8h-0.8zM67.5 193.0h0.8v0.8h-0.8zM51.8 185.8h0.8v0.8h-0.8zM75.0 180.1h0.8v0.8h-0.8zM57.2 188.2h0.8v0.8h-0.8zM62.8 191.5h0.8v0.8h-0.8zM60.3 192.2h0.8v0.8h-0.8zM49.5 196.8h0.8v0.8h-0.8zM54.5 196.0h0.8v0.8h-0.8zM63.5 191.2h0.8v0.8h-0.8zM59.2 190.8h0.8v0.8h-0.8zM61.4 183.9h0.8v0.8h-0.8zM64.4 184.2h0.8v0.8h-0.8zM61.7 190.8h0.8v0.8h-0.8zM65.7 189.6h0.8v0.8h-0.8zM56.3 187.7h0.8v0.8h-0.8zM59.5 190.5h0.8v0.8h-0.8zM52.9 189.5h0.8v0.8h-0.8zM52.1 193.8h0.8v0.8h-0.8zM49.9 184.2h0.8v0.8h-0.8zM50.5 195.8h0.8v0.8h-0.8zM54.1 193.9h0.8v0.8h-0.8zM63.8 188.8h0.8v0.8h-0.8zM64.0 193.3h0.8v0.8h-0.8zM57.7 187.9h0.8v0.8h-0.8zM57.6 185.3h0.8v0.8h-0.8zM55.9 188.5h0.8v0.8h-0.8zM61.5 192.5h0.8v0.8h-0.8zM53.0 194.9h0.8v0.8h-0.8zM67.4 191.3h0.8v0.8h-0.8zM52.2 193.3h0.8v0.8h-0.8zM59.6 195.5h0.8v0.8h-0.8zM56.6 188.3h0.8v0.8h-0.8zM64.7 189.7h0.8v0.8h-0.8zM61.1 194.9h0.8v0.8h-0.8zM62.5 190.8h0.8v0.8h-0.8zM52.8 187.7h0.8v0.8h-0.8zM54.6 188.6h0.8v0.8h-0.8zM65.0 186.0h0.8v0.8h-0.8zM47.6 190.8h0.8v0.8h-0.8zM69.5 196.6h0.8v0.8h-0.8zM54.8 186.4h0.8v0.8h-0.8zM53.8 187.0h0.8v0.8h-0.8zM53.7 193.2h0.8v0.8h-0.8zM49.6 187.5h0.8v0.8h-0.8zM56.0 190.9h0.8v0.8h-0.8zM51.9 187.5h0.8v0.8h-0.8zM49.0 187.7h0.8v0.8h-0.8zM62.2 189.9h0.8v0.8h-0.8zM57.5 187.1h0.8v0.8h-0.8zM56.0 177.5h0.8v0.8h-0.8zM52.2 191.2h0.8v0.8h-0.8zM64.2 185.5h0.8v0.8h-0.8zM71.9 187.8h0.8v0.8h-0.8zM60.8 185.9h0.8v0.8h-0.8zM60.9 190.9h0.8v0.8h-0.8zM66.6 185.8h0.8v0.8h-0.8zM48.5 192.6h0.8v0.8h-0.8zM61.5 188.8h0.8v0.8h-0.8zM67.1 193.6h0.8v0.8h-0.8zM60.1 185.9h0.8v0.8h-0.8zM66.4 184.9h0.8v0.8h-0.8zM59.3 188.5h0.8v0.8h-0.8zM55.6 192.5h0.8v0.8h-0.8zM65.2 192.0h0.8v0.8h-0.8zM68.0 184.6h0.8v0.8h-0.8zM61.7 192.9h0.8v0.8h-0.8zM79.4 196.8h0.8v0.8h-0.8zM61.0 197.1h0.8v0.8h-0.8zM67.2 185.9h0.8v0.8h-0.8zM56.7 191.3h0.8v0.8h-0.8zM54.3 194.3h0.8v0.8h-0.8zM53.6 188.4h0.8v0.8h-0.8zM48.2 186.8h0.8v0.8h-0.8zM59.8 193.1h0.8v0.8h-0.8zM54.9 186.3h0.8v0.8h-0.8zM60.7 192.6h0.8v0.8h-0.8zM68.2 188.8h0.8v0.8h-0.8zM54.7 193.3h0.8v0.8h-0.8zM70.3 190.8h0.8v0.8h-0.8zM57.3 186.8h0.8v0.8h-0.8zM55.0 195.3h0.8v0.8h-0.8zM64.9 196.1h0.8v0.8h-0.8zM50.6 193.7h0.8v0.8h-0.8zM50.9 196.8h0.8v0.8h-0.8zM59.0 196.9h0.8v0.8h-0.8z" fill="#000"/>
<path d="M75.8 193.9h0.8v0.8h-0.8zM75.8 193.5h0.8v0.8h-0.8zM75.6 175.0h0.8v0.8h-0.8zM82.5 174.9h0.8v0.8h-0.8zM77.7 171.5h0.8v0.8h-0.8zM76.3 181.7h0.8v0.8h-0.8zM74.4 184.5h0.8v0.8h-0.8zM66.4 192.3h0.8v0.8h-0.8zM75.9 190.7h0.8v0.8h-0.8zM76.2 176.7h0.8v0.8h-0.8zM75.7 183.1h0.8v0.8h-0.8zM81.0 175.3h0.8v0.8h-0.8zM74.0 185.1h0.8v0.8h-0.8zM82.2 166.4h0.8v0.8h-0.8zM72.7 178.6h0.8v0.8h-0.8zM86.6 183.2h0.8v0.8h-0.8zM82.0 181.0h0.8v0.8h-0.8zM72.4 190.5h0.8v0.8h-0.8zM75.8 176.1h0.8v0.8h-0.8zM87.8 165.1h0.8v0.8h-0.8zM85.0 177.4h0.8v0.8h-0.8zM73.4 183.8h0.8v0.8h-0.8zM73.7 183.6h0.8v0.8h-0.8zM74.7 174.1h0.8v0.8h-0.8zM91.5 169.2h0.8v0.8h-0.8zM83.0 176.9h0.8v0.8h-0.8zM81.4 169.9h0.8v0.8h-0.8zM72.7 161.7h0.8v0.8h-0.8zM83.1 180.1h0.8v0.8h-0.8zM72.1 188.8h0.8v0.8h-0.8zM79.2 185.3h0.8v0.8h-0.8zM81.1 183.3h0.8v0.8h-0.8zM77.9 177.4h0.8v0.8h-0.8zM81.6 186.0h0.8v0.8h-0.8zM72.1 175.9h0.8v0.8h-0.8zM77.8 191.8h0.8v0.8h-0.8zM77.0 169.6h0.8v0.8h-0.8zM82.1 182.6h0.8v0.8h-0.8zM87.9 175.7h0.8v0.8h-0.8zM88.0 169.7h0.8v0.8h-0.8zM82.6 178.3h0.8v0.8h-0.8zM72.0 181.6h0.8v0.8h-0.8zM84.8 183.5h0.8v0.8h-0.8zM76.1 188.3h0.8v0.8h-0.8zM82.6 183.3h0.8v0.8h-0.8zM79.5 181.2h0.8v0.8h-0.8zM73.8 181.9h0.8v0.8h-0.8zM78.6 174.9h0.8v0.8h-0.8zM76.6 181.9h0.8v0.8h-0.8zM79.1 186.3h0.8v0.8h-0.8zM72.8 180.4h0.8v0.8h-0.8zM79.4 176.8h0.8v0.8h-0.8zM79.7 176.0h0.8v0.8h-0.8zM84.0 175.2h0.8v0.8h-0.8zM72.3 188.1h0.8v0.8h-0.8zM86.4 162.8h0.8v0.8h-0.8zM77.4 180.8h0.8v0.8h-0.8zM83.3 186.8h0.8v0.8h-0.8zM77.2 170.3h0.8v0.8h-0.8zM81.4 184.7h0.8v0.8h-0.8zM80.4 179.2h0.8v0.8h-0.8zM72.0 173.6h0.8v0.8h-0.8zM83.0 179.1h0.8v0.8h-0.8zM81.4 180.4h0.8v0.8h-0.8zM86.6 184.5h0.8v0.8h-0.8zM75.2 188.1h0.8v0.8h-0.8zM72.1 172.3h0.8v0.8h-0.8zM84.1 173.8h0.8v0.8h-0.8zM67.2 186.0h0.8v0.8h-0.8zM74.7 185.2h0.8v0.8h-0.8zM77.7 175.2h0.8v0.8h-0.8zM74.4 187.0h0.8v0.8h-0.8zM73.3 183.5h0.8v0.8h-0.8zM73.0 185.7h0.8v0.8h-0.8zM87.0 178.7h0.8v0.8h-0.8zM83.7 179.8h0.8v0.8h-0.8zM73.2 180.8h0.8v0.8h-0.8zM78.4 182.7h0.8v0.8h-0.8zM75.0 185.7h0.8v0.8h-0.8zM74.4 182.5h0.8v0.8h-0.8zM78.0 172.6h0.8v0.8h-0.8zM83.1 177.5h0.8v0.8h-0.8zM78.6 179.5h0.8v0.8h-0.8zM67.4 176.9h0.8v0.8h-0.8zM73.5 189.0h0.8v0.8h-0.8zM75.1 185.6h0.8v0.8h-0.8zM72.8 177.5h0.8v0.8h-0.8zM75.7 188.2h0.8v0.8h-0.8zM69.7 183.6h0.8v0.8h-0.8zM80.1 179.8h0.8v0.8h-0.8zM78.0 185.1h0.8v0.8h-0.8zM79.5 172.7h0.8v0.8h-0.8zM81.2 173.2h0.8v0.8h-0.8zM76.3 190.4h0.8v0.8h-0.8zM90.4 182.5h0.8v0.8h-0.8zM80.2 173.8h0.8v0.8h-0.8zM74.2 192.9h0.8v0.8h-0.8zM79.7 170.1h0.8v0.8h-0.8zM86.0 179.3h0.8v0.8h-0.8zM84.7 178.9h0.8v0.8h-0.8zM67.2 181.3h0.8v0.8h-0.8zM77.3 179.3h0.8v0.8h-0.8zM85.7 171.4h0.8v0.8h-0.8zM77.5 179.9h0.8v0.8h-0.8zM77.6 173.6h0.8v0.8h-0.8zM71.9 166.8h0.8v0.8h-0.8zM79.7 177.8h0.8v0.8h-0.8zM79.1 172.6h0.8v0.8h-0.8zM78.0 173.7h0.8v0.8h-0.8zM72.9 185.1h0.8v0.8h-0.8zM81.2 182.0h0.8v0.8h-0.8zM77.8 177.6h0.8v0.8h-0.8zM85.1 184.1h0.8v0.8h-0.8zM74.8 174.8h0.8v0.8h-0.8zM79.9 181.0h0.8v0.8h-0.8zM67.5 180.5h0.8v0.8h-0.8zM79.3 185.7h0.8v0.8h-0.8zM68.7 182.4h0.8v0.8h-0.8zM85.3 185.1h0.8v0.8h-0.8zM76.8 181.0h0.8v0.8h-0.8zM73.6 185.1h0.8v0.8h-0.8zM72.7 169.8h0.8v0.8h-0.8zM70.4 184.7h0.8v0.8h-0.8zM71.4 190.9h0.8v0.8h-0.8zM84.5 182.8h0.8v0.8h-0.8zM81.3 185.5h0.8v0.8h-0.8zM79.4 184.9h0.8v0.8h-0.8zM80.4 183.8h0.8v0.8h-0.8zM72.9 178.6h0.8v0.8h-0.8zM73.0 188.2h0.8v0.8h-0.8zM80.6 173.5h0.8v0.8h-0.8zM73.1 179.1h0.8v0.8h-0.8zM82.4 176.8h0.8v0.8h-0.8zM76.8 176.2h0.8v0.8h-0.8zM77.4 190.7h0.8v0.8h-0.8zM74.6 179.7h0.8v0.8h-0.8zM86.6 179.9h0.8v0.8h-0.8zM72.3 190.3h0.8v0.8h-0.8zM71.7 187.2h0.8v0.8h-0.8zM65.3 180.7h0.8v0.8h-0.8zM82.7 173.6h0.8v0.8h-0.8zM74.4 182.4h0.8v0.8h-0.8zM78.0 177.0h0.8v0.8h-0.8zM74.6 193.6h0.8v0.8h-0.8zM85.6 177.9h0.8v0.8h-0.8zM72.2 179.9h0.8v0.8h-0.8zM76.6 184.0h0.8v0.8h-0.8zM86.1 172.1h0.8v0.8h-0.8zM78.8 176.8h0.8v0.8h-0.8zM78.7 175.2h0.8v0.8h-0.8zM79.9 186.5h0.8v0.8h-0.8zM76.0 179.0h0.8v0.8h-0.8zM78.6 171.2h0.8v0.8h-0.8zM87.2 166.3h0.8v0.8h-0.8zM76.2 175.3h0.8v0.8h-0.8zM85.6 172.7h0.8v0.8h-0.8zM75.5 193.7h0.8v0.8h-0.8zM77.4 175.3h0.8v0.8h-0.8zM78.0 181.3h0.8v0.8h-0.8zM74.3 180.9h0.8v0.8h-0.8zM77.0 185.3h0.8v0.8h-0.8zM81.9 183.3h0.8v0.8h-0.8zM77.4 185.5h0.8v0.8h-0.8zM77.0 188.1h0.8v0.8h-0.8zM80.1 176.1h0.8v0.8h-0.8zM84.2 166.8h0.8v0.8h-0.8zM73.2 177.6h0.8v0.8h-0.8zM77.4 172.5h0.8v0.8h-0.8zM72.0 171.2h0.8v0.8h-0.8zM78.6 174.7h0.8v0.8h-0.8zM89.1 178.8h0.8v0.8h-0.8zM72.3 191.8h0.8v0.8h-0.8zM78.6 186.7h0.8v0.8h-0.8zM72.4 190.6h0.8v0.8h-0.8zM83.6 174.2h0.8v0.8h-0.8zM73.8 180.0h0.8v0.8h-0.8zM79.4 194.8h0.8v0.8h-0.8zM87.1 184.6h0.8v0.8h-0.8zM76.9 178.5h0.8v0.8h-0.8zM79.9 177.2h0.8v0.8h-0.8zM75.7 180.0h0.8v0.8h-0.8zM82.3 177.2h0.8v0.8h-0.8zM79.2 177.7h0.8v0.8h-0.8zM77.1 178.4h0.8v0.8h-0.8zM84.4 178.0h0.8v0.8h-0.8zM85.6 174.7h0.8v0.8h-0.8zM83.4 168.1h0.8v0.8h-0.8zM76.0 180.8h0.8v0.8h-0.8zM74.9 181.1h0.8v0.8h-0.8zM73.4 181.6h0.8v0.8h-0.8zM74.7 181.9h0.8v0.8h-0.8zM76.6 174.4h0.8v0.8h-0.8zM76.0 181.4h0.8v0.8h-0.8zM71.6 184.2h0.8v0.8h-0.8zM84.3 175.0h0.8v0.8h-0.8zM80.8 182.5h0.8v0.8h-0.8zM74.0 190.8h0.8v0.8h-0.8z" fill="#000"/>
<path d="M95.1 185.9h0.8v0.8h-0.8zM93.7 187.2h0.8v0.8h-0.8zM90.9 182.7h0.8v0.8h-0.8zM89.6 190.6h0.8v0.8h-0.8zM79.9 186.7h0.8v0.8h-0.8zM80.8 186.4h0.8v0.8h-0.8zM86.6 189.3h0.8v0.8h-0.8zM74.9 188.8h0.8v0.8h-0.8zM86.9 190.4h0.8v0.8h-0.8zM91.8 182.6h0.8v0.8h-0.8zM86.0 190.2h0.8v0.8h-0.8zM87.9 184.6h0.8v0.8h-0.8zM79.8 189.3h0.8v0.8h-0.8zM85.3 182.7h0.8v0.8h-0.8zM86.5 190.0h0.8v0.8h-0.8zM88.0 179.5h0.8v0.8h-0.8zM87.0 186.5h0.8v0.8h-0.8zM83.1 193.2h0.8v0.8h-0.8zM91.8 190.6h0.8v0.8h-0.8zM84.6 195.3h0.8v0.8h-0.8zM81.4 189.4h0.8v0.8h-0.8zM83.0 186.1h0.8v0.8h-0.8zM86.0 192.0h0.8v0.8h-0.8zM84.9 194.6h0.8v0.8h-0.8zM85.8 186.5h0.8v0.8h-0.8zM85.4 195.8h0.8v0.8h-0.8zM84.7 194.9h0.8v0.8h-0.8zM86.2 192.7h0.8v0.8h-0.8zM83.9 193.4h0.8v0.8h-0.8zM84.1 184.1h0.8v0.8h-0.8zM86.2 185.2h0.8v0.8h-0.8zM91.0 193.2h0.8v0.8h-0.8zM85.1 192.8h0.8v0.8h-0.8zM74.6 196.2h0.8v0.8h-0.8zM82.4 192.7h0.8v0.8h-0.8zM95.3 183.5h0.8v0.8h-0.8zM83.4 191.4h0.8v0.8h-0.8zM86.7 183.2h0.8v0.8h-0.8zM81.3 196.0h0.8v0.8h-0.8zM82.6 192.3h0.8v0.8h-0.8zM79.5 186.4h0.8v0.8h-0.8zM77.7 191.1h0.8v0.8h-0.8zM89.7 190.4h0.8v0.8h-0.8zM83.9 191.0h0.8v0.8h-0.8zM86.9 188.9h0.8v0.8h-0.8zM94.0 187.7h0.8v0.8h-0.8zM89.0 194.9h0.8v0.8h-0.8zM87.5 189.1h0.8v0.8h-0.8zM89.0 194.5h0.8v0.8h-0.8zM89.8 185.7h0.8v0.8h-0.8zM89.2 188.6h0.8v0.8h-0.8zM83.6 191.5h0.8v0.8h-0.8zM87.3 191.1h0.8v0.8h-0.8zM84.3 191.0h0.8v0.8h-0.8zM84.1 192.4h0.8v0.8h-0.8zM88.5 193.4h0.8v0.8h-0.8zM80.0 188.7h0.8v0.8h-0.8zM85.4 185.1h0.8v0.8h-0.8zM86.6 189.5h0.8v0.8h-0.8zM85.3 191.6h0.8v0.8h-0.8zM82.5 196.3h0.8v0.8h-0.8zM89.2 187.8h0.8v0.8h-0.8zM86.9 193.0h0.8v0.8h-0.8zM82.0 188.6h0.8v0.8h-0.8zM87.8 179.7h0.8v0.8h-0.8zM79.7 191.4h0.8v0.8h-0.8zM87.5 186.3h0.8v0.8h-0.8zM85.9 189.9h0.8v0.8h-0.8zM85.3 186.0h0.8v0.8h-0.8zM87.3 190.8h0.8v0.8h-0.8zM88.0 195.8h0.8v0.8h-0.8zM85.2 190.8h0.8v0.8h-0.8zM86.4 197.0h0.8v0.8h-0.8zM79.2 190.0h0.8v0.8h-0.8z" fill="#000"/>
<polygon points="47.0,187.0 55.0,185.0 64.0,186.0 70.0,190.0 71.0,198.0 47.0,198.0" fill="#000" opacity="0.85" filter="url(#bl1)" stroke-linejoin="round"/>
<polygon points="71.0,180.0 75.0,173.0 80.0,171.0 84.0,174.0 84.0,182.0 80.0,188.0 76.0,197.5 71.0,197.5 69.0,190.0" fill="#000" opacity="0.85" filter="url(#bl1)" stroke-linejoin="round"/>
<polygon points="66.0,190.0 72.0,186.0 80.0,188.0 82.0,197.5 66.0,197.5" fill="#000" opacity="0.55" filter="url(#bl1)" stroke-linejoin="round"/>
<polygon points="67.8,178.0 72.0,172.0 78.9,167.7 87.7,167.7 91.5,173.1 89.0,179.7 80.9,183.8 73.5,186.7 68.1,185.4" fill="none" stroke="#000" stroke-width="0.8" stroke-linejoin="round"/>
<polyline points="81.7,185.4 89.0,181.8 92.6,183.0 93.1,197.7 80.9,197.7" fill="none" stroke="#000" stroke-width="0.8" stroke-linejoin="round"/>
<text x="68.5" y="169.5" font-size="5" font-weight="normal" text-anchor="start" fill="#333">R3</text>
<text x="97.5" y="195.5" font-size="5" font-weight="normal" text-anchor="start" fill="#333">R4</text>
<line x1="46.9" y1="292.4" x2="119.8" y2="292.4" stroke="#555" stroke-width="0.8"/>
<line x1="119.8" y1="292.4" x2="119.8" y2="347.1" stroke="#777" stroke-width="0.8"/>
<line x1="46.9" y1="292.4" x2="46.9" y2="347.1" stroke="#000" stroke-width="1.2"/>
<line x1="46.9" y1="347.1" x2="119.8" y2="347.1" stroke="#222" stroke-width="1.0"/>
<path d="M45.4 347.1h1.5M45.4 345.1h1.5M45.4 343.1h1.5M45.4 341.1h1.5M45.4 339.1h1.5M45.4 337.1h1.5M45.4 335.1h1.5M45.4 333.1h1.5M45.4 331.1h1.5M45.4 329.1h1.5M45.4 327.1h1.5M45.4 325.1h1.5M45.4 323.1h1.5M45.4 321.1h1.5M45.4 319.1h1.5M45.4 317.1h1.5M45.4 315.1h1.5M45.4 313.1h1.5M45.4 311.1h1.5M45.4 309.1h1.5M45.4 307.1h1.5M45.4 305.1h1.5M45.4 303.1h1.5M45.4 301.1h1.5M45.4 299.1h1.5M45.4 297.1h1.5M45.4 295.1h1.5M46.9 347.1v1.2M49.9 347.1v1.2M52.9 347.1v1.2M55.9 347.1v1.2M58.9 347.1v1.2M61.9 347.1v1.2M64.9 347.1v1.2M67.9 347.1v1.2M70.9 347.1v1.2M73.9 347.1v1.2M76.9 347.1v1.2M79.9 347.1v1.2M82.9 347.1v1.2M85.9 347.1v1.2M88.9 347.1v1.2M91.9 347.1v1.2M94.9 347.1v1.2M97.9 347.1v1.2M100.9 347.1v1.2M103.9 347.1v1.2M106.9 347.1v1.2M109.9 347.1v1.2M112.9 347.1v1.2M115.9 347.1v1.2" stroke="#000" stroke-width="0.5"/>
<path d="M72.3 323.3h0.7v0.7h-0.7zM50.7 326.8h0.7v0.7h-0.7zM52.0 325.6h0.7v0.7h-0.7zM79.7 328.7h0.7v0.7h-0.7zM72.7 336.1h0.7v0.7h-0.7zM65.2 328.3h0.7v0.7h-0.7zM92.4 334.8h0.7v0.7h-0.7zM70.0 333.7h0.7v0.7h-0.7zM72.1 327.6h0.7v0.7h-0.7zM93.9 324.8h0.7v0.7h-0.7zM94.9 342.7h0.7v0.7h-0.7zM92.3 322.7h0.7v0.7h-0.7zM74.4 346.6h0.7v0.7h-0.7zM63.9 323.0h0.7v0.7h-0.7zM84.7 324.8h0.7v0.7h-0.7zM78.0 322.6h0.7v0.7h-0.7zM95.5 326.2h0.7v0.7h-0.7zM54.7 337.9h0.7v0.7h-0.7zM66.7 334.2h0.7v0.7h-0.7zM73.9 344.8h0.7v0.7h-0.7zM74.7 329.0h0.7v0.7h-0.7zM50.1 332.4h0.7v0.7h-0.7zM62.9 334.7h0.7v0.7h-0.7zM80.3 331.4h0.7v0.7h-0.7zM54.3 332.4h0.7v0.7h-0.7zM73.1 336.6h0.7v0.7h-0.7zM96.6 326.1h0.7v0.7h-0.7zM71.3 320.5h0.7v0.7h-0.7zM88.4 324.8h0.7v0.7h-0.7zM89.8 341.1h0.7v0.7h-0.7zM62.2 344.2h0.7v0.7h-0.7zM74.2 330.4h0.7v0.7h-0.7zM76.6 345.4h0.7v0.7h-0.7zM73.5 332.0h0.7v0.7h-0.7zM63.9 342.4h0.7v0.7h-0.7zM74.1 327.9h0.7v0.7h-0.7zM59.4 324.2h0.7v0.7h-0.7zM90.0 341.3h0.7v0.7h-0.7zM97.0 344.6h0.7v0.7h-0.7zM82.9 341.1h0.7v0.7h-0.7zM84.2 341.5h0.7v0.7h-0.7zM88.5 323.1h0.7v0.7h-0.7zM89.1 326.8h0.7v0.7h-0.7zM61.7 344.7h0.7v0.7h-0.7zM51.1 332.8h0.7v0.7h-0.7zM66.5 341.0h0.7v0.7h-0.7zM79.3 344.4h0.7v0.7h-0.7zM94.8 336.7h0.7v0.7h-0.7zM53.1 337.3h0.7v0.7h-0.7zM55.3 346.5h0.7v0.7h-0.7z" fill="#000"/>
<path d="M70.2 315.5h0.8v0.8h-0.8zM70.2 323.7h0.8v0.8h-0.8zM67.0 306.4h0.8v0.8h-0.8zM63.4 316.6h0.8v0.8h-0.8zM65.6 316.6h0.8v0.8h-0.8zM74.1 312.9h0.8v0.8h-0.8zM69.1 310.1h0.8v0.8h-0.8zM50.8 314.0h0.8v0.8h-0.8zM60.8 314.4h0.8v0.8h-0.8zM61.1 320.5h0.8v0.8h-0.8zM70.1 318.3h0.8v0.8h-0.8zM67.4 315.2h0.8v0.8h-0.8zM59.1 312.3h0.8v0.8h-0.8zM63.1 313.5h0.8v0.8h-0.8zM63.7 320.9h0.8v0.8h-0.8zM69.9 323.3h0.8v0.8h-0.8zM59.5 309.2h0.8v0.8h-0.8zM58.2 326.0h0.8v0.8h-0.8zM70.9 316.3h0.8v0.8h-0.8zM75.3 316.3h0.8v0.8h-0.8zM77.7 316.4h0.8v0.8h-0.8zM63.2 320.8h0.8v0.8h-0.8zM58.0 317.3h0.8v0.8h-0.8zM79.6 319.8h0.8v0.8h-0.8zM58.3 317.0h0.8v0.8h-0.8zM65.8 315.0h0.8v0.8h-0.8zM68.9 323.0h0.8v0.8h-0.8zM66.3 321.6h0.8v0.8h-0.8zM68.1 318.6h0.8v0.8h-0.8zM60.7 321.9h0.8v0.8h-0.8zM75.5 316.2h0.8v0.8h-0.8zM59.9 320.1h0.8v0.8h-0.8zM66.7 322.5h0.8v0.8h-0.8zM69.5 317.5h0.8v0.8h-0.8zM56.3 320.5h0.8v0.8h-0.8zM66.7 312.9h0.8v0.8h-0.8zM55.6 310.7h0.8v0.8h-0.8zM70.4 316.3h0.8v0.8h-0.8zM61.5 317.6h0.8v0.8h-0.8zM66.2 316.6h0.8v0.8h-0.8zM71.2 322.1h0.8v0.8h-0.8zM64.4 324.3h0.8v0.8h-0.8zM65.1 314.5h0.8v0.8h-0.8zM67.1 312.3h0.8v0.8h-0.8zM63.9 313.7h0.8v0.8h-0.8zM63.0 318.8h0.8v0.8h-0.8zM48.8 319.6h0.8v0.8h-0.8zM67.8 317.1h0.8v0.8h-0.8zM71.0 319.4h0.8v0.8h-0.8zM63.4 314.0h0.8v0.8h-0.8zM71.1 321.0h0.8v0.8h-0.8zM55.6 315.1h0.8v0.8h-0.8zM57.7 321.3h0.8v0.8h-0.8zM62.0 313.0h0.8v0.8h-0.8zM76.6 319.8h0.8v0.8h-0.8zM67.6 319.0h0.8v0.8h-0.8zM64.7 318.1h0.8v0.8h-0.8zM72.3 319.8h0.8v0.8h-0.8zM62.8 318.4h0.8v0.8h-0.8zM79.1 315.8h0.8v0.8h-0.8zM56.7 318.4h0.8v0.8h-0.8zM58.0 328.5h0.8v0.8h-0.8zM70.3 320.3h0.8v0.8h-0.8zM68.5 325.9h0.8v0.8h-0.8zM58.8 317.8h0.8v0.8h-0.8zM54.2 323.0h0.8v0.8h-0.8zM65.4 325.1h0.8v0.8h-0.8zM64.0 313.8h0.8v0.8h-0.8zM61.0 321.2h0.8v0.8h-0.8zM60.2 319.0h0.8v0.8h-0.8zM60.9 315.1h0.8v0.8h-0.8zM62.0 324.5h0.8v0.8h-0.8zM58.4 319.3h0.8v0.8h-0.8zM71.6 315.0h0.8v0.8h-0.8zM55.4 324.0h0.8v0.8h-0.8zM78.2 317.0h0.8v0.8h-0.8zM57.5 321.5h0.8v0.8h-0.8zM65.7 314.7h0.8v0.8h-0.8zM63.2 308.3h0.8v0.8h-0.8zM60.2 313.1h0.8v0.8h-0.8zM56.6 320.3h0.8v0.8h-0.8zM67.8 324.8h0.8v0.8h-0.8zM60.0 323.3h0.8v0.8h-0.8zM73.2 318.4h0.8v0.8h-0.8zM66.6 314.9h0.8v0.8h-0.8zM62.3 316.2h0.8v0.8h-0.8zM48.1 325.6h0.8v0.8h-0.8zM71.1 326.3h0.8v0.8h-0.8zM74.6 319.9h0.8v0.8h-0.8zM71.8 311.1h0.8v0.8h-0.8zM58.7 321.4h0.8v0.8h-0.8zM63.2 311.4h0.8v0.8h-0.8zM65.8 312.7h0.8v0.8h-0.8zM65.9 324.3h0.8v0.8h-0.8zM57.9 316.1h0.8v0.8h-0.8zM69.8 317.8h0.8v0.8h-0.8zM67.2 314.5h0.8v0.8h-0.8zM63.5 308.3h0.8v0.8h-0.8zM64.6 323.1h0.8v0.8h-0.8zM57.9 317.2h0.8v0.8h-0.8zM70.9 322.9h0.8v0.8h-0.8zM74.1 314.3h0.8v0.8h-0.8zM62.9 325.0h0.8v0.8h-0.8zM62.6 319.1h0.8v0.8h-0.8zM59.9 315.3h0.8v0.8h-0.8zM50.3 313.8h0.8v0.8h-0.8zM58.9 323.4h0.8v0.8h-0.8zM71.3 319.5h0.8v0.8h-0.8zM62.2 312.3h0.8v0.8h-0.8zM69.2 314.6h0.8v0.8h-0.8zM65.0 321.7h0.8v0.8h-0.8zM64.5 317.8h0.8v0.8h-0.8zM58.8 322.2h0.8v0.8h-0.8zM69.6 320.8h0.8v0.8h-0.8zM77.4 311.3h0.8v0.8h-0.8zM66.0 320.5h0.8v0.8h-0.8zM68.2 319.1h0.8v0.8h-0.8zM69.1 311.7h0.8v0.8h-0.8zM65.3 322.6h0.8v0.8h-0.8zM65.4 317.1h0.8v0.8h-0.8zM71.8 310.8h0.8v0.8h-0.8zM68.6 324.1h0.8v0.8h-0.8zM64.0 314.6h0.8v0.8h-0.8zM69.5 316.1h0.8v0.8h-0.8zM60.0 318.6h0.8v0.8h-0.8zM54.0 320.6h0.8v0.8h-0.8zM57.3 315.7h0.8v0.8h-0.8zM71.0 317.8h0.8v0.8h-0.8zM67.7 323.5h0.8v0.8h-0.8zM76.6 326.4h0.8v0.8h-0.8zM61.9 321.6h0.8v0.8h-0.8zM54.1 321.1h0.8v0.8h-0.8zM75.1 314.9h0.8v0.8h-0.8zM69.1 321.3h0.8v0.8h-0.8zM64.7 315.3h0.8v0.8h-0.8zM76.5 312.5h0.8v0.8h-0.8zM67.0 321.8h0.8v0.8h-0.8zM67.5 324.3h0.8v0.8h-0.8zM76.3 319.8h0.8v0.8h-0.8zM78.4 320.9h0.8v0.8h-0.8zM57.1 316.6h0.8v0.8h-0.8zM67.7 318.7h0.8v0.8h-0.8zM53.8 327.2h0.8v0.8h-0.8zM54.7 313.3h0.8v0.8h-0.8zM69.0 318.7h0.8v0.8h-0.8zM76.7 318.8h0.8v0.8h-0.8zM68.5 320.9h0.8v0.8h-0.8zM60.6 312.7h0.8v0.8h-0.8zM62.5 322.0h0.8v0.8h-0.8zM63.8 323.0h0.8v0.8h-0.8zM61.9 321.0h0.8v0.8h-0.8zM66.0 321.3h0.8v0.8h-0.8zM65.9 318.7h0.8v0.8h-0.8zM62.5 323.0h0.8v0.8h-0.8zM65.6 319.9h0.8v0.8h-0.8zM70.5 314.3h0.8v0.8h-0.8zM60.0 317.7h0.8v0.8h-0.8z" fill="#000"/>
<path d="M91.9 321.3h0.8v0.8h-0.8zM75.6 321.8h0.8v0.8h-0.8zM80.1 321.2h0.8v0.8h-0.8zM77.1 334.1h0.8v0.8h-0.8zM75.1 329.8h0.8v0.8h-0.8zM74.5 328.2h0.8v0.8h-0.8zM86.5 313.6h0.8v0.8h-0.8zM83.2 331.7h0.8v0.8h-0.8zM82.4 331.9h0.8v0.8h-0.8zM85.8 319.3h0.8v0.8h-0.8zM82.0 335.1h0.8v0.8h-0.8zM92.0 318.8h0.8v0.8h-0.8zM78.7 318.8h0.8v0.8h-0.8zM82.7 321.2h0.8v0.8h-0.8zM75.9 336.1h0.8v0.8h-0.8zM98.8 313.2h0.8v0.8h-0.8zM94.5 322.4h0.8v0.8h-0.8zM87.7 332.7h0.8v0.8h-0.8zM91.6 328.2h0.8v0.8h-0.8zM77.0 329.4h0.8v0.8h-0.8zM88.5 322.6h0.8v0.8h-0.8zM85.8 329.8h0.8v0.8h-0.8zM84.1 329.9h0.8v0.8h-0.8zM87.1 336.4h0.8v0.8h-0.8zM80.8 327.0h0.8v0.8h-0.8zM67.7 322.8h0.8v0.8h-0.8zM72.1 335.3h0.8v0.8h-0.8zM75.2 324.2h0.8v0.8h-0.8zM86.6 337.9h0.8v0.8h-0.8zM91.5 323.0h0.8v0.8h-0.8zM84.6 338.5h0.8v0.8h-0.8zM76.9 328.0h0.8v0.8h-0.8zM74.3 324.7h0.8v0.8h-0.8zM87.9 330.6h0.8v0.8h-0.8zM80.3 325.4h0.8v0.8h-0.8zM93.6 336.0h0.8v0.8h-0.8zM80.0 328.7h0.8v0.8h-0.8zM79.4 325.3h0.8v0.8h-0.8zM87.4 318.2h0.8v0.8h-0.8zM83.1 327.3h0.8v0.8h-0.8zM95.2 333.1h0.8v0.8h-0.8zM86.0 334.1h0.8v0.8h-0.8zM87.1 330.9h0.8v0.8h-0.8zM65.6 333.3h0.8v0.8h-0.8zM80.7 335.6h0.8v0.8h-0.8zM85.1 325.5h0.8v0.8h-0.8zM76.6 321.7h0.8v0.8h-0.8zM84.9 329.1h0.8v0.8h-0.8zM76.7 327.0h0.8v0.8h-0.8zM85.4 324.5h0.8v0.8h-0.8zM82.0 325.0h0.8v0.8h-0.8zM64.6 330.6h0.8v0.8h-0.8zM83.4 336.5h0.8v0.8h-0.8zM92.1 324.1h0.8v0.8h-0.8zM87.1 332.1h0.8v0.8h-0.8zM83.5 336.6h0.8v0.8h-0.8zM89.1 319.7h0.8v0.8h-0.8zM93.3 328.5h0.8v0.8h-0.8zM78.2 324.3h0.8v0.8h-0.8zM81.3 320.9h0.8v0.8h-0.8zM90.6 333.4h0.8v0.8h-0.8zM76.6 336.6h0.8v0.8h-0.8zM84.6 330.6h0.8v0.8h-0.8zM89.7 329.2h0.8v0.8h-0.8zM81.1 334.0h0.8v0.8h-0.8zM70.0 320.3h0.8v0.8h-0.8zM86.5 338.5h0.8v0.8h-0.8zM71.1 330.0h0.8v0.8h-0.8zM78.3 327.6h0.8v0.8h-0.8zM87.2 341.9h0.8v0.8h-0.8zM95.3 337.5h0.8v0.8h-0.8zM87.4 331.1h0.8v0.8h-0.8zM69.8 333.1h0.8v0.8h-0.8zM74.5 321.0h0.8v0.8h-0.8zM83.8 317.2h0.8v0.8h-0.8zM95.4 334.8h0.8v0.8h-0.8zM85.5 333.8h0.8v0.8h-0.8zM84.6 330.4h0.8v0.8h-0.8zM87.9 324.5h0.8v0.8h-0.8zM84.9 331.3h0.8v0.8h-0.8zM88.4 321.1h0.8v0.8h-0.8zM84.7 328.9h0.8v0.8h-0.8zM87.4 334.3h0.8v0.8h-0.8zM84.2 333.6h0.8v0.8h-0.8zM86.1 340.9h0.8v0.8h-0.8zM85.1 334.2h0.8v0.8h-0.8zM76.4 328.3h0.8v0.8h-0.8zM88.3 338.4h0.8v0.8h-0.8zM76.1 329.6h0.8v0.8h-0.8zM81.0 330.4h0.8v0.8h-0.8zM79.6 326.5h0.8v0.8h-0.8zM82.5 330.9h0.8v0.8h-0.8zM90.1 323.1h0.8v0.8h-0.8zM76.2 336.3h0.8v0.8h-0.8zM86.5 328.4h0.8v0.8h-0.8zM74.8 338.4h0.8v0.8h-0.8zM75.4 339.0h0.8v0.8h-0.8zM84.7 328.7h0.8v0.8h-0.8zM81.7 336.5h0.8v0.8h-0.8zM83.0 316.0h0.8v0.8h-0.8zM78.0 312.7h0.8v0.8h-0.8zM85.8 337.4h0.8v0.8h-0.8zM90.2 319.1h0.8v0.8h-0.8zM97.9 344.5h0.8v0.8h-0.8zM82.2 314.0h0.8v0.8h-0.8zM76.8 338.3h0.8v0.8h-0.8zM97.5 325.6h0.8v0.8h-0.8zM70.0 322.2h0.8v0.8h-0.8zM96.4 329.9h0.8v0.8h-0.8zM73.1 313.1h0.8v0.8h-0.8zM87.4 336.4h0.8v0.8h-0.8zM79.6 328.3h0.8v0.8h-0.8zM83.5 327.2h0.8v0.8h-0.8zM79.1 325.3h0.8v0.8h-0.8zM78.8 339.8h0.8v0.8h-0.8zM85.7 338.1h0.8v0.8h-0.8zM95.9 311.6h0.8v0.8h-0.8zM82.5 337.6h0.8v0.8h-0.8zM81.4 325.1h0.8v0.8h-0.8zM85.7 325.7h0.8v0.8h-0.8zM77.0 327.5h0.8v0.8h-0.8zM83.3 330.0h0.8v0.8h-0.8zM89.2 330.1h0.8v0.8h-0.8zM81.3 327.8h0.8v0.8h-0.8zM81.9 324.3h0.8v0.8h-0.8zM71.9 331.5h0.8v0.8h-0.8zM93.2 315.3h0.8v0.8h-0.8zM77.6 333.3h0.8v0.8h-0.8zM78.2 334.2h0.8v0.8h-0.8zM82.6 321.1h0.8v0.8h-0.8zM81.4 325.8h0.8v0.8h-0.8zM86.7 309.6h0.8v0.8h-0.8zM85.8 340.6h0.8v0.8h-0.8zM84.0 331.8h0.8v0.8h-0.8zM79.2 332.6h0.8v0.8h-0.8zM81.9 319.6h0.8v0.8h-0.8zM74.6 311.3h0.8v0.8h-0.8zM86.0 331.3h0.8v0.8h-0.8zM90.6 332.0h0.8v0.8h-0.8zM87.8 319.2h0.8v0.8h-0.8zM69.8 325.3h0.8v0.8h-0.8zM80.6 332.8h0.8v0.8h-0.8zM82.0 328.6h0.8v0.8h-0.8zM83.2 332.0h0.8v0.8h-0.8zM84.3 332.5h0.8v0.8h-0.8zM79.4 329.2h0.8v0.8h-0.8zM72.6 321.0h0.8v0.8h-0.8zM81.0 333.4h0.8v0.8h-0.8zM77.6 318.6h0.8v0.8h-0.8zM89.6 323.2h0.8v0.8h-0.8zM70.9 322.1h0.8v0.8h-0.8zM74.6 310.5h0.8v0.8h-0.8zM80.2 343.4h0.8v0.8h-0.8zM77.7 323.3h0.8v0.8h-0.8zM90.9 330.6h0.8v0.8h-0.8zM82.2 340.8h0.8v0.8h-0.8zM74.6 329.4h0.8v0.8h-0.8zM86.5 331.5h0.8v0.8h-0.8zM74.7 322.5h0.8v0.8h-0.8zM95.4 329.2h0.8v0.8h-0.8zM81.1 338.5h0.8v0.8h-0.8zM70.4 329.5h0.8v0.8h-0.8zM70.6 341.1h0.8v0.8h-0.8zM76.0 330.8h0.8v0.8h-0.8zM76.5 331.0h0.8v0.8h-0.8zM85.2 330.0h0.8v0.8h-0.8zM80.7 331.9h0.8v0.8h-0.8zM81.2 325.9h0.8v0.8h-0.8zM87.3 336.8h0.8v0.8h-0.8zM73.5 321.9h0.8v0.8h-0.8zM77.5 332.3h0.8v0.8h-0.8zM73.1 342.4h0.8v0.8h-0.8zM83.2 331.2h0.8v0.8h-0.8zM89.1 324.0h0.8v0.8h-0.8zM85.6 333.2h0.8v0.8h-0.8zM92.0 321.5h0.8v0.8h-0.8zM92.6 334.7h0.8v0.8h-0.8zM84.7 338.5h0.8v0.8h-0.8zM81.2 328.4h0.8v0.8h-0.8zM88.8 327.1h0.8v0.8h-0.8zM90.5 340.9h0.8v0.8h-0.8zM84.5 331.4h0.8v0.8h-0.8zM78.4 322.6h0.8v0.8h-0.8zM93.0 321.7h0.8v0.8h-0.8zM83.6 332.3h0.8v0.8h-0.8zM76.7 324.5h0.8v0.8h-0.8zM85.6 341.1h0.8v0.8h-0.8zM97.2 338.1h0.8v0.8h-0.8zM92.2 326.5h0.8v0.8h-0.8zM78.2 341.6h0.8v0.8h-0.8zM93.2 321.9h0.8v0.8h-0.8zM91.0 332.4h0.8v0.8h-0.8zM88.6 337.7h0.8v0.8h-0.8zM96.3 325.1h0.8v0.8h-0.8zM83.1 340.1h0.8v0.8h-0.8zM81.3 334.4h0.8v0.8h-0.8zM82.5 316.5h0.8v0.8h-0.8zM79.2 337.1h0.8v0.8h-0.8zM79.3 317.8h0.8v0.8h-0.8zM79.6 330.9h0.8v0.8h-0.8zM86.5 332.8h0.8v0.8h-0.8zM86.8 321.7h0.8v0.8h-0.8zM78.9 324.0h0.8v0.8h-0.8zM80.0 333.7h0.8v0.8h-0.8zM92.4 328.3h0.8v0.8h-0.8zM90.5 339.0h0.8v0.8h-0.8zM75.1 323.6h0.8v0.8h-0.8zM84.2 319.1h0.8v0.8h-0.8zM96.2 315.2h0.8v0.8h-0.8zM74.6 336.4h0.8v0.8h-0.8zM77.9 335.8h0.8v0.8h-0.8zM76.3 338.6h0.8v0.8h-0.8zM79.1 336.0h0.8v0.8h-0.8zM90.2 318.2h0.8v0.8h-0.8zM77.0 316.2h0.8v0.8h-0.8zM75.4 337.5h0.8v0.8h-0.8zM83.0 337.0h0.8v0.8h-0.8zM93.1 338.5h0.8v0.8h-0.8zM88.2 326.8h0.8v0.8h-0.8zM80.5 332.8h0.8v0.8h-0.8zM89.3 338.9h0.8v0.8h-0.8zM85.3 327.9h0.8v0.8h-0.8zM82.7 343.5h0.8v0.8h-0.8zM78.2 337.2h0.8v0.8h-0.8zM84.7 336.3h0.8v0.8h-0.8zM78.0 332.9h0.8v0.8h-0.8zM82.8 328.0h0.8v0.8h-0.8zM74.9 319.0h0.8v0.8h-0.8zM80.9 334.6h0.8v0.8h-0.8zM85.0 332.2h0.8v0.8h-0.8zM85.5 319.5h0.8v0.8h-0.8zM90.7 330.8h0.8v0.8h-0.8zM78.0 325.9h0.8v0.8h-0.8zM90.1 331.8h0.8v0.8h-0.8zM72.9 344.0h0.8v0.8h-0.8zM89.2 322.3h0.8v0.8h-0.8zM91.9 340.3h0.8v0.8h-0.8zM90.5 335.5h0.8v0.8h-0.8zM85.5 332.0h0.8v0.8h-0.8zM79.5 332.5h0.8v0.8h-0.8zM92.2 329.5h0.8v0.8h-0.8zM97.0 317.9h0.8v0.8h-0.8zM83.5 318.5h0.8v0.8h-0.8zM71.0 332.3h0.8v0.8h-0.8zM81.0 325.9h0.8v0.8h-0.8zM75.9 328.4h0.8v0.8h-0.8zM72.0 328.8h0.8v0.8h-0.8zM79.6 320.4h0.8v0.8h-0.8zM86.2 315.5h0.8v0.8h-0.8zM86.3 332.5h0.8v0.8h-0.8zM87.0 331.4h0.8v0.8h-0.8zM88.8 328.2h0.8v0.8h-0.8zM75.7 333.3h0.8v0.8h-0.8zM77.8 327.4h0.8v0.8h-0.8zM84.1 322.9h0.8v0.8h-0.8zM90.1 318.1h0.8v0.8h-0.8zM91.8 330.1h0.8v0.8h-0.8zM95.1 339.2h0.8v0.8h-0.8zM88.0 332.7h0.8v0.8h-0.8zM84.1 319.4h0.8v0.8h-0.8zM79.4 322.8h0.8v0.8h-0.8zM78.3 329.3h0.8v0.8h-0.8zM77.8 331.4h0.8v0.8h-0.8zM81.5 326.6h0.8v0.8h-0.8zM86.0 334.0h0.8v0.8h-0.8zM74.0 327.8h0.8v0.8h-0.8zM103.7 330.4h0.8v0.8h-0.8zM86.5 323.3h0.8v0.8h-0.8zM90.1 342.6h0.8v0.8h-0.8zM87.3 329.3h0.8v0.8h-0.8zM83.5 315.2h0.8v0.8h-0.8zM87.4 327.9h0.8v0.8h-0.8zM86.1 333.3h0.8v0.8h-0.8zM89.7 325.1h0.8v0.8h-0.8zM87.5 335.4h0.8v0.8h-0.8zM83.6 341.5h0.8v0.8h-0.8zM80.7 316.4h0.8v0.8h-0.8zM75.9 333.4h0.8v0.8h-0.8zM76.4 331.5h0.8v0.8h-0.8zM72.8 333.4h0.8v0.8h-0.8zM81.5 323.1h0.8v0.8h-0.8zM79.4 328.2h0.8v0.8h-0.8zM89.6 332.2h0.8v0.8h-0.8zM81.9 331.6h0.8v0.8h-0.8zM89.5 334.0h0.8v0.8h-0.8zM95.5 324.6h0.8v0.8h-0.8zM89.0 331.3h0.8v0.8h-0.8zM78.9 335.1h0.8v0.8h-0.8zM89.1 338.1h0.8v0.8h-0.8zM86.6 323.4h0.8v0.8h-0.8zM84.5 333.4h0.8v0.8h-0.8zM94.9 331.3h0.8v0.8h-0.8zM84.4 342.7h0.8v0.8h-0.8zM83.7 326.8h0.8v0.8h-0.8z" fill="#000"/>
<path d="M70.9 342.0h0.8v0.8h-0.8zM69.7 329.9h0.8v0.8h-0.8zM64.8 343.2h0.8v0.8h-0.8zM61.8 342.5h0.8v0.8h-0.8zM69.9 334.3h0.8v0.8h-0.8zM75.5 327.6h0.8v0.8h-0.8zM49.7 330.5h0.8v0.8h-0.8zM73.1 336.8h0.8v0.8h-0.8zM74.0 337.8h0.8v0.8h-0.8zM69.5 335.6h0.8v0.8h-0.8zM64.8 343.1h0.8v0.8h-0.8zM75.2 331.6h0.8v0.8h-0.8zM75.1 333.5h0.8v0.8h-0.8zM75.0 339.3h0.8v0.8h-0.8zM65.5 343.0h0.8v0.8h-0.8zM79.3 335.6h0.8v0.8h-0.8zM69.5 336.3h0.8v0.8h-0.8zM68.4 346.1h0.8v0.8h-0.8zM64.5 341.0h0.8v0.8h-0.8zM70.7 338.6h0.8v0.8h-0.8zM58.4 341.3h0.8v0.8h-0.8zM58.6 341.8h0.8v0.8h-0.8zM67.6 338.9h0.8v0.8h-0.8zM64.3 334.0h0.8v0.8h-0.8zM59.2 338.3h0.8v0.8h-0.8zM67.6 339.6h0.8v0.8h-0.8zM65.8 342.0h0.8v0.8h-0.8zM69.7 338.8h0.8v0.8h-0.8zM66.2 338.1h0.8v0.8h-0.8zM74.2 334.7h0.8v0.8h-0.8zM57.7 340.1h0.8v0.8h-0.8zM72.1 338.3h0.8v0.8h-0.8zM70.5 331.8h0.8v0.8h-0.8zM59.7 338.2h0.8v0.8h-0.8zM68.1 332.1h0.8v0.8h-0.8zM72.5 328.8h0.8v0.8h-0.8zM79.4 333.0h0.8v0.8h-0.8zM63.4 333.1h0.8v0.8h-0.8zM56.4 336.6h0.8v0.8h-0.8zM51.6 336.5h0.8v0.8h-0.8zM69.8 336.7h0.8v0.8h-0.8zM68.2 331.1h0.8v0.8h-0.8zM52.0 331.7h0.8v0.8h-0.8zM77.7 339.7h0.8v0.8h-0.8zM73.9 343.5h0.8v0.8h-0.8zM77.3 344.6h0.8v0.8h-0.8zM53.4 338.6h0.8v0.8h-0.8zM74.4 338.2h0.8v0.8h-0.8zM66.1 327.8h0.8v0.8h-0.8zM69.2 334.0h0.8v0.8h-0.8zM80.4 341.8h0.8v0.8h-0.8zM67.6 336.2h0.8v0.8h-0.8zM78.1 335.6h0.8v0.8h-0.8zM78.1 339.2h0.8v0.8h-0.8zM65.8 340.0h0.8v0.8h-0.8zM83.8 330.3h0.8v0.8h-0.8zM75.0 341.8h0.8v0.8h-0.8zM66.0 345.4h0.8v0.8h-0.8zM74.3 340.9h0.8v0.8h-0.8zM59.4 341.0h0.8v0.8h-0.8zM56.9 340.7h0.8v0.8h-0.8zM87.4 333.8h0.8v0.8h-0.8zM82.1 332.8h0.8v0.8h-0.8zM68.9 341.7h0.8v0.8h-0.8zM55.5 339.8h0.8v0.8h-0.8zM61.4 335.1h0.8v0.8h-0.8zM75.8 337.8h0.8v0.8h-0.8zM71.9 338.3h0.8v0.8h-0.8zM71.7 345.8h0.8v0.8h-0.8zM69.4 336.8h0.8v0.8h-0.8zM68.5 341.7h0.8v0.8h-0.8zM72.4 327.6h0.8v0.8h-0.8zM67.7 340.3h0.8v0.8h-0.8zM91.5 335.2h0.8v0.8h-0.8zM65.9 332.5h0.8v0.8h-0.8zM67.7 329.5h0.8v0.8h-0.8zM60.9 337.8h0.8v0.8h-0.8zM54.9 336.8h0.8v0.8h-0.8zM62.2 344.4h0.8v0.8h-0.8zM69.5 341.5h0.8v0.8h-0.8zM89.4 335.0h0.8v0.8h-0.8zM83.4 333.7h0.8v0.8h-0.8zM77.7 330.4h0.8v0.8h-0.8zM64.8 337.2h0.8v0.8h-0.8zM66.0 328.6h0.8v0.8h-0.8zM69.4 336.7h0.8v0.8h-0.8zM81.5 341.0h0.8v0.8h-0.8zM49.0 338.8h0.8v0.8h-0.8zM77.8 337.7h0.8v0.8h-0.8zM62.0 331.4h0.8v0.8h-0.8zM65.0 333.5h0.8v0.8h-0.8zM65.8 336.6h0.8v0.8h-0.8zM79.7 333.3h0.8v0.8h-0.8zM71.3 332.7h0.8v0.8h-0.8zM70.7 343.3h0.8v0.8h-0.8zM63.2 332.3h0.8v0.8h-0.8zM68.6 338.3h0.8v0.8h-0.8zM62.6 340.2h0.8v0.8h-0.8zM68.9 341.5h0.8v0.8h-0.8zM56.0 341.9h0.8v0.8h-0.8zM79.6 334.1h0.8v0.8h-0.8zM85.9 339.3h0.8v0.8h-0.8zM56.7 332.9h0.8v0.8h-0.8zM61.6 334.9h0.8v0.8h-0.8zM66.2 339.6h0.8v0.8h-0.8zM66.5 336.6h0.8v0.8h-0.8zM59.7 328.0h0.8v0.8h-0.8zM61.9 332.1h0.8v0.8h-0.8zM76.1 326.2h0.8v0.8h-0.8zM78.5 324.0h0.8v0.8h-0.8zM66.5 338.2h0.8v0.8h-0.8zM58.3 333.3h0.8v0.8h-0.8zM76.1 332.8h0.8v0.8h-0.8zM67.4 338.4h0.8v0.8h-0.8zM74.1 331.9h0.8v0.8h-0.8zM80.0 337.4h0.8v0.8h-0.8z" fill="#000"/>
<polygon points="57.0,314.0 63.0,311.0 71.0,313.0 77.0,318.0 73.0,323.0 64.0,324.0 57.0,321.0" fill="#000" opacity="0.9" filter="url(#bl1)" stroke-linejoin="round"/>
<polygon points="74.0,320.0 80.0,315.0 88.0,318.0 93.0,326.0 92.0,336.0 88.0,343.0 80.0,345.0 75.0,338.0 73.0,328.0" fill="#000" opacity="0.9" filter="url(#bl1)" stroke-linejoin="round"/>
<polygon points="53.4,316.0 61.2,308.2 64.5,309.2 77.6,316.9 73.5,321.8 67.8,324.2 56.3,324.2 54.7,321.0" fill="none" stroke="#000" stroke-width="0.8" stroke-linejoin="round"/>
<text x="61" y="303" font-size="5" font-weight="normal" text-anchor="start" fill="#333">R2</text>
<line x1="46.9" y1="377.2" x2="119.8" y2="377.2" stroke="#555" stroke-width="0.8"/>
<line x1="119.8" y1="377.2" x2="119.8" y2="430.8" stroke="#777" stroke-width="0.8"/>
<line x1="46.9" y1="377.2" x2="46.9" y2="430.8" stroke="#000" stroke-width="1.2"/>
<line x1="46.9" y1="430.8" x2="119.8" y2="430.8" stroke="#222" stroke-width="1.0"/>
<path d="M45.4 430.8h1.5M45.4 428.8h1.5M45.4 426.8h1.5M45.4 424.8h1.5M45.4 422.8h1.5M45.4 420.8h1.5M45.4 418.8h1.5M45.4 416.8h1.5M45.4 414.8h1.5M45.4 412.8h1.5M45.4 410.8h1.5M45.4 408.8h1.5M45.4 406.8h1.5M45.4 404.8h1.5M45.4 402.8h1.5M45.4 400.8h1.5M45.4 398.8h1.5M45.4 396.8h1.5M45.4 394.8h1.5M45.4 392.8h1.5M45.4 390.8h1.5M45.4 388.8h1.5M45.4 386.8h1.5M45.4 384.8h1.5M45.4 382.8h1.5M45.4 380.8h1.5M45.4 378.8h1.5M46.9 430.8v1.2M49.9 430.8v1.2M52.9 430.8v1.2M55.9 430.8v1.2M58.9 430.8v1.2M61.9 430.8v1.2M64.9 430.8v1.2M67.9 430.8v1.2M70.9 430.8v1.2M73.9 430.8v1.2M76.9 430.8v1.2M79.9 430.8v1.2M82.9 430.8v1.2M85.9 430.8v1.2M88.9 430.8v1.2M91.9 430.8v1.2M94.9 430.8v1.2M97.9 430.8v1.2M100.9 430.8v1.2M103.9 430.8v1.2M106.9 430.8v1.2M109.9 430.8v1.2M112.9 430.8v1.2M115.9 430.8v1.2" stroke="#000" stroke-width="0.5"/>
<path d="M90.9 423.2h0.7v0.7h-0.7zM97.6 413.9h0.7v0.7h-0.7zM93.1 411.9h0.7v0.7h-0.7zM50.5 409.8h0.7v0.7h-0.7zM66.9 429.8h0.7v0.7h-0.7zM69.0 408.2h0.7v0.7h-0.7zM83.2 402.9h0.7v0.7h-0.7zM64.7 411.9h0.7v0.7h-0.7zM56.0 417.9h0.7v0.7h-0.7zM70.3 424.1h0.7v0.7h-0.7zM66.3 429.3h0.7v0.7h-0.7zM59.4 415.9h0.7v0.7h-0.7zM60.9 400.4h0.7v0.7h-0.7zM64.5 426.9h0.7v0.7h-0.7zM64.0 414.7h0.7v0.7h-0.7zM75.2 408.0h0.7v0.7h-0.7zM75.7 402.0h0.7v0.7h-0.7zM66.8 408.5h0.7v0.7h-0.7zM89.1 423.1h0.7v0.7h-0.7zM83.6 417.8h0.7v0.7h-0.7zM91.6 422.2h0.7v0.7h-0.7zM52.7 403.9h0.7v0.7h-0.7zM85.9 425.2h0.7v0.7h-0.7zM97.5 423.3h0.7v0.7h-0.7zM57.6 417.0h0.7v0.7h-0.7zM80.0 418.1h0.7v0.7h-0.7zM56.5 429.1h0.7v0.7h-0.7zM74.5 408.1h0.7v0.7h-0.7zM97.1 411.5h0.7v0.7h-0.7zM53.4 420.1h0.7v0.7h-0.7zM62.5 406.5h0.7v0.7h-0.7zM64.5 418.2h0.7v0.7h-0.7zM65.4 419.9h0.7v0.7h-0.7zM93.5 429.7h0.7v0.7h-0.7zM92.7 427.6h0.7v0.7h-0.7zM62.2 424.7h0.7v0.7h-0.7zM54.3 417.5h0.7v0.7h-0.7zM53.6 403.0h0.7v0.7h-0.7zM95.5 403.8h0.7v0.7h-0.7zM84.4 415.8h0.7v0.7h-0.7zM50.1 423.8h0.7v0.7h-0.7zM52.9 426.6h0.7v0.7h-0.7zM89.3 414.9h0.7v0.7h-0.7zM71.4 400.8h0.7v0.7h-0.7zM83.6 401.2h0.7v0.7h-0.7z" fill="#000"/>
<path d="M68.8 412.2h0.8v0.8h-0.8zM78.9 407.5h0.8v0.8h-0.8zM78.6 400.4h0.8v0.8h-0.8zM75.9 421.8h0.8v0.8h-0.8zM75.5 408.6h0.8v0.8h-0.8zM76.0 410.8h0.8v0.8h-0.8zM77.6 424.6h0.8v0.8h-0.8zM75.0 421.4h0.8v0.8h-0.8zM77.8 414.1h0.8v0.8h-0.8zM92.9 404.7h0.8v0.8h-0.8zM80.1 391.0h0.8v0.8h-0.8zM78.5 409.4h0.8v0.8h-0.8zM80.8 411.5h0.8v0.8h-0.8zM74.7 406.2h0.8v0.8h-0.8zM84.0 406.8h0.8v0.8h-0.8zM80.4 414.5h0.8v0.8h-0.8zM80.7 411.0h0.8v0.8h-0.8zM74.8 412.5h0.8v0.8h-0.8zM71.7 425.6h0.8v0.8h-0.8zM76.3 423.1h0.8v0.8h-0.8zM77.7 410.3h0.8v0.8h-0.8zM86.7 408.9h0.8v0.8h-0.8zM81.1 408.0h0.8v0.8h-0.8zM78.9 405.8h0.8v0.8h-0.8zM76.4 399.9h0.8v0.8h-0.8zM79.5 405.3h0.8v0.8h-0.8zM87.3 421.4h0.8v0.8h-0.8zM89.8 398.2h0.8v0.8h-0.8zM78.4 410.1h0.8v0.8h-0.8zM72.5 423.9h0.8v0.8h-0.8zM83.8 410.7h0.8v0.8h-0.8zM89.9 409.4h0.8v0.8h-0.8zM78.7 412.7h0.8v0.8h-0.8zM77.9 414.4h0.8v0.8h-0.8zM73.7 416.4h0.8v0.8h-0.8zM78.8 408.0h0.8v0.8h-0.8zM78.3 410.2h0.8v0.8h-0.8zM71.5 417.9h0.8v0.8h-0.8zM79.3 422.7h0.8v0.8h-0.8zM80.2 416.6h0.8v0.8h-0.8zM80.1 409.4h0.8v0.8h-0.8zM74.2 409.7h0.8v0.8h-0.8zM77.3 395.3h0.8v0.8h-0.8zM78.8 406.0h0.8v0.8h-0.8zM81.8 416.5h0.8v0.8h-0.8zM78.8 418.8h0.8v0.8h-0.8zM86.5 412.8h0.8v0.8h-0.8zM78.6 411.7h0.8v0.8h-0.8zM88.5 417.2h0.8v0.8h-0.8zM86.0 396.3h0.8v0.8h-0.8zM68.9 427.0h0.8v0.8h-0.8zM83.9 417.8h0.8v0.8h-0.8zM83.2 407.0h0.8v0.8h-0.8zM82.6 409.0h0.8v0.8h-0.8zM87.8 412.8h0.8v0.8h-0.8zM75.5 407.2h0.8v0.8h-0.8zM85.4 414.0h0.8v0.8h-0.8zM81.7 412.0h0.8v0.8h-0.8zM74.0 407.2h0.8v0.8h-0.8zM82.9 396.9h0.8v0.8h-0.8zM82.8 413.2h0.8v0.8h-0.8zM83.6 414.6h0.8v0.8h-0.8zM89.9 408.2h0.8v0.8h-0.8zM76.2 400.6h0.8v0.8h-0.8zM69.0 415.7h0.8v0.8h-0.8zM84.8 397.2h0.8v0.8h-0.8zM81.2 405.1h0.8v0.8h-0.8zM79.0 412.3h0.8v0.8h-0.8zM80.5 402.3h0.8v0.8h-0.8zM84.1 407.8h0.8v0.8h-0.8zM70.9 419.4h0.8v0.8h-0.8zM88.2 404.4h0.8v0.8h-0.8zM88.4 396.3h0.8v0.8h-0.8zM79.1 419.6h0.8v0.8h-0.8zM86.9 411.0h0.8v0.8h-0.8zM85.7 405.3h0.8v0.8h-0.8zM84.0 415.2h0.8v0.8h-0.8zM85.1 410.8h0.8v0.8h-0.8zM84.6 411.4h0.8v0.8h-0.8zM83.4 398.6h0.8v0.8h-0.8zM83.3 402.7h0.8v0.8h-0.8zM78.4 411.5h0.8v0.8h-0.8zM81.6 400.9h0.8v0.8h-0.8zM77.7 413.0h0.8v0.8h-0.8zM78.3 411.4h0.8v0.8h-0.8zM81.5 411.2h0.8v0.8h-0.8zM77.6 412.7h0.8v0.8h-0.8zM83.2 400.6h0.8v0.8h-0.8zM84.3 401.9h0.8v0.8h-0.8zM82.2 413.6h0.8v0.8h-0.8zM83.5 401.0h0.8v0.8h-0.8zM75.7 404.3h0.8v0.8h-0.8zM83.2 410.0h0.8v0.8h-0.8zM71.2 419.1h0.8v0.8h-0.8zM86.3 404.3h0.8v0.8h-0.8zM79.9 412.1h0.8v0.8h-0.8zM75.2 409.5h0.8v0.8h-0.8zM83.1 406.8h0.8v0.8h-0.8zM80.3 411.0h0.8v0.8h-0.8zM88.9 408.4h0.8v0.8h-0.8zM82.0 406.4h0.8v0.8h-0.8zM86.5 408.1h0.8v0.8h-0.8zM80.2 419.2h0.8v0.8h-0.8zM87.1 401.2h0.8v0.8h-0.8zM78.7 419.5h0.8v0.8h-0.8zM77.9 421.8h0.8v0.8h-0.8zM79.5 423.7h0.8v0.8h-0.8zM75.4 399.2h0.8v0.8h-0.8zM73.0 426.6h0.8v0.8h-0.8zM76.6 408.9h0.8v0.8h-0.8zM77.4 406.5h0.8v0.8h-0.8zM81.1 410.8h0.8v0.8h-0.8zM77.1 408.0h0.8v0.8h-0.8zM87.0 413.9h0.8v0.8h-0.8zM85.3 416.5h0.8v0.8h-0.8zM79.3 416.6h0.8v0.8h-0.8zM88.6 401.2h0.8v0.8h-0.8zM87.1 390.9h0.8v0.8h-0.8zM70.7 404.4h0.8v0.8h-0.8zM75.3 405.9h0.8v0.8h-0.8zM77.8 416.7h0.8v0.8h-0.8zM76.6 409.3h0.8v0.8h-0.8zM73.7 402.2h0.8v0.8h-0.8zM79.3 405.6h0.8v0.8h-0.8zM84.7 409.1h0.8v0.8h-0.8zM71.1 418.9h0.8v0.8h-0.8zM74.2 410.1h0.8v0.8h-0.8zM75.0 406.9h0.8v0.8h-0.8zM77.2 403.5h0.8v0.8h-0.8zM76.5 409.9h0.8v0.8h-0.8zM83.8 413.4h0.8v0.8h-0.8zM89.2 395.6h0.8v0.8h-0.8zM78.2 419.1h0.8v0.8h-0.8zM74.5 411.4h0.8v0.8h-0.8zM83.8 419.0h0.8v0.8h-0.8zM83.1 411.2h0.8v0.8h-0.8zM79.4 414.7h0.8v0.8h-0.8zM80.7 412.3h0.8v0.8h-0.8zM77.0 410.7h0.8v0.8h-0.8zM75.8 404.7h0.8v0.8h-0.8zM75.9 406.3h0.8v0.8h-0.8zM76.8 407.7h0.8v0.8h-0.8zM72.6 415.4h0.8v0.8h-0.8zM81.8 419.9h0.8v0.8h-0.8zM68.3 405.6h0.8v0.8h-0.8zM75.3 406.4h0.8v0.8h-0.8zM80.5 404.3h0.8v0.8h-0.8zM76.3 416.7h0.8v0.8h-0.8zM79.2 399.7h0.8v0.8h-0.8zM84.9 423.2h0.8v0.8h-0.8zM85.8 406.7h0.8v0.8h-0.8zM87.0 406.8h0.8v0.8h-0.8zM78.4 412.6h0.8v0.8h-0.8zM86.6 408.2h0.8v0.8h-0.8zM78.6 401.5h0.8v0.8h-0.8zM81.1 402.5h0.8v0.8h-0.8zM79.7 401.1h0.8v0.8h-0.8zM75.8 405.5h0.8v0.8h-0.8zM76.8 403.9h0.8v0.8h-0.8zM86.3 412.7h0.8v0.8h-0.8zM78.5 403.9h0.8v0.8h-0.8zM85.6 406.2h0.8v0.8h-0.8zM83.0 415.7h0.8v0.8h-0.8zM78.1 413.9h0.8v0.8h-0.8zM82.4 406.3h0.8v0.8h-0.8zM79.3 406.3h0.8v0.8h-0.8zM63.2 414.7h0.8v0.8h-0.8zM88.4 413.5h0.8v0.8h-0.8zM93.8 404.9h0.8v0.8h-0.8zM84.6 404.1h0.8v0.8h-0.8zM76.4 405.9h0.8v0.8h-0.8zM82.4 414.3h0.8v0.8h-0.8zM70.6 418.8h0.8v0.8h-0.8zM84.7 413.5h0.8v0.8h-0.8zM73.8 414.1h0.8v0.8h-0.8zM81.8 400.5h0.8v0.8h-0.8zM74.5 427.2h0.8v0.8h-0.8zM76.8 408.3h0.8v0.8h-0.8zM70.4 410.1h0.8v0.8h-0.8zM86.9 409.9h0.8v0.8h-0.8zM75.9 412.2h0.8v0.8h-0.8zM82.0 413.3h0.8v0.8h-0.8zM75.2 414.7h0.8v0.8h-0.8zM76.8 408.2h0.8v0.8h-0.8zM75.9 406.6h0.8v0.8h-0.8zM82.6 397.4h0.8v0.8h-0.8zM81.1 427.8h0.8v0.8h-0.8zM75.7 410.1h0.8v0.8h-0.8zM79.8 420.6h0.8v0.8h-0.8zM73.0 416.9h0.8v0.8h-0.8zM79.6 423.4h0.8v0.8h-0.8zM79.1 423.8h0.8v0.8h-0.8zM75.3 414.5h0.8v0.8h-0.8zM74.6 408.5h0.8v0.8h-0.8zM73.9 410.0h0.8v0.8h-0.8zM87.8 403.3h0.8v0.8h-0.8zM92.4 415.7h0.8v0.8h-0.8zM81.6 409.5h0.8v0.8h-0.8zM81.7 404.4h0.8v0.8h-0.8zM83.1 409.5h0.8v0.8h-0.8zM70.4 414.4h0.8v0.8h-0.8zM83.0 409.2h0.8v0.8h-0.8zM81.7 409.5h0.8v0.8h-0.8zM77.7 418.1h0.8v0.8h-0.8zM87.1 405.1h0.8v0.8h-0.8zM84.1 401.2h0.8v0.8h-0.8zM86.3 402.0h0.8v0.8h-0.8zM80.3 416.3h0.8v0.8h-0.8zM77.6 411.4h0.8v0.8h-0.8zM85.1 404.3h0.8v0.8h-0.8zM81.8 416.6h0.8v0.8h-0.8zM81.4 404.4h0.8v0.8h-0.8zM78.1 409.3h0.8v0.8h-0.8zM80.2 414.2h0.8v0.8h-0.8zM72.4 412.9h0.8v0.8h-0.8zM81.1 419.6h0.8v0.8h-0.8zM72.9 407.3h0.8v0.8h-0.8zM84.5 407.9h0.8v0.8h-0.8zM85.5 407.5h0.8v0.8h-0.8zM76.9 411.1h0.8v0.8h-0.8z" fill="#000"/>
<path d="M80.4 427.9h0.8v0.8h-0.8zM70.1 425.6h0.8v0.8h-0.8zM78.8 427.5h0.8v0.8h-0.8zM70.6 427.9h0.8v0.8h-0.8zM69.2 420.7h0.8v0.8h-0.8zM81.9 424.8h0.8v0.8h-0.8zM56.3 426.7h0.8v0.8h-0.8zM62.4 417.7h0.8v0.8h-0.8zM69.7 422.1h0.8v0.8h-0.8zM68.9 423.2h0.8v0.8h-0.8zM76.2 428.4h0.8v0.8h-0.8zM73.1 429.7h0.8v0.8h-0.8zM51.2 428.0h0.8v0.8h-0.8zM78.3 423.5h0.8v0.8h-0.8zM69.4 420.4h0.8v0.8h-0.8zM63.8 426.2h0.8v0.8h-0.8zM55.7 417.4h0.8v0.8h-0.8zM64.7 421.8h0.8v0.8h-0.8zM58.7 424.4h0.8v0.8h-0.8zM54.6 429.3h0.8v0.8h-0.8zM79.5 425.2h0.8v0.8h-0.8zM62.4 424.8h0.8v0.8h-0.8zM67.1 422.0h0.8v0.8h-0.8zM61.8 426.7h0.8v0.8h-0.8zM59.3 422.6h0.8v0.8h-0.8zM63.7 421.1h0.8v0.8h-0.8zM70.7 420.0h0.8v0.8h-0.8zM77.2 427.9h0.8v0.8h-0.8zM67.8 428.4h0.8v0.8h-0.8zM78.8 423.5h0.8v0.8h-0.8zM67.6 422.7h0.8v0.8h-0.8zM64.6 423.5h0.8v0.8h-0.8zM68.9 427.1h0.8v0.8h-0.8zM89.6 426.4h0.8v0.8h-0.8zM77.3 424.2h0.8v0.8h-0.8zM84.2 425.5h0.8v0.8h-0.8zM66.4 424.0h0.8v0.8h-0.8zM68.4 423.5h0.8v0.8h-0.8zM68.8 422.1h0.8v0.8h-0.8zM50.1 424.6h0.8v0.8h-0.8zM58.3 422.0h0.8v0.8h-0.8zM69.5 426.4h0.8v0.8h-0.8zM72.6 429.5h0.8v0.8h-0.8zM58.9 422.5h0.8v0.8h-0.8zM59.5 421.1h0.8v0.8h-0.8zM61.7 421.7h0.8v0.8h-0.8zM74.7 420.9h0.8v0.8h-0.8zM89.3 417.0h0.8v0.8h-0.8zM76.1 418.9h0.8v0.8h-0.8zM63.3 420.3h0.8v0.8h-0.8zM68.1 426.9h0.8v0.8h-0.8zM64.0 422.4h0.8v0.8h-0.8zM58.4 421.7h0.8v0.8h-0.8zM59.7 422.4h0.8v0.8h-0.8zM68.6 428.4h0.8v0.8h-0.8zM61.2 417.1h0.8v0.8h-0.8zM64.4 428.2h0.8v0.8h-0.8zM58.0 426.4h0.8v0.8h-0.8zM56.7 420.0h0.8v0.8h-0.8zM70.0 417.8h0.8v0.8h-0.8zM63.9 414.4h0.8v0.8h-0.8zM57.7 426.4h0.8v0.8h-0.8zM63.0 422.2h0.8v0.8h-0.8zM73.0 421.3h0.8v0.8h-0.8zM56.7 423.3h0.8v0.8h-0.8zM67.0 425.4h0.8v0.8h-0.8zM66.0 429.5h0.8v0.8h-0.8zM73.2 424.3h0.8v0.8h-0.8zM90.0 418.8h0.8v0.8h-0.8zM70.1 421.9h0.8v0.8h-0.8zM88.5 426.0h0.8v0.8h-0.8zM75.7 426.4h0.8v0.8h-0.8zM81.9 422.8h0.8v0.8h-0.8zM76.5 418.2h0.8v0.8h-0.8zM73.2 429.3h0.8v0.8h-0.8zM76.1 427.2h0.8v0.8h-0.8zM49.6 425.2h0.8v0.8h-0.8zM72.9 427.4h0.8v0.8h-0.8zM80.3 426.9h0.8v0.8h-0.8zM54.5 421.7h0.8v0.8h-0.8zM47.4 429.5h0.8v0.8h-0.8zM65.8 419.9h0.8v0.8h-0.8zM72.4 423.2h0.8v0.8h-0.8zM47.8 419.2h0.8v0.8h-0.8zM66.7 423.9h0.8v0.8h-0.8zM78.5 423.5h0.8v0.8h-0.8zM54.4 419.3h0.8v0.8h-0.8zM60.7 424.0h0.8v0.8h-0.8zM57.0 425.8h0.8v0.8h-0.8zM60.1 429.2h0.8v0.8h-0.8zM72.5 427.5h0.8v0.8h-0.8zM69.7 425.6h0.8v0.8h-0.8zM51.8 424.0h0.8v0.8h-0.8zM56.6 421.3h0.8v0.8h-0.8zM65.4 422.7h0.8v0.8h-0.8zM67.3 422.7h0.8v0.8h-0.8zM60.7 427.6h0.8v0.8h-0.8zM63.2 428.3h0.8v0.8h-0.8zM73.4 428.4h0.8v0.8h-0.8zM82.8 428.9h0.8v0.8h-0.8zM79.4 420.7h0.8v0.8h-0.8zM80.0 417.6h0.8v0.8h-0.8zM77.4 423.2h0.8v0.8h-0.8zM64.8 424.2h0.8v0.8h-0.8zM62.1 427.7h0.8v0.8h-0.8zM67.1 424.7h0.8v0.8h-0.8zM68.1 423.4h0.8v0.8h-0.8zM57.8 427.1h0.8v0.8h-0.8zM75.7 420.3h0.8v0.8h-0.8zM76.9 429.7h0.8v0.8h-0.8zM60.4 426.0h0.8v0.8h-0.8zM63.7 427.4h0.8v0.8h-0.8zM53.5 423.7h0.8v0.8h-0.8zM71.8 424.4h0.8v0.8h-0.8zM52.7 425.2h0.8v0.8h-0.8zM66.0 423.4h0.8v0.8h-0.8zM73.9 425.8h0.8v0.8h-0.8zM65.9 427.4h0.8v0.8h-0.8zM66.9 426.9h0.8v0.8h-0.8zM80.0 425.8h0.8v0.8h-0.8zM68.3 422.6h0.8v0.8h-0.8zM81.4 428.6h0.8v0.8h-0.8zM72.8 426.1h0.8v0.8h-0.8zM59.6 425.2h0.8v0.8h-0.8zM70.6 420.4h0.8v0.8h-0.8zM58.4 424.4h0.8v0.8h-0.8zM86.3 426.3h0.8v0.8h-0.8zM53.6 429.8h0.8v0.8h-0.8zM76.4 427.6h0.8v0.8h-0.8zM62.4 424.4h0.8v0.8h-0.8zM88.9 429.2h0.8v0.8h-0.8zM112.2 417.8h0.8v0.8h-0.8zM52.4 423.2h0.8v0.8h-0.8zM58.8 422.3h0.8v0.8h-0.8zM53.9 427.1h0.8v0.8h-0.8zM76.1 425.9h0.8v0.8h-0.8zM80.9 429.4h0.8v0.8h-0.8zM59.9 425.4h0.8v0.8h-0.8zM70.4 420.2h0.8v0.8h-0.8zM65.5 428.9h0.8v0.8h-0.8zM71.5 425.0h0.8v0.8h-0.8zM92.9 427.3h0.8v0.8h-0.8zM77.1 421.5h0.8v0.8h-0.8zM79.6 423.2h0.8v0.8h-0.8zM66.0 423.3h0.8v0.8h-0.8zM55.3 427.1h0.8v0.8h-0.8zM55.8 428.1h0.8v0.8h-0.8zM71.0 429.5h0.8v0.8h-0.8zM57.0 427.1h0.8v0.8h-0.8zM75.0 426.0h0.8v0.8h-0.8zM66.7 422.6h0.8v0.8h-0.8zM55.4 420.9h0.8v0.8h-0.8zM71.4 414.6h0.8v0.8h-0.8zM60.4 427.6h0.8v0.8h-0.8zM68.1 424.1h0.8v0.8h-0.8zM60.2 425.6h0.8v0.8h-0.8zM52.8 422.7h0.8v0.8h-0.8zM75.6 421.4h0.8v0.8h-0.8zM66.5 423.5h0.8v0.8h-0.8zM55.6 417.2h0.8v0.8h-0.8zM59.3 421.9h0.8v0.8h-0.8zM57.7 424.7h0.8v0.8h-0.8zM70.9 427.4h0.8v0.8h-0.8zM71.3 420.4h0.8v0.8h-0.8zM81.4 426.3h0.8v0.8h-0.8zM75.0 419.9h0.8v0.8h-0.8zM72.9 429.3h0.8v0.8h-0.8zM62.2 425.6h0.8v0.8h-0.8zM67.3 427.6h0.8v0.8h-0.8zM69.4 426.0h0.8v0.8h-0.8zM59.0 420.3h0.8v0.8h-0.8zM58.2 427.0h0.8v0.8h-0.8zM81.0 422.4h0.8v0.8h-0.8zM51.8 426.4h0.8v0.8h-0.8zM67.5 421.6h0.8v0.8h-0.8zM82.7 427.8h0.8v0.8h-0.8zM67.8 419.6h0.8v0.8h-0.8zM80.2 429.4h0.8v0.8h-0.8zM57.7 421.1h0.8v0.8h-0.8zM76.5 426.7h0.8v0.8h-0.8zM67.5 423.1h0.8v0.8h-0.8zM78.0 426.0h0.8v0.8h-0.8zM76.5 420.5h0.8v0.8h-0.8zM68.5 426.6h0.8v0.8h-0.8zM78.0 418.4h0.8v0.8h-0.8zM65.9 422.4h0.8v0.8h-0.8zM68.0 424.4h0.8v0.8h-0.8zM72.1 428.1h0.8v0.8h-0.8zM70.6 424.7h0.8v0.8h-0.8zM68.6 421.8h0.8v0.8h-0.8zM85.4 428.6h0.8v0.8h-0.8zM89.5 423.4h0.8v0.8h-0.8zM64.1 424.3h0.8v0.8h-0.8zM67.1 419.2h0.8v0.8h-0.8zM76.3 419.1h0.8v0.8h-0.8zM57.4 426.0h0.8v0.8h-0.8zM56.5 419.6h0.8v0.8h-0.8zM47.7 420.0h0.8v0.8h-0.8zM74.7 422.4h0.8v0.8h-0.8zM81.3 426.0h0.8v0.8h-0.8zM49.5 418.1h0.8v0.8h-0.8zM53.0 422.7h0.8v0.8h-0.8zM68.4 422.6h0.8v0.8h-0.8zM62.6 421.3h0.8v0.8h-0.8zM69.7 428.1h0.8v0.8h-0.8zM59.7 423.9h0.8v0.8h-0.8zM84.5 427.4h0.8v0.8h-0.8zM68.5 417.4h0.8v0.8h-0.8zM68.8 423.6h0.8v0.8h-0.8zM65.8 429.4h0.8v0.8h-0.8zM68.5 425.7h0.8v0.8h-0.8zM64.9 425.4h0.8v0.8h-0.8zM81.4 426.0h0.8v0.8h-0.8zM58.1 422.0h0.8v0.8h-0.8zM79.6 427.2h0.8v0.8h-0.8zM59.6 424.5h0.8v0.8h-0.8zM69.0 427.3h0.8v0.8h-0.8zM58.5 425.4h0.8v0.8h-0.8zM55.1 421.9h0.8v0.8h-0.8zM66.5 417.9h0.8v0.8h-0.8z" fill="#000"/>
<path d="M75.2 416.7h0.8v0.8h-0.8zM94.8 417.5h0.8v0.8h-0.8zM83.5 419.8h0.8v0.8h-0.8zM84.2 416.9h0.8v0.8h-0.8zM87.0 419.2h0.8v0.8h-0.8zM83.1 415.6h0.8v0.8h-0.8zM94.0 415.4h0.8v0.8h-0.8zM81.5 417.5h0.8v0.8h-0.8zM85.3 418.9h0.8v0.8h-0.8zM93.8 421.9h0.8v0.8h-0.8zM85.8 418.4h0.8v0.8h-0.8zM90.9 417.6h0.8v0.8h-0.8zM86.8 414.7h0.8v0.8h-0.8zM88.0 417.8h0.8v0.8h-0.8zM78.9 418.7h0.8v0.8h-0.8zM97.0 419.0h0.8v0.8h-0.8zM82.0 421.8h0.8v0.8h-0.8zM87.8 418.6h0.8v0.8h-0.8zM93.5 420.7h0.8v0.8h-0.8zM96.4 415.6h0.8v0.8h-0.8zM83.9 417.7h0.8v0.8h-0.8zM87.0 414.5h0.8v0.8h-0.8zM87.4 413.8h0.8v0.8h-0.8zM83.2 417.3h0.8v0.8h-0.8zM87.3 419.0h0.8v0.8h-0.8zM82.2 419.0h0.8v0.8h-0.8zM87.5 417.7h0.8v0.8h-0.8zM86.1 416.5h0.8v0.8h-0.8zM95.0 422.1h0.8v0.8h-0.8zM87.3 422.0h0.8v0.8h-0.8zM81.7 416.5h0.8v0.8h-0.8zM84.4 419.3h0.8v0.8h-0.8zM84.4 415.3h0.8v0.8h-0.8zM78.6 414.7h0.8v0.8h-0.8zM90.7 419.4h0.8v0.8h-0.8zM79.0 423.6h0.8v0.8h-0.8zM83.6 416.6h0.8v0.8h-0.8zM85.2 418.1h0.8v0.8h-0.8zM84.1 417.9h0.8v0.8h-0.8zM89.9 420.7h0.8v0.8h-0.8zM82.6 417.5h0.8v0.8h-0.8zM82.3 416.7h0.8v0.8h-0.8zM85.5 417.1h0.8v0.8h-0.8zM89.0 415.3h0.8v0.8h-0.8zM87.9 420.2h0.8v0.8h-0.8zM84.4 417.0h0.8v0.8h-0.8zM89.0 416.9h0.8v0.8h-0.8zM84.4 418.6h0.8v0.8h-0.8zM73.7 420.1h0.8v0.8h-0.8zM87.2 419.7h0.8v0.8h-0.8zM79.2 416.8h0.8v0.8h-0.8zM88.2 419.7h0.8v0.8h-0.8zM83.1 416.6h0.8v0.8h-0.8zM93.6 418.8h0.8v0.8h-0.8zM92.1 414.0h0.8v0.8h-0.8zM88.1 416.4h0.8v0.8h-0.8zM83.5 421.8h0.8v0.8h-0.8zM80.8 415.2h0.8v0.8h-0.8zM82.6 417.3h0.8v0.8h-0.8zM86.2 419.3h0.8v0.8h-0.8zM92.2 419.4h0.8v0.8h-0.8zM94.8 421.2h0.8v0.8h-0.8zM88.7 417.6h0.8v0.8h-0.8zM92.8 417.1h0.8v0.8h-0.8zM90.9 418.1h0.8v0.8h-0.8zM83.2 420.0h0.8v0.8h-0.8zM89.4 418.9h0.8v0.8h-0.8zM91.4 418.4h0.8v0.8h-0.8zM82.4 418.3h0.8v0.8h-0.8zM95.3 415.1h0.8v0.8h-0.8zM77.0 418.0h0.8v0.8h-0.8zM80.9 422.0h0.8v0.8h-0.8zM86.8 415.2h0.8v0.8h-0.8zM85.7 415.2h0.8v0.8h-0.8zM88.4 420.8h0.8v0.8h-0.8zM92.0 421.1h0.8v0.8h-0.8zM85.9 421.5h0.8v0.8h-0.8zM88.4 414.2h0.8v0.8h-0.8zM92.8 415.4h0.8v0.8h-0.8zM83.1 413.4h0.8v0.8h-0.8z" fill="#000"/>
<polygon points="74.0,405.0 80.0,400.0 86.0,399.0 89.0,405.0 87.0,412.0 90.0,418.0 88.0,425.0 89.0,430.3 60.0,430.3 56.0,426.0 62.0,421.0 72.0,418.0 73.0,412.0" fill="#000" opacity="0.9" filter="url(#bl1)" stroke-linejoin="round"/>
<polygon points="71.9,408.8 75.1,405.5 83.3,396.5 87.4,398.2 92.0,400.6 92.0,407.1 89.0,411.2 84.1,412.9 74.3,413.7" fill="none" stroke="#000" stroke-width="0.8" stroke-linejoin="round"/>
<polyline points="71.9,430.5 71.9,421.0 89.0,421.0 89.0,430.5" fill="none" stroke="#000" stroke-width="0.6" stroke-linejoin="round"/>
<text x="99.5" y="410" font-size="5" font-weight="normal" text-anchor="start" fill="#333">R3</text>
<text x="0.8" y="9.8" font-size="13.5" font-weight="bold" text-anchor="start" fill="#000" stroke="#000" stroke-width="0.34" textLength="9.2" lengthAdjust="spacingAndGlyphs">A</text>
<text x="224.0" y="10.8" font-size="12.4" font-weight="bold" text-anchor="start" fill="#000" stroke="#000" stroke-width="0.31" textLength="47.4" lengthAdjust="spacingAndGlyphs">BALB/c</text>
<line x1="276" y1="7.6" x2="287" y2="7.6" stroke="#000" stroke-width="1.2"/>
<polygon points="289.8,7.6 285.6,5.3 285.6,9.9" fill="#000"/>
<text x="292.6" y="10.8" font-size="12.4" font-weight="bold" text-anchor="start" fill="#000" stroke="#000" stroke-width="0.31" textLength="16.9" lengthAdjust="spacingAndGlyphs">B6</text>
<text x="223.6" y="248.2" font-size="12.4" font-weight="bold" text-anchor="start" fill="#000" stroke="#000" stroke-width="0.31" textLength="15.8" lengthAdjust="spacingAndGlyphs">B6</text>
<line x1="244.8" y1="243.6" x2="255.5" y2="243.6" stroke="#000" stroke-width="1.2"/>
<polygon points="258.3,243.6 254.1,241.3 254.1,245.9" fill="#000"/>
<text x="261.3" y="248.2" font-size="12.4" font-weight="bold" text-anchor="start" fill="#000" stroke="#000" stroke-width="0.31" textLength="46.6" lengthAdjust="spacingAndGlyphs">B6D2F1</text>
<text x="191.2" y="34.3" font-size="10.8" font-weight="bold" text-anchor="start" fill="#000" stroke="#000" stroke-width="0.27" textLength="35.6" lengthAdjust="spacingAndGlyphs">Day +2</text>
<line x1="190.89999999999998" y1="36.3" x2="227.5" y2="36.3" stroke="#000" stroke-width="1.1"/>
<text x="317.8" y="34.3" font-size="10.8" font-weight="bold" text-anchor="start" fill="#000" stroke="#000" stroke-width="0.27" textLength="35.6" lengthAdjust="spacingAndGlyphs">Day +5</text>
<line x1="317.5" y1="36.3" x2="354.1" y2="36.3" stroke="#000" stroke-width="1.1"/>
<text x="191.3" y="264.9" font-size="10.8" font-weight="bold" text-anchor="start" fill="#000" stroke="#000" stroke-width="0.27" textLength="35.6" lengthAdjust="spacingAndGlyphs">Day +2</text>
<line x1="191.0" y1="266.9" x2="227.60000000000002" y2="266.9" stroke="#000" stroke-width="1.1"/>
<text x="317.8" y="264.9" font-size="10.8" font-weight="bold" text-anchor="start" fill="#000" stroke="#000" stroke-width="0.27" textLength="35.6" lengthAdjust="spacingAndGlyphs">Day +5</text>
<line x1="317.5" y1="266.9" x2="354.1" y2="266.9" stroke="#000" stroke-width="1.1"/>
<text x="263.5" y="54.6" font-size="10.5" font-weight="bold" text-anchor="start" fill="#000" stroke="#000" stroke-width="0.26" textLength="15.5" lengthAdjust="spacingAndGlyphs">NK</text>
<text x="259.7" y="112.6" font-size="10.5" font-weight="bold" text-anchor="start" fill="#000" stroke="#000" stroke-width="0.26" textLength="22.3" lengthAdjust="spacingAndGlyphs">NKT</text>
<text x="267.8" y="170.9" font-size="10.5" font-weight="bold" text-anchor="start" fill="#000" stroke="#000" stroke-width="0.26" textLength="6.5" lengthAdjust="spacingAndGlyphs">T</text>
<text x="197.5" y="220.8" font-size="10.6" font-weight="bold" text-anchor="start" fill="#000" stroke="#000" stroke-width="0.27" textLength="22.2" lengthAdjust="spacingAndGlyphs">IFNγ</text>
<text x="319.6" y="220.8" font-size="10.6" font-weight="bold" text-anchor="start" fill="#000" stroke="#000" stroke-width="0.27" textLength="23" lengthAdjust="spacingAndGlyphs">IFNγ</text>
<text x="41.2" y="100.2" font-size="10.8" font-weight="bold" text-anchor="start" fill="#000" stroke="#000" stroke-width="0.27" textLength="20.4" lengthAdjust="spacingAndGlyphs" transform="rotate(-90 41.2 100.2)">CD3</text>
<text x="70.9" y="124" font-size="10.4" font-weight="bold" text-anchor="start" fill="#000" stroke="#000" stroke-width="0.26" textLength="20.4" lengthAdjust="spacingAndGlyphs">DX5</text>
<text x="27.8" y="214.3" font-size="10.6" font-weight="bold" text-anchor="start" fill="#000" stroke="#000" stroke-width="0.27" textLength="78.9" lengthAdjust="spacingAndGlyphs" transform="rotate(-90 27.8 214.3)">α–GalCer/CD1d</text>
<text x="40.6" y="180.2" font-size="10.6" font-weight="bold" text-anchor="start" fill="#000" stroke="#000" stroke-width="0.27" textLength="13" lengthAdjust="spacingAndGlyphs" transform="rotate(-90 40.6 180.2)">tet</text>
<text x="70" y="210.4" font-size="10.8" font-weight="bold" text-anchor="start" fill="#000" stroke="#000" stroke-width="0.27" textLength="21.5" lengthAdjust="spacingAndGlyphs">CD3</text>
<text x="40.6" y="332.8" font-size="10.5" font-weight="bold" text-anchor="start" fill="#000" stroke="#000" stroke-width="0.26" textLength="29.2" lengthAdjust="spacingAndGlyphs" transform="rotate(-90 40.6 332.8)">NK1.1</text>
<text x="70.2" y="359.8" font-size="10.8" font-weight="bold" text-anchor="start" fill="#000" stroke="#000" stroke-width="0.27" textLength="21.5" lengthAdjust="spacingAndGlyphs">CD3</text>
<text x="27.9" y="447.3" font-size="10.6" font-weight="bold" text-anchor="start" fill="#000" stroke="#000" stroke-width="0.27" textLength="80.3" lengthAdjust="spacingAndGlyphs" transform="rotate(-90 27.9 447.3)">α–GalCer/CD1d</text>
<text x="40.6" y="412.2" font-size="10.6" font-weight="bold" text-anchor="start" fill="#000" stroke="#000" stroke-width="0.27" textLength="13" lengthAdjust="spacingAndGlyphs" transform="rotate(-90 40.6 412.2)">tet</text>
<text x="70.2" y="443.7" font-size="10.8" font-weight="bold" text-anchor="start" fill="#000" stroke="#000" stroke-width="0.27" textLength="21.5" lengthAdjust="spacingAndGlyphs">CD3</text>
<text x="263.5" y="287.7" font-size="10.5" font-weight="bold" text-anchor="start" fill="#000" stroke="#000" stroke-width="0.26" textLength="15.5" lengthAdjust="spacingAndGlyphs">NK</text>
<text x="259.7" y="350.7" font-size="10.5" font-weight="bold" text-anchor="start" fill="#000" stroke="#000" stroke-width="0.26" textLength="22.5" lengthAdjust="spacingAndGlyphs">NKT</text>
<text x="267.8" y="404.4" font-size="10.5" font-weight="bold" text-anchor="start" fill="#000" stroke="#000" stroke-width="0.26" textLength="6.5" lengthAdjust="spacingAndGlyphs">T</text>
<text x="197.5" y="455.8" font-size="10.6" font-weight="bold" text-anchor="start" fill="#000" stroke="#000" stroke-width="0.27" textLength="22.2" lengthAdjust="spacingAndGlyphs">IFNγ</text>
<text x="319.3" y="455.8" font-size="10.6" font-weight="bold" text-anchor="start" fill="#000" stroke="#000" stroke-width="0.27" textLength="23" lengthAdjust="spacingAndGlyphs">IFNγ</text>
<rect x="401.5" y="199.2" width="106.6" height="56.2" fill="#fff" stroke="#555" stroke-width="0.9"/>
<rect x="408.6" y="205.6" width="18" height="5.4" fill="#fff" stroke="#000" stroke-width="0.9"/>
<rect x="408.6" y="219.2" width="18" height="5.4" fill="#000" stroke="#000" stroke-width="0.9"/>
<rect x="408.6" y="231" width="18" height="5.4" fill="#ffff00" stroke="#000" stroke-width="0.9"/>
<rect x="408.6" y="243.7" width="18" height="5.4" fill="#e8380f" stroke="#000" stroke-width="0.9"/>
<text x="444.2" y="210.6" font-size="8.75" font-weight="normal" text-anchor="start" fill="#222" textLength="57" lengthAdjust="spacingAndGlyphs">Isotype control</text>
<text x="444.2" y="224.4" font-size="8.75" font-weight="normal" text-anchor="start" fill="#222" textLength="46" lengthAdjust="spacingAndGlyphs">Control lipid</text>
<text x="444.2" y="237.3" font-size="8.75" font-weight="normal" text-anchor="start" fill="#222" textLength="22.8" lengthAdjust="spacingAndGlyphs">C20:2</text>
<text x="444.2" y="250.1" font-size="8.75" font-weight="normal" text-anchor="start" fill="#222" textLength="37.2" lengthAdjust="spacingAndGlyphs">KRN7000</text>
<text x="0.6" y="478.6" font-size="12.5" font-weight="bold" text-anchor="start" fill="#000" stroke="#000" stroke-width="0.31" textLength="8.8" lengthAdjust="spacingAndGlyphs">B</text>
<text x="36.6" y="479.8" font-size="10.3" font-weight="bold" text-anchor="start" fill="#000" stroke="#000" stroke-width="0.26" textLength="94.4" lengthAdjust="spacingAndGlyphs">NK cell expansion</text>
<text x="196.7" y="479.8" font-size="10.3" font-weight="bold" text-anchor="start" fill="#000" stroke="#000" stroke-width="0.26" textLength="85.4" lengthAdjust="spacingAndGlyphs">T cell expansion</text>
<text x="321.5" y="478.7" font-size="12" font-weight="bold" text-anchor="start" fill="#000" stroke="#000" stroke-width="0.30" textLength="9.2" lengthAdjust="spacingAndGlyphs">C</text>
<text x="340.9" y="479.5" font-size="10.3" font-weight="bold" text-anchor="start" fill="#000" stroke="#000" stroke-width="0.26" textLength="73" lengthAdjust="spacingAndGlyphs">Liver NK cells</text>
<line x1="27.5" y1="493.5" x2="27.5" y2="578.75" stroke="#000" stroke-width="0.9"/>
<line x1="25.5" y1="578.75" x2="27.5" y2="578.75" stroke="#000" stroke-width="0.8"/>
<text x="25.3" y="580.95" font-size="6.2" font-weight="bold" text-anchor="end" fill="#000">0.0</text>
<line x1="25.5" y1="566.61" x2="27.5" y2="566.61" stroke="#000" stroke-width="0.8"/>
<text x="25.3" y="568.8100000000001" font-size="6.2" font-weight="bold" text-anchor="end" fill="#000">0.1</text>
<line x1="25.5" y1="554.47" x2="27.5" y2="554.47" stroke="#000" stroke-width="0.8"/>
<text x="25.3" y="556.6700000000001" font-size="6.2" font-weight="bold" text-anchor="end" fill="#000">0.2</text>
<line x1="25.5" y1="542.33" x2="27.5" y2="542.33" stroke="#000" stroke-width="0.8"/>
<text x="25.3" y="544.5300000000001" font-size="6.2" font-weight="bold" text-anchor="end" fill="#000">0.3</text>
<line x1="25.5" y1="530.19" x2="27.5" y2="530.19" stroke="#000" stroke-width="0.8"/>
<text x="25.3" y="532.3900000000001" font-size="6.2" font-weight="bold" text-anchor="end" fill="#000">0.4</text>
<line x1="25.5" y1="518.05" x2="27.5" y2="518.05" stroke="#000" stroke-width="0.8"/>
<text x="25.3" y="520.25" font-size="6.2" font-weight="bold" text-anchor="end" fill="#000">0.5</text>
<line x1="25.5" y1="505.90999999999997" x2="27.5" y2="505.90999999999997" stroke="#000" stroke-width="0.8"/>
<text x="25.3" y="508.10999999999996" font-size="6.2" font-weight="bold" text-anchor="end" fill="#000">0.6</text>
<line x1="25.5" y1="493.77" x2="27.5" y2="493.77" stroke="#000" stroke-width="0.8"/>
<text x="25.3" y="495.96999999999997" font-size="6.2" font-weight="bold" text-anchor="end" fill="#000">0.7</text>
<line x1="27.5" y1="578.75" x2="143" y2="578.75" stroke="#000" stroke-width="0.9"/>
<rect x="35.75" y="570.252" width="11.25" height="8.498000000000047" fill="#000" stroke="#000" stroke-width="0.9"/>
<line x1="41.375" y1="570.252" x2="41.375" y2="569.645" stroke="#000" stroke-width="0.9"/>
<line x1="38.875" y1="569.645" x2="43.875" y2="569.645" stroke="#000" stroke-width="0.9"/>
<rect x="52" y="550.828" width="11.75" height="27.922000000000025" fill="#ffff00" stroke="#000" stroke-width="0.9"/>
<line x1="57.875" y1="550.828" x2="57.875" y2="547.186" stroke="#000" stroke-width="0.9"/>
<line x1="55.375" y1="547.186" x2="60.375" y2="547.186" stroke="#000" stroke-width="0.9"/>
<text x="57.875" y="547.486" font-size="7" font-weight="bold" text-anchor="middle" fill="#000">*</text>
<rect x="68.75" y="509.552" width="11.25" height="69.19799999999998" fill="#f50808" stroke="#000" stroke-width="0.9"/>
<line x1="74.375" y1="509.552" x2="74.375" y2="504.696" stroke="#000" stroke-width="0.9"/>
<line x1="71.875" y1="504.696" x2="76.875" y2="504.696" stroke="#000" stroke-width="0.9"/>
<text x="74.375" y="504.99600000000004" font-size="7" font-weight="bold" text-anchor="middle" fill="#000">**</text>
<rect x="95.75" y="566.61" width="11.25" height="12.139999999999986" fill="#000" stroke="#000" stroke-width="0.9"/>
<line x1="101.375" y1="566.61" x2="101.375" y2="566.003" stroke="#000" stroke-width="0.9"/>
<line x1="98.875" y1="566.003" x2="103.875" y2="566.003" stroke="#000" stroke-width="0.9"/>
<rect x="111.75" y="561.754" width="11.5" height="16.99599999999998" fill="#ffff00" stroke="#000" stroke-width="0.9"/>
<line x1="117.5" y1="561.754" x2="117.5" y2="559.326" stroke="#000" stroke-width="0.9"/>
<line x1="115.0" y1="559.326" x2="120.0" y2="559.326" stroke="#000" stroke-width="0.9"/>
<text x="117.5" y="559.626" font-size="7" font-weight="bold" text-anchor="middle" fill="#000">*</text>
<rect x="128.25" y="527.762" width="11.0" height="50.988000000000056" fill="#f50808" stroke="#000" stroke-width="0.9"/>
<line x1="133.75" y1="527.762" x2="133.75" y2="520.478" stroke="#000" stroke-width="0.9"/>
<line x1="131.25" y1="520.478" x2="136.25" y2="520.478" stroke="#000" stroke-width="0.9"/>
<text x="133.75" y="520.7779999999999" font-size="7" font-weight="bold" text-anchor="middle" fill="#000">**</text>
<line x1="57.5" y1="578.75" x2="57.5" y2="580.75" stroke="#000" stroke-width="0.8"/>
<line x1="117.5" y1="578.75" x2="117.5" y2="580.75" stroke="#000" stroke-width="0.8"/>
<text x="44.9" y="587.2" font-size="6.2" font-weight="bold" text-anchor="start" fill="#000" textLength="24.7" lengthAdjust="spacingAndGlyphs">24 hours</text>
<text x="111.4" y="587.2" font-size="6.2" font-weight="bold" text-anchor="start" fill="#000" textLength="24.4" lengthAdjust="spacingAndGlyphs">48 hours</text>
<text x="41.5" y="602.6" font-size="9.4" font-weight="bold" text-anchor="start" fill="#000" stroke="#000" stroke-width="0.24" textLength="90.6" lengthAdjust="spacingAndGlyphs">Hours after glycolipid</text>
<text transform="translate(13.2 575) rotate(-90)" font-size="6.3" font-weight="bold" textLength="78.6" lengthAdjust="spacingAndGlyphs">NK cells per liver (x10<tspan dy="-2.5" font-size="4.5">-6</tspan><tspan dy="2.5">)</tspan></text>
<line x1="184.5" y1="492.5" x2="184.5" y2="578.75" stroke="#000" stroke-width="0.9"/>
<line x1="182.5" y1="578.75" x2="184.5" y2="578.75" stroke="#000" stroke-width="0.8"/>
<text x="182.3" y="580.95" font-size="6.2" font-weight="bold" text-anchor="end" fill="#000">0.0</text>
<line x1="182.5" y1="557.19" x2="184.5" y2="557.19" stroke="#000" stroke-width="0.8"/>
<text x="182.3" y="559.3900000000001" font-size="6.2" font-weight="bold" text-anchor="end" fill="#000">0.2</text>
<line x1="182.5" y1="535.63" x2="184.5" y2="535.63" stroke="#000" stroke-width="0.8"/>
<text x="182.3" y="537.83" font-size="6.2" font-weight="bold" text-anchor="end" fill="#000">0.4</text>
<line x1="182.5" y1="514.07" x2="184.5" y2="514.07" stroke="#000" stroke-width="0.8"/>
<text x="182.3" y="516.2700000000001" font-size="6.2" font-weight="bold" text-anchor="end" fill="#000">0.6</text>
<line x1="182.5" y1="492.51" x2="184.5" y2="492.51" stroke="#000" stroke-width="0.8"/>
<text x="182.3" y="494.71" font-size="6.2" font-weight="bold" text-anchor="end" fill="#000">0.8</text>
<line x1="184.5" y1="578.75" x2="303.75" y2="578.75" stroke="#000" stroke-width="0.9"/>
<rect x="193" y="571.204" width="10.75" height="7.546000000000049" fill="#000" stroke="#000" stroke-width="0.9"/>
<line x1="198.375" y1="571.204" x2="198.375" y2="570.665" stroke="#000" stroke-width="0.9"/>
<line x1="195.875" y1="570.665" x2="200.875" y2="570.665" stroke="#000" stroke-width="0.9"/>
<rect x="209.25" y="559.346" width="10.75" height="19.403999999999996" fill="#ffff00" stroke="#000" stroke-width="0.9"/>
<line x1="214.625" y1="559.346" x2="214.625" y2="556.112" stroke="#000" stroke-width="0.9"/>
<line x1="212.125" y1="556.112" x2="217.125" y2="556.112" stroke="#000" stroke-width="0.9"/>
<text x="214.625" y="556.4119999999999" font-size="7" font-weight="bold" text-anchor="middle" fill="#000">*</text>
<rect x="225" y="536.708" width="11.25" height="42.04200000000003" fill="#f50808" stroke="#000" stroke-width="0.9"/>
<line x1="230.625" y1="536.708" x2="230.625" y2="535.091" stroke="#000" stroke-width="0.9"/>
<line x1="228.125" y1="535.091" x2="233.125" y2="535.091" stroke="#000" stroke-width="0.9"/>
<text x="230.625" y="535.391" font-size="7" font-weight="bold" text-anchor="middle" fill="#000">*</text>
<rect x="252.5" y="563.658" width="11.25" height="15.091999999999985" fill="#000" stroke="#000" stroke-width="0.9"/>
<line x1="258.125" y1="563.658" x2="258.125" y2="560.963" stroke="#000" stroke-width="0.9"/>
<line x1="255.625" y1="560.963" x2="260.625" y2="560.963" stroke="#000" stroke-width="0.9"/>
<rect x="268.75" y="552.878" width="11.25" height="25.871999999999957" fill="#ffff00" stroke="#000" stroke-width="0.9"/>
<line x1="274.375" y1="552.878" x2="274.375" y2="547.488" stroke="#000" stroke-width="0.9"/>
<line x1="271.875" y1="547.488" x2="276.875" y2="547.488" stroke="#000" stroke-width="0.9"/>
<rect x="285" y="509.758" width="10.75" height="68.99200000000002" fill="#f50808" stroke="#000" stroke-width="0.9"/>
<line x1="290.375" y1="509.758" x2="290.375" y2="498.978" stroke="#000" stroke-width="0.9"/>
<line x1="287.875" y1="498.978" x2="292.875" y2="498.978" stroke="#000" stroke-width="0.9"/>
<text x="290.375" y="499.278" font-size="7" font-weight="bold" text-anchor="middle" fill="#000">*</text>
<text x="202.3" y="587.2" font-size="6.2" font-weight="bold" text-anchor="start" fill="#000" textLength="24.7" lengthAdjust="spacingAndGlyphs">24 hours</text>
<text x="262.3" y="587.2" font-size="6.2" font-weight="bold" text-anchor="start" fill="#000" textLength="24.2" lengthAdjust="spacingAndGlyphs">48 hours</text>
<text x="195.3" y="602.4" font-size="9.4" font-weight="bold" text-anchor="start" fill="#000" stroke="#000" stroke-width="0.24" textLength="90.8" lengthAdjust="spacingAndGlyphs">Hours after glycolipid</text>
<text transform="translate(170.6 575.4) rotate(-90)" font-size="6.3" font-weight="bold" textLength="76.7" lengthAdjust="spacingAndGlyphs">T cells per liver (x10<tspan dy="-2.5" font-size="4.5">-6</tspan><tspan dy="2.5">)</tspan></text>
<line x1="355.5" y1="491.25" x2="355.5" y2="579.5" stroke="#000" stroke-width="0.9"/>
<line x1="353.5" y1="579.5" x2="355.5" y2="579.5" stroke="#000" stroke-width="0.8"/>
<text x="353.3" y="581.7" font-size="6.8" font-weight="bold" text-anchor="end" fill="#000">0</text>
<line x1="353.5" y1="550.1" x2="355.5" y2="550.1" stroke="#000" stroke-width="0.8"/>
<text x="353.3" y="552.3000000000001" font-size="6.8" font-weight="bold" text-anchor="end" fill="#000">1</text>
<line x1="353.5" y1="520.7" x2="355.5" y2="520.7" stroke="#000" stroke-width="0.8"/>
<text x="353.3" y="522.9000000000001" font-size="6.8" font-weight="bold" text-anchor="end" fill="#000">2</text>
<line x1="353.5" y1="491.3" x2="355.5" y2="491.3" stroke="#000" stroke-width="0.8"/>
<text x="353.3" y="493.5" font-size="6.8" font-weight="bold" text-anchor="end" fill="#000">3</text>
<line x1="355.5" y1="579.5" x2="407.5" y2="579.5" stroke="#000" stroke-width="0.9"/>
<rect x="359.5" y="528.638" width="11.25" height="50.861999999999966" fill="#000" stroke="#000" stroke-width="0.9"/>
<line x1="365.125" y1="528.638" x2="365.125" y2="525.992" stroke="#000" stroke-width="0.9"/>
<line x1="362.625" y1="525.992" x2="367.625" y2="525.992" stroke="#000" stroke-width="0.9"/>
<rect x="376.25" y="508.94" width="12.5" height="70.56" fill="#ffff00" stroke="#000" stroke-width="0.9"/>
<line x1="382.5" y1="508.94" x2="382.5" y2="504.824" stroke="#000" stroke-width="0.9"/>
<line x1="380.0" y1="504.824" x2="385.0" y2="504.824" stroke="#000" stroke-width="0.9"/>
<text x="382.5" y="505.124" font-size="7" font-weight="bold" text-anchor="middle" fill="#000">*</text>
<rect x="393.75" y="500.12" width="11.75" height="79.38" fill="#f50808" stroke="#000" stroke-width="0.9"/>
<line x1="399.625" y1="500.12" x2="399.625" y2="497.474" stroke="#000" stroke-width="0.9"/>
<line x1="397.125" y1="497.474" x2="402.125" y2="497.474" stroke="#000" stroke-width="0.9"/>
<text x="399.625" y="497.774" font-size="7" font-weight="bold" text-anchor="middle" fill="#000">*</text>
<text x="345.7" y="564.2" font-size="6.3" font-weight="bold" text-anchor="start" fill="#000" textLength="57.4" lengthAdjust="spacingAndGlyphs" transform="rotate(-90 345.7 564.2)">Proliferation index</text>
<rect x="454.6" y="476.9" width="64.4" height="45.1" fill="#fff" stroke="#999" stroke-width="0.8"/>
<line x1="454.6" y1="476.9" x2="454.6" y2="522" stroke="#222" stroke-width="1.0"/>
<line x1="454.6" y1="522" x2="519" y2="522" stroke="#666" stroke-width="0.8"/>
<polygon points="456.0,521.6 456.0,521.6 456.6,521.5 457.2,521.4 457.8,521.3 458.4,521.2 459.0,521.0 459.6,520.8 460.2,520.9 460.8,520.4 461.4,520.6 462.0,520.1 462.6,520.6 463.2,520.4 463.8,520.5 464.4,520.0 465.0,520.1 465.6,519.5 466.2,519.0 466.8,519.0 467.4,517.9 468.0,518.0 468.6,518.3 469.2,517.5 469.8,516.8 470.4,518.4 471.0,516.1 471.6,514.8 472.2,515.0 472.8,513.7 473.4,513.2 474.0,512.6 474.6,514.3 475.2,511.5 475.8,510.9 476.4,510.7 477.0,511.3 477.6,508.3 478.2,507.1 478.8,509.4 479.4,504.7 480.0,505.0 480.6,505.2 481.2,506.2 481.8,502.5 482.4,500.6 483.0,503.3 483.6,501.7 484.2,501.5 484.8,502.2 485.4,501.8 486.0,501.6 486.6,500.7 487.2,502.2 487.8,502.2 488.4,500.6 489.0,499.9 489.6,500.9 490.2,500.4 490.8,498.7 491.4,499.1 492.0,500.4 492.6,499.0 493.2,498.6 493.8,498.9 494.4,498.4 495.0,498.2 495.6,495.7 496.2,497.4 496.8,493.9 497.4,490.6 498.0,490.2 498.6,487.2 499.2,484.6 499.8,488.1 500.4,491.8 501.0,492.6 501.6,498.8 502.2,504.6 502.8,506.4 503.4,511.6 504.0,517.5 504.6,521.6" fill="#ffff00" stroke="#000" stroke-width="0.5" opacity="1" stroke-linejoin="round"/>
<polygon points="455.0,521.6 455.0,521.6 455.6,521.6 456.2,521.5 456.8,521.5 457.4,521.5 458.0,521.4 458.6,521.4 459.2,521.4 459.8,521.3 460.4,521.3 461.0,521.3 461.6,521.2 462.2,521.2 462.8,521.2 463.4,521.1 464.0,521.1 464.6,521.1 465.2,520.9 465.8,521.0 466.4,520.9 467.0,520.9 467.6,520.6 468.2,520.2 468.8,520.4 469.4,519.9 470.0,520.3 470.6,519.8 471.2,520.2 471.8,519.5 472.4,519.0 473.0,518.6 473.6,518.7 474.2,518.8 474.8,518.9 475.4,518.2 476.0,517.5 476.6,517.9 477.2,516.5 477.8,517.4 478.4,516.3 479.0,517.5 479.6,516.9 480.2,516.2 480.8,514.8 481.4,515.7 482.0,515.3 482.6,514.3 483.2,513.9 483.8,515.1 484.4,513.4 485.0,513.6 485.6,513.9 486.2,511.2 486.8,513.3 487.4,512.3 488.0,510.5 488.6,509.6 489.2,508.8 489.8,509.9 490.4,506.5 491.0,508.7 491.6,506.9 492.2,505.1 492.8,504.0 493.4,502.7 494.0,501.3 494.6,500.7 495.2,497.7 495.8,497.5 496.4,495.6 497.0,492.8 497.6,491.2 498.2,488.0 498.8,486.2 499.4,485.8 500.0,489.4 500.6,490.3 501.2,493.6 501.8,499.0 502.4,504.0 503.0,508.1 503.6,515.2 504.2,518.2 504.6,521.6" fill="#000" stroke="none" stroke-width="0.5" opacity="1" stroke-linejoin="round"/>
<rect x="453.1" y="532.7" width="65.9" height="45.4" fill="#fff" stroke="#999" stroke-width="0.8"/>
<line x1="453.1" y1="532.7" x2="453.1" y2="578.1" stroke="#222" stroke-width="1.0"/>
<line x1="453.1" y1="578.1" x2="519" y2="578.1" stroke="#666" stroke-width="0.8"/>
<polygon points="467.0,577.7 467.0,577.7 467.6,577.0 468.2,576.4 468.8,575.5 469.4,574.7 470.0,573.5 470.6,573.1 471.2,573.5 471.8,571.9 472.4,571.8 473.0,569.9 473.6,569.5 474.2,568.6 474.8,565.7 475.4,568.1 476.0,567.1 476.6,566.5 477.2,563.3 477.8,562.6 478.4,563.0 479.0,562.9 479.6,563.2 480.2,562.2 480.8,562.3 481.4,560.2 482.0,560.8 482.6,557.2 483.2,552.2 483.8,554.8 484.4,556.4 485.0,560.2 485.6,557.8 486.2,557.3 486.8,557.5 487.4,557.5 488.0,558.1 488.6,557.8 489.2,557.1 489.8,556.6 490.4,557.3 491.0,559.6 491.6,556.4 492.2,557.0 492.8,556.5 493.4,552.8 494.0,552.8 494.6,552.4 495.2,547.0 495.8,548.6 496.4,548.4 497.0,547.1 497.6,547.5 498.2,545.5 498.8,544.2 499.4,549.0 500.0,550.8 500.6,555.6 501.2,560.7 501.8,563.9 502.4,567.7 503.0,569.8 503.6,575.5 504.0,577.7" fill="#f50808" stroke="#000" stroke-width="0.5" opacity="1" stroke-linejoin="round"/>
<polygon points="454.0,577.7 454.0,577.7 454.6,577.6 455.2,577.5 455.8,577.3 456.4,577.2 457.0,577.1 457.6,577.2 458.2,577.0 458.8,576.9 459.4,576.7 460.0,576.6 460.6,576.6 461.2,576.6 461.8,576.5 462.4,576.5 463.0,576.5 463.6,576.8 464.2,576.8 464.8,577.0 465.4,576.9 466.0,576.9 466.6,577.0 467.2,577.0 467.8,576.8 468.4,577.0 469.0,576.7 469.6,576.6 470.2,576.3 470.8,576.8 471.4,576.3 472.0,576.0 472.6,575.4 473.2,575.8 473.8,575.1 474.4,575.6 475.0,574.5 475.6,574.8 476.2,575.0 476.8,574.1 477.4,574.3 478.0,574.2 478.6,574.4 479.2,573.4 479.8,573.9 480.4,574.6 481.0,572.1 481.6,572.3 482.2,573.0 482.8,571.9 483.4,571.0 484.0,573.0 484.6,572.3 485.2,572.1 485.8,571.7 486.4,571.1 487.0,569.5 487.6,567.9 488.2,569.9 488.8,567.9 489.4,568.1 490.0,567.7 490.6,565.7 491.2,565.7 491.8,566.8 492.4,564.9 493.0,561.7 493.6,561.6 494.2,560.6 494.8,559.8 495.4,557.9 496.0,554.7 496.6,552.0 497.2,550.4 497.8,546.0 498.4,545.7 499.0,545.9 499.6,546.7 500.2,549.1 500.8,554.1 501.4,557.0 502.0,560.5 502.6,567.1 503.2,572.0 503.8,573.9 504.4,577.2 504.5,577.7" fill="#000" stroke="none" stroke-width="0.5" opacity="1" stroke-linejoin="round"/>
<line x1="451.7" y1="586" x2="480.7" y2="586.0" stroke="#000" stroke-width="1.5"/>
<polygon points="487.7,586.0 480.7,589.2 480.7,582.8" fill="#000"/>
<text x="454.2" y="596.2" font-size="6.4" font-weight="bold" text-anchor="start" fill="#000" textLength="16.8" lengthAdjust="spacingAndGlyphs">CFSE</text>
<text x="0.8" y="629.9" font-size="12.6" font-weight="bold" text-anchor="start" fill="#000" stroke="#000" stroke-width="0.32" textLength="8.8" lengthAdjust="spacingAndGlyphs">D</text>
<text x="54.6" y="627.3" font-size="10.6" font-weight="bold" text-anchor="start" fill="#000" stroke="#000" stroke-width="0.27" textLength="103.5" lengthAdjust="spacingAndGlyphs">NK cell engraftment</text>
<text x="261.1" y="627.2" font-size="10.6" font-weight="bold" text-anchor="start" fill="#000" stroke="#000" stroke-width="0.27" textLength="95" lengthAdjust="spacingAndGlyphs">T cell engraftment</text>
<rect x="70.6" y="650" width="53.80000000000001" height="42.5" fill="none" stroke="#333" stroke-width="0.8"/>
<line x1="92.25" y1="650" x2="92.25" y2="692.5" stroke="#222" stroke-width="0.8"/>
<line x1="70.6" y1="667.25" x2="124.4" y2="667.25" stroke="#222" stroke-width="0.8"/>
<line x1="70.6" y1="650" x2="70.6" y2="692.5" stroke="#000" stroke-width="1.0"/>
<path d="M70.6 692.5v1.2M73.6 692.5v1.2M76.6 692.5v1.2M79.6 692.5v1.2M82.6 692.5v1.2M85.6 692.5v1.2M88.6 692.5v1.2M91.6 692.5v1.2M94.6 692.5v1.2M97.6 692.5v1.2M100.6 692.5v1.2M103.6 692.5v1.2M106.6 692.5v1.2M109.6 692.5v1.2M112.6 692.5v1.2M115.6 692.5v1.2M118.6 692.5v1.2M121.6 692.5v1.2" stroke="#555" stroke-width="0.4"/>
<path d="M75.9 659.3h0.8v0.8h-0.8zM73.9 661.1h0.8v0.8h-0.8zM74.1 661.7h0.8v0.8h-0.8zM83.9 661.8h0.8v0.8h-0.8zM82.2 663.8h0.8v0.8h-0.8zM77.0 664.3h0.8v0.8h-0.8zM79.8 662.2h0.8v0.8h-0.8zM81.8 664.1h0.8v0.8h-0.8zM74.0 663.5h0.8v0.8h-0.8zM77.6 662.4h0.8v0.8h-0.8zM75.0 658.7h0.8v0.8h-0.8zM85.8 663.3h0.8v0.8h-0.8zM74.8 661.0h0.8v0.8h-0.8zM74.1 662.2h0.8v0.8h-0.8zM90.1 662.1h0.8v0.8h-0.8zM71.6 663.3h0.8v0.8h-0.8zM75.5 660.1h0.8v0.8h-0.8zM81.9 662.2h0.8v0.8h-0.8zM80.9 663.2h0.8v0.8h-0.8zM84.7 659.4h0.8v0.8h-0.8zM80.9 663.8h0.8v0.8h-0.8zM86.2 660.8h0.8v0.8h-0.8zM81.9 662.0h0.8v0.8h-0.8zM84.1 662.0h0.8v0.8h-0.8zM73.7 660.7h0.8v0.8h-0.8zM78.8 663.4h0.8v0.8h-0.8zM87.3 660.9h0.8v0.8h-0.8zM82.2 662.2h0.8v0.8h-0.8zM74.3 660.6h0.8v0.8h-0.8zM87.7 661.6h0.8v0.8h-0.8zM79.6 662.9h0.8v0.8h-0.8zM81.8 663.2h0.8v0.8h-0.8zM76.0 661.7h0.8v0.8h-0.8zM81.3 662.7h0.8v0.8h-0.8zM76.4 659.9h0.8v0.8h-0.8zM84.3 663.4h0.8v0.8h-0.8zM84.7 662.1h0.8v0.8h-0.8zM71.1 661.7h0.8v0.8h-0.8zM90.0 662.7h0.8v0.8h-0.8zM81.2 660.0h0.8v0.8h-0.8zM76.8 663.6h0.8v0.8h-0.8zM81.7 662.1h0.8v0.8h-0.8zM86.2 663.2h0.8v0.8h-0.8zM82.7 662.0h0.8v0.8h-0.8zM82.1 663.7h0.8v0.8h-0.8zM81.6 660.5h0.8v0.8h-0.8zM79.1 661.9h0.8v0.8h-0.8zM82.1 664.0h0.8v0.8h-0.8zM79.7 661.6h0.8v0.8h-0.8zM83.7 662.9h0.8v0.8h-0.8zM76.1 662.9h0.8v0.8h-0.8zM80.9 662.7h0.8v0.8h-0.8zM72.4 659.5h0.8v0.8h-0.8zM72.5 659.9h0.8v0.8h-0.8zM84.8 663.6h0.8v0.8h-0.8zM73.6 664.3h0.8v0.8h-0.8zM74.4 661.1h0.8v0.8h-0.8zM90.7 660.5h0.8v0.8h-0.8zM83.5 663.4h0.8v0.8h-0.8zM85.5 663.2h0.8v0.8h-0.8zM81.3 664.4h0.8v0.8h-0.8zM79.6 662.4h0.8v0.8h-0.8zM82.0 661.8h0.8v0.8h-0.8zM79.3 663.9h0.8v0.8h-0.8zM88.1 663.1h0.8v0.8h-0.8zM79.5 661.6h0.8v0.8h-0.8zM78.1 661.7h0.8v0.8h-0.8zM77.8 662.1h0.8v0.8h-0.8zM78.9 663.8h0.8v0.8h-0.8zM73.0 661.7h0.8v0.8h-0.8zM84.1 661.7h0.8v0.8h-0.8zM78.0 663.0h0.8v0.8h-0.8zM79.6 660.9h0.8v0.8h-0.8zM80.8 663.1h0.8v0.8h-0.8zM71.6 663.5h0.8v0.8h-0.8zM71.5 663.2h0.8v0.8h-0.8zM73.5 662.6h0.8v0.8h-0.8zM79.8 663.7h0.8v0.8h-0.8zM79.7 661.7h0.8v0.8h-0.8zM76.3 662.6h0.8v0.8h-0.8zM78.8 663.5h0.8v0.8h-0.8zM82.1 664.0h0.8v0.8h-0.8zM83.6 662.5h0.8v0.8h-0.8zM79.7 663.1h0.8v0.8h-0.8zM83.9 660.4h0.8v0.8h-0.8zM82.0 661.8h0.8v0.8h-0.8zM81.7 663.4h0.8v0.8h-0.8zM85.0 659.9h0.8v0.8h-0.8zM81.2 662.3h0.8v0.8h-0.8zM77.3 663.5h0.8v0.8h-0.8zM84.6 662.3h0.8v0.8h-0.8zM87.1 664.3h0.8v0.8h-0.8zM81.1 663.4h0.8v0.8h-0.8zM84.4 664.7h0.8v0.8h-0.8zM84.1 663.2h0.8v0.8h-0.8zM80.7 663.3h0.8v0.8h-0.8zM87.9 662.2h0.8v0.8h-0.8zM79.6 660.9h0.8v0.8h-0.8zM92.8 661.7h0.8v0.8h-0.8zM77.6 661.5h0.8v0.8h-0.8zM86.0 662.8h0.8v0.8h-0.8zM89.2 662.2h0.8v0.8h-0.8zM80.7 666.3h0.8v0.8h-0.8zM78.9 662.0h0.8v0.8h-0.8zM83.3 665.7h0.8v0.8h-0.8zM82.3 660.0h0.8v0.8h-0.8zM79.4 662.0h0.8v0.8h-0.8zM83.9 661.8h0.8v0.8h-0.8zM80.8 660.5h0.8v0.8h-0.8zM73.9 662.4h0.8v0.8h-0.8zM88.3 660.9h0.8v0.8h-0.8zM72.3 663.9h0.8v0.8h-0.8zM82.1 663.4h0.8v0.8h-0.8zM79.3 662.6h0.8v0.8h-0.8zM79.7 662.3h0.8v0.8h-0.8zM89.0 661.7h0.8v0.8h-0.8zM78.2 662.3h0.8v0.8h-0.8zM79.3 664.7h0.8v0.8h-0.8zM79.4 662.9h0.8v0.8h-0.8zM74.1 663.1h0.8v0.8h-0.8zM83.4 663.2h0.8v0.8h-0.8zM72.3 661.4h0.8v0.8h-0.8zM79.7 664.6h0.8v0.8h-0.8zM89.8 663.7h0.8v0.8h-0.8zM77.0 662.0h0.8v0.8h-0.8zM84.1 659.6h0.8v0.8h-0.8zM87.1 664.4h0.8v0.8h-0.8zM84.5 661.9h0.8v0.8h-0.8zM82.0 660.1h0.8v0.8h-0.8zM75.5 661.7h0.8v0.8h-0.8zM76.5 664.6h0.8v0.8h-0.8zM82.5 658.9h0.8v0.8h-0.8zM85.9 663.0h0.8v0.8h-0.8zM79.0 661.3h0.8v0.8h-0.8zM90.5 662.6h0.8v0.8h-0.8zM81.5 660.1h0.8v0.8h-0.8zM77.3 663.6h0.8v0.8h-0.8zM80.8 661.7h0.8v0.8h-0.8zM78.7 660.1h0.8v0.8h-0.8zM73.0 660.1h0.8v0.8h-0.8zM81.8 663.6h0.8v0.8h-0.8zM78.5 663.8h0.8v0.8h-0.8zM80.4 657.9h0.8v0.8h-0.8zM88.3 660.8h0.8v0.8h-0.8zM88.0 661.9h0.8v0.8h-0.8zM79.8 661.6h0.8v0.8h-0.8zM75.2 663.1h0.8v0.8h-0.8zM88.5 664.1h0.8v0.8h-0.8zM77.4 663.0h0.8v0.8h-0.8zM85.4 663.1h0.8v0.8h-0.8zM73.7 665.2h0.8v0.8h-0.8zM76.5 661.1h0.8v0.8h-0.8zM80.9 662.6h0.8v0.8h-0.8zM77.4 660.5h0.8v0.8h-0.8zM74.1 662.3h0.8v0.8h-0.8z" fill="#000"/>
<polygon points="71.5,659.6 80.0,659.2 87.0,660.0 88.5,662.0 87.0,664.2 80.0,664.6 71.5,664.4" fill="#000" opacity="0.85" filter="url(#bl0)" stroke-linejoin="round"/>
<path d="M106.8 678.4h0.8v0.8h-0.8zM111.9 678.9h0.8v0.8h-0.8zM111.0 675.0h0.8v0.8h-0.8zM109.5 679.4h0.8v0.8h-0.8zM109.5 681.6h0.8v0.8h-0.8zM112.6 680.9h0.8v0.8h-0.8zM110.1 674.2h0.8v0.8h-0.8zM110.3 674.2h0.8v0.8h-0.8zM109.8 675.8h0.8v0.8h-0.8zM109.4 680.2h0.8v0.8h-0.8zM108.8 673.8h0.8v0.8h-0.8zM112.9 679.8h0.8v0.8h-0.8zM111.6 676.1h0.8v0.8h-0.8zM111.2 681.9h0.8v0.8h-0.8zM110.6 678.8h0.8v0.8h-0.8zM113.0 680.9h0.8v0.8h-0.8zM113.0 675.4h0.8v0.8h-0.8zM107.1 671.5h0.8v0.8h-0.8zM111.4 675.9h0.8v0.8h-0.8zM106.5 680.3h0.8v0.8h-0.8zM113.2 677.5h0.8v0.8h-0.8zM109.2 674.3h0.8v0.8h-0.8zM112.0 679.8h0.8v0.8h-0.8zM110.8 681.9h0.8v0.8h-0.8zM108.9 672.5h0.8v0.8h-0.8zM110.6 677.2h0.8v0.8h-0.8zM110.8 678.8h0.8v0.8h-0.8zM107.5 680.2h0.8v0.8h-0.8zM107.0 676.0h0.8v0.8h-0.8zM111.3 680.4h0.8v0.8h-0.8zM111.0 675.1h0.8v0.8h-0.8zM110.2 672.8h0.8v0.8h-0.8zM110.2 676.4h0.8v0.8h-0.8zM106.8 681.7h0.8v0.8h-0.8zM109.4 678.2h0.8v0.8h-0.8zM113.2 679.0h0.8v0.8h-0.8zM109.7 673.4h0.8v0.8h-0.8zM109.1 674.1h0.8v0.8h-0.8zM110.2 679.6h0.8v0.8h-0.8zM110.9 682.3h0.8v0.8h-0.8zM111.4 678.6h0.8v0.8h-0.8zM104.4 672.7h0.8v0.8h-0.8zM111.1 673.1h0.8v0.8h-0.8zM110.4 675.1h0.8v0.8h-0.8zM110.1 677.0h0.8v0.8h-0.8zM110.0 676.8h0.8v0.8h-0.8zM111.3 678.8h0.8v0.8h-0.8zM109.2 679.3h0.8v0.8h-0.8zM110.7 678.6h0.8v0.8h-0.8zM114.0 684.9h0.8v0.8h-0.8z" fill="#555"/>
<ellipse cx="111.2" cy="678.05" rx="2.1" ry="4.8" transform="rotate(22 111.2 678.05)" fill="#000" opacity="0.85" filter="url(#bl0)"/>
<path d="M121.2 687.2h0.6v0.6h-0.6zM78.8 659.8h0.6v0.6h-0.6zM115.9 652.6h0.6v0.6h-0.6zM79.4 677.0h0.6v0.6h-0.6zM120.2 687.6h0.6v0.6h-0.6zM114.2 664.2h0.6v0.6h-0.6zM108.7 688.1h0.6v0.6h-0.6zM117.0 689.4h0.6v0.6h-0.6z" fill="#777"/>
<text x="123.3" y="689.9" font-size="6.8" font-weight="bold" text-anchor="end" fill="#000" textLength="12.7" lengthAdjust="spacingAndGlyphs">22%</text>
<rect x="70.6" y="695.5" width="53.80000000000001" height="42.5" fill="none" stroke="#333" stroke-width="0.8"/>
<line x1="92.25" y1="695.5" x2="92.25" y2="738" stroke="#222" stroke-width="0.8"/>
<line x1="70.6" y1="713" x2="124.4" y2="713" stroke="#222" stroke-width="0.8"/>
<line x1="70.6" y1="695.5" x2="70.6" y2="738" stroke="#000" stroke-width="1.0"/>
<path d="M70.6 738v1.2M73.6 738v1.2M76.6 738v1.2M79.6 738v1.2M82.6 738v1.2M85.6 738v1.2M88.6 738v1.2M91.6 738v1.2M94.6 738v1.2M97.6 738v1.2M100.6 738v1.2M103.6 738v1.2M106.6 738v1.2M109.6 738v1.2M112.6 738v1.2M115.6 738v1.2M118.6 738v1.2M121.6 738v1.2" stroke="#555" stroke-width="0.4"/>
<path d="M79.7 705.2h0.7v0.7h-0.7zM77.4 706.2h0.7v0.7h-0.7zM78.0 707.4h0.7v0.7h-0.7zM77.5 706.1h0.7v0.7h-0.7zM86.7 706.6h0.7v0.7h-0.7zM80.3 709.5h0.7v0.7h-0.7zM79.4 707.4h0.7v0.7h-0.7zM83.9 707.0h0.7v0.7h-0.7zM79.5 707.3h0.7v0.7h-0.7zM77.2 708.5h0.7v0.7h-0.7zM80.5 709.4h0.7v0.7h-0.7zM81.1 705.7h0.7v0.7h-0.7zM81.1 707.2h0.7v0.7h-0.7zM77.8 708.8h0.7v0.7h-0.7zM81.2 705.4h0.7v0.7h-0.7zM89.1 707.3h0.7v0.7h-0.7zM81.5 706.1h0.7v0.7h-0.7zM74.8 705.2h0.7v0.7h-0.7zM80.4 706.8h0.7v0.7h-0.7zM86.7 707.9h0.7v0.7h-0.7zM80.3 706.7h0.7v0.7h-0.7zM84.0 705.7h0.7v0.7h-0.7zM80.5 708.1h0.7v0.7h-0.7zM75.2 706.0h0.7v0.7h-0.7zM84.9 709.9h0.7v0.7h-0.7zM81.0 709.9h0.7v0.7h-0.7zM81.4 707.3h0.7v0.7h-0.7zM77.1 705.9h0.7v0.7h-0.7zM83.7 706.8h0.7v0.7h-0.7zM75.9 708.0h0.7v0.7h-0.7zM81.5 706.6h0.7v0.7h-0.7zM80.1 707.3h0.7v0.7h-0.7zM79.8 707.3h0.7v0.7h-0.7zM77.0 704.4h0.7v0.7h-0.7zM76.1 709.1h0.7v0.7h-0.7zM77.4 707.7h0.7v0.7h-0.7zM82.1 706.2h0.7v0.7h-0.7zM79.4 707.2h0.7v0.7h-0.7zM80.9 708.3h0.7v0.7h-0.7zM79.4 707.2h0.7v0.7h-0.7zM83.8 707.7h0.7v0.7h-0.7zM71.7 709.1h0.7v0.7h-0.7zM81.3 706.8h0.7v0.7h-0.7zM78.8 706.3h0.7v0.7h-0.7zM79.8 705.6h0.7v0.7h-0.7zM84.1 708.1h0.7v0.7h-0.7zM74.1 708.2h0.7v0.7h-0.7zM71.8 706.8h0.7v0.7h-0.7zM74.1 708.4h0.7v0.7h-0.7zM82.5 705.8h0.7v0.7h-0.7zM80.0 708.2h0.7v0.7h-0.7zM77.3 710.7h0.7v0.7h-0.7zM71.2 709.2h0.7v0.7h-0.7zM86.6 707.1h0.7v0.7h-0.7zM73.4 709.1h0.7v0.7h-0.7zM71.9 707.5h0.7v0.7h-0.7zM76.2 705.8h0.7v0.7h-0.7zM81.8 709.0h0.7v0.7h-0.7zM72.2 708.4h0.7v0.7h-0.7zM79.5 706.6h0.7v0.7h-0.7zM76.4 708.2h0.7v0.7h-0.7zM84.6 707.1h0.7v0.7h-0.7zM81.0 705.0h0.7v0.7h-0.7zM76.4 707.5h0.7v0.7h-0.7zM77.5 707.9h0.7v0.7h-0.7zM74.6 708.3h0.7v0.7h-0.7zM76.1 707.3h0.7v0.7h-0.7zM82.3 709.3h0.7v0.7h-0.7zM73.9 707.4h0.7v0.7h-0.7zM73.9 707.6h0.7v0.7h-0.7zM76.1 705.9h0.7v0.7h-0.7zM84.6 708.0h0.7v0.7h-0.7zM79.0 709.2h0.7v0.7h-0.7zM87.0 707.0h0.7v0.7h-0.7zM74.6 706.5h0.7v0.7h-0.7zM85.1 708.9h0.7v0.7h-0.7zM80.6 708.7h0.7v0.7h-0.7zM75.6 707.0h0.7v0.7h-0.7zM83.1 706.3h0.7v0.7h-0.7zM80.0 707.5h0.7v0.7h-0.7zM74.7 707.8h0.7v0.7h-0.7zM72.6 706.6h0.7v0.7h-0.7z" fill="#555"/>
<path d="M108.7 722.9h0.8v0.8h-0.8zM110.5 719.0h0.8v0.8h-0.8zM110.0 729.6h0.8v0.8h-0.8zM110.6 724.3h0.8v0.8h-0.8zM106.2 718.5h0.8v0.8h-0.8zM112.8 720.0h0.8v0.8h-0.8zM108.7 719.4h0.8v0.8h-0.8zM110.2 724.6h0.8v0.8h-0.8zM107.0 722.7h0.8v0.8h-0.8zM105.2 716.4h0.8v0.8h-0.8zM111.3 719.8h0.8v0.8h-0.8zM108.8 720.1h0.8v0.8h-0.8zM113.7 721.9h0.8v0.8h-0.8zM112.4 730.3h0.8v0.8h-0.8zM109.7 719.8h0.8v0.8h-0.8zM110.4 719.7h0.8v0.8h-0.8zM109.7 719.0h0.8v0.8h-0.8zM107.4 715.8h0.8v0.8h-0.8zM112.3 721.9h0.8v0.8h-0.8zM108.1 724.6h0.8v0.8h-0.8zM110.1 721.5h0.8v0.8h-0.8zM108.9 721.8h0.8v0.8h-0.8zM109.8 721.0h0.8v0.8h-0.8zM110.0 725.0h0.8v0.8h-0.8zM110.0 726.6h0.8v0.8h-0.8zM112.4 720.9h0.8v0.8h-0.8zM108.4 717.4h0.8v0.8h-0.8zM108.9 724.0h0.8v0.8h-0.8zM109.7 720.7h0.8v0.8h-0.8zM110.6 716.0h0.8v0.8h-0.8zM111.0 722.6h0.8v0.8h-0.8zM111.7 722.7h0.8v0.8h-0.8zM112.4 727.4h0.8v0.8h-0.8zM109.8 724.1h0.8v0.8h-0.8zM108.6 719.3h0.8v0.8h-0.8zM108.2 720.6h0.8v0.8h-0.8zM107.9 717.6h0.8v0.8h-0.8zM109.9 717.8h0.8v0.8h-0.8zM111.6 720.6h0.8v0.8h-0.8zM109.9 721.4h0.8v0.8h-0.8zM112.4 726.0h0.8v0.8h-0.8zM109.9 720.5h0.8v0.8h-0.8zM112.1 723.4h0.8v0.8h-0.8zM108.3 721.7h0.8v0.8h-0.8zM111.6 723.4h0.8v0.8h-0.8zM110.5 727.4h0.8v0.8h-0.8zM109.3 724.4h0.8v0.8h-0.8zM113.5 730.2h0.8v0.8h-0.8zM108.0 722.8h0.8v0.8h-0.8zM110.6 730.4h0.8v0.8h-0.8z" fill="#555"/>
<ellipse cx="111.2" cy="723.8" rx="2.1" ry="4.8" transform="rotate(22 111.2 723.8)" fill="#000" opacity="0.85" filter="url(#bl0)"/>
<path d="M77.3 724.4h0.6v0.6h-0.6zM75.3 718.0h0.6v0.6h-0.6zM88.3 734.1h0.6v0.6h-0.6zM93.9 729.8h0.6v0.6h-0.6zM73.5 706.6h0.6v0.6h-0.6zM121.3 711.7h0.6v0.6h-0.6zM73.9 707.5h0.6v0.6h-0.6zM90.1 717.8h0.6v0.6h-0.6z" fill="#777"/>
<text x="123.3" y="735.4" font-size="6.8" font-weight="bold" text-anchor="end" fill="#000" textLength="12.7" lengthAdjust="spacingAndGlyphs">72%</text>
<rect x="70.6" y="740.75" width="53.80000000000001" height="43.0" fill="none" stroke="#333" stroke-width="0.8"/>
<line x1="92.25" y1="740.75" x2="92.25" y2="783.75" stroke="#222" stroke-width="0.8"/>
<line x1="70.6" y1="758.25" x2="124.4" y2="758.25" stroke="#222" stroke-width="0.8"/>
<line x1="70.6" y1="740.75" x2="70.6" y2="783.75" stroke="#000" stroke-width="1.0"/>
<path d="M70.6 783.75v1.2M73.6 783.75v1.2M76.6 783.75v1.2M79.6 783.75v1.2M82.6 783.75v1.2M85.6 783.75v1.2M88.6 783.75v1.2M91.6 783.75v1.2M94.6 783.75v1.2M97.6 783.75v1.2M100.6 783.75v1.2M103.6 783.75v1.2M106.6 783.75v1.2M109.6 783.75v1.2M112.6 783.75v1.2M115.6 783.75v1.2M118.6 783.75v1.2M121.6 783.75v1.2" stroke="#555" stroke-width="0.4"/>
<path d="M75.9 753.5h0.7v0.7h-0.7zM73.4 753.0h0.7v0.7h-0.7zM81.5 754.2h0.7v0.7h-0.7zM73.2 752.0h0.7v0.7h-0.7zM78.7 751.3h0.7v0.7h-0.7zM81.8 755.8h0.7v0.7h-0.7zM82.1 753.5h0.7v0.7h-0.7zM74.5 753.4h0.7v0.7h-0.7zM81.4 755.3h0.7v0.7h-0.7zM77.0 754.3h0.7v0.7h-0.7zM77.0 752.3h0.7v0.7h-0.7zM76.6 753.0h0.7v0.7h-0.7zM71.2 752.2h0.7v0.7h-0.7zM86.2 750.3h0.7v0.7h-0.7zM83.2 753.7h0.7v0.7h-0.7zM76.6 751.7h0.7v0.7h-0.7zM84.5 752.2h0.7v0.7h-0.7zM80.3 752.4h0.7v0.7h-0.7zM73.1 754.0h0.7v0.7h-0.7zM82.1 751.5h0.7v0.7h-0.7zM84.3 751.0h0.7v0.7h-0.7zM72.3 753.8h0.7v0.7h-0.7zM76.6 752.7h0.7v0.7h-0.7zM86.8 751.3h0.7v0.7h-0.7zM81.9 752.2h0.7v0.7h-0.7zM79.2 752.4h0.7v0.7h-0.7zM74.8 752.8h0.7v0.7h-0.7zM74.1 752.7h0.7v0.7h-0.7zM73.9 752.3h0.7v0.7h-0.7zM79.4 750.8h0.7v0.7h-0.7zM78.4 753.6h0.7v0.7h-0.7zM79.3 753.9h0.7v0.7h-0.7zM73.7 753.5h0.7v0.7h-0.7zM80.3 749.1h0.7v0.7h-0.7zM78.7 753.8h0.7v0.7h-0.7zM78.4 752.7h0.7v0.7h-0.7zM78.1 752.5h0.7v0.7h-0.7zM73.5 751.8h0.7v0.7h-0.7zM78.6 753.0h0.7v0.7h-0.7zM81.9 753.3h0.7v0.7h-0.7zM78.4 750.6h0.7v0.7h-0.7zM72.7 754.9h0.7v0.7h-0.7zM80.9 753.6h0.7v0.7h-0.7zM73.4 752.1h0.7v0.7h-0.7zM80.1 751.7h0.7v0.7h-0.7zM84.8 751.7h0.7v0.7h-0.7zM76.6 751.2h0.7v0.7h-0.7zM80.5 754.4h0.7v0.7h-0.7zM79.8 752.7h0.7v0.7h-0.7zM76.9 753.7h0.7v0.7h-0.7zM78.7 755.0h0.7v0.7h-0.7zM77.4 752.2h0.7v0.7h-0.7zM76.1 750.2h0.7v0.7h-0.7zM79.9 752.9h0.7v0.7h-0.7zM73.4 752.3h0.7v0.7h-0.7zM73.6 753.7h0.7v0.7h-0.7zM84.7 751.8h0.7v0.7h-0.7zM78.9 751.3h0.7v0.7h-0.7zM85.4 751.3h0.7v0.7h-0.7zM74.8 752.7h0.7v0.7h-0.7zM74.7 756.2h0.7v0.7h-0.7zM77.8 752.4h0.7v0.7h-0.7zM73.8 752.6h0.7v0.7h-0.7zM75.7 752.1h0.7v0.7h-0.7zM83.7 751.9h0.7v0.7h-0.7zM80.8 751.9h0.7v0.7h-0.7zM83.8 751.7h0.7v0.7h-0.7zM73.9 752.4h0.7v0.7h-0.7zM85.0 752.2h0.7v0.7h-0.7zM74.4 752.5h0.7v0.7h-0.7zM75.2 753.0h0.7v0.7h-0.7zM75.3 753.1h0.7v0.7h-0.7zM83.2 753.3h0.7v0.7h-0.7zM86.3 753.1h0.7v0.7h-0.7zM88.0 754.3h0.7v0.7h-0.7zM77.4 753.7h0.7v0.7h-0.7zM75.0 752.4h0.7v0.7h-0.7zM78.3 751.7h0.7v0.7h-0.7zM80.3 752.6h0.7v0.7h-0.7zM88.7 753.7h0.7v0.7h-0.7zM77.5 751.8h0.7v0.7h-0.7zM76.1 751.8h0.7v0.7h-0.7zM75.0 752.7h0.7v0.7h-0.7zM72.0 752.3h0.7v0.7h-0.7zM81.2 751.9h0.7v0.7h-0.7zM73.1 752.0h0.7v0.7h-0.7zM83.0 751.7h0.7v0.7h-0.7zM86.5 750.5h0.7v0.7h-0.7z" fill="#555"/>
<path d="M108.8 768.8h0.8v0.8h-0.8zM113.1 769.2h0.8v0.8h-0.8zM107.1 764.9h0.8v0.8h-0.8zM108.6 764.6h0.8v0.8h-0.8zM109.6 765.6h0.8v0.8h-0.8zM110.3 768.4h0.8v0.8h-0.8zM109.8 762.1h0.8v0.8h-0.8zM110.0 759.6h0.8v0.8h-0.8zM110.5 766.8h0.8v0.8h-0.8zM108.5 773.3h0.8v0.8h-0.8zM113.7 774.4h0.8v0.8h-0.8zM110.8 766.8h0.8v0.8h-0.8zM111.3 773.7h0.8v0.8h-0.8zM110.2 767.4h0.8v0.8h-0.8zM109.2 767.0h0.8v0.8h-0.8zM112.1 766.3h0.8v0.8h-0.8zM112.5 769.9h0.8v0.8h-0.8zM114.8 771.6h0.8v0.8h-0.8zM112.9 766.7h0.8v0.8h-0.8zM115.2 771.6h0.8v0.8h-0.8zM110.2 772.6h0.8v0.8h-0.8zM110.7 764.4h0.8v0.8h-0.8zM111.6 770.6h0.8v0.8h-0.8zM110.4 766.6h0.8v0.8h-0.8zM107.2 771.1h0.8v0.8h-0.8zM109.5 768.6h0.8v0.8h-0.8zM109.4 765.2h0.8v0.8h-0.8zM111.0 765.7h0.8v0.8h-0.8zM112.3 764.3h0.8v0.8h-0.8zM111.6 772.5h0.8v0.8h-0.8zM109.5 768.1h0.8v0.8h-0.8zM112.1 767.8h0.8v0.8h-0.8zM110.0 767.2h0.8v0.8h-0.8zM115.8 769.2h0.8v0.8h-0.8zM110.1 766.5h0.8v0.8h-0.8zM109.3 764.5h0.8v0.8h-0.8zM109.1 767.7h0.8v0.8h-0.8zM112.7 774.7h0.8v0.8h-0.8zM107.9 763.3h0.8v0.8h-0.8zM110.4 765.0h0.8v0.8h-0.8zM108.9 766.3h0.8v0.8h-0.8zM109.3 764.7h0.8v0.8h-0.8zM110.9 766.0h0.8v0.8h-0.8zM109.9 768.7h0.8v0.8h-0.8zM111.8 769.7h0.8v0.8h-0.8zM112.6 770.0h0.8v0.8h-0.8zM107.5 770.6h0.8v0.8h-0.8zM116.1 774.4h0.8v0.8h-0.8zM113.6 773.7h0.8v0.8h-0.8zM109.6 769.4h0.8v0.8h-0.8z" fill="#555"/>
<ellipse cx="111.2" cy="769.05" rx="2.1" ry="4.8" transform="rotate(22 111.2 769.05)" fill="#000" opacity="0.85" filter="url(#bl0)"/>
<path d="M102.5 756.6h0.6v0.6h-0.6zM72.8 747.8h0.6v0.6h-0.6zM106.0 770.8h0.6v0.6h-0.6zM121.7 752.6h0.6v0.6h-0.6zM110.5 756.1h0.6v0.6h-0.6zM97.8 753.6h0.6v0.6h-0.6zM92.6 778.4h0.6v0.6h-0.6zM84.6 759.3h0.6v0.6h-0.6z" fill="#777"/>
<text x="123.3" y="781.15" font-size="6.8" font-weight="bold" text-anchor="end" fill="#000" textLength="12.7" lengthAdjust="spacingAndGlyphs">79%</text>
<rect x="274" y="650" width="52.75" height="42" fill="none" stroke="#333" stroke-width="0.8"/>
<line x1="294.8" y1="650" x2="294.8" y2="692" stroke="#222" stroke-width="0.8"/>
<line x1="274" y1="666.9" x2="326.75" y2="666.9" stroke="#222" stroke-width="0.8"/>
<line x1="274" y1="650" x2="274" y2="692" stroke="#000" stroke-width="1.0"/>
<path d="M274 692v1.2M277 692v1.2M280 692v1.2M283 692v1.2M286 692v1.2M289 692v1.2M292 692v1.2M295 692v1.2M298 692v1.2M301 692v1.2M304 692v1.2M307 692v1.2M310 692v1.2M313 692v1.2M316 692v1.2M319 692v1.2M322 692v1.2M325 692v1.2" stroke="#555" stroke-width="0.4"/>
<path d="M285.6 661.1h0.8v0.8h-0.8zM283.4 660.3h0.8v0.8h-0.8zM276.3 663.7h0.8v0.8h-0.8zM278.2 660.8h0.8v0.8h-0.8zM283.2 661.9h0.8v0.8h-0.8zM285.7 660.1h0.8v0.8h-0.8zM279.6 660.4h0.8v0.8h-0.8zM281.0 661.5h0.8v0.8h-0.8zM276.2 659.4h0.8v0.8h-0.8zM279.0 660.3h0.8v0.8h-0.8zM281.7 660.3h0.8v0.8h-0.8zM285.4 663.1h0.8v0.8h-0.8zM281.1 661.1h0.8v0.8h-0.8zM290.9 662.1h0.8v0.8h-0.8zM278.2 663.0h0.8v0.8h-0.8zM278.9 660.2h0.8v0.8h-0.8zM280.3 662.7h0.8v0.8h-0.8zM288.9 661.8h0.8v0.8h-0.8zM278.5 659.9h0.8v0.8h-0.8zM283.5 661.5h0.8v0.8h-0.8zM286.9 664.0h0.8v0.8h-0.8zM287.0 662.1h0.8v0.8h-0.8zM278.5 661.2h0.8v0.8h-0.8zM286.2 662.5h0.8v0.8h-0.8zM275.7 661.4h0.8v0.8h-0.8zM279.4 661.7h0.8v0.8h-0.8zM275.0 663.9h0.8v0.8h-0.8zM280.2 662.8h0.8v0.8h-0.8zM286.1 664.9h0.8v0.8h-0.8zM284.5 660.9h0.8v0.8h-0.8zM278.7 663.1h0.8v0.8h-0.8zM289.1 659.8h0.8v0.8h-0.8zM290.4 661.1h0.8v0.8h-0.8zM279.9 661.3h0.8v0.8h-0.8zM283.8 661.6h0.8v0.8h-0.8zM280.7 660.6h0.8v0.8h-0.8zM288.1 662.4h0.8v0.8h-0.8zM280.7 664.8h0.8v0.8h-0.8zM284.1 663.8h0.8v0.8h-0.8zM279.6 662.1h0.8v0.8h-0.8zM280.1 663.1h0.8v0.8h-0.8zM282.3 659.5h0.8v0.8h-0.8zM283.8 661.6h0.8v0.8h-0.8zM282.2 663.2h0.8v0.8h-0.8zM279.5 662.8h0.8v0.8h-0.8zM281.0 661.8h0.8v0.8h-0.8zM278.4 661.7h0.8v0.8h-0.8zM279.4 663.0h0.8v0.8h-0.8zM280.5 660.4h0.8v0.8h-0.8zM284.8 661.8h0.8v0.8h-0.8zM283.7 663.7h0.8v0.8h-0.8zM282.0 659.7h0.8v0.8h-0.8zM275.0 664.9h0.8v0.8h-0.8zM280.5 659.4h0.8v0.8h-0.8zM278.5 663.4h0.8v0.8h-0.8zM275.1 661.2h0.8v0.8h-0.8zM286.4 659.6h0.8v0.8h-0.8zM284.3 663.9h0.8v0.8h-0.8zM276.0 661.7h0.8v0.8h-0.8zM289.2 663.9h0.8v0.8h-0.8zM289.0 661.7h0.8v0.8h-0.8zM279.1 661.6h0.8v0.8h-0.8zM279.1 663.0h0.8v0.8h-0.8zM285.1 662.6h0.8v0.8h-0.8zM277.6 663.0h0.8v0.8h-0.8zM283.4 662.2h0.8v0.8h-0.8zM287.1 661.4h0.8v0.8h-0.8zM281.6 663.4h0.8v0.8h-0.8zM277.2 663.1h0.8v0.8h-0.8zM284.6 664.0h0.8v0.8h-0.8zM287.4 661.1h0.8v0.8h-0.8zM289.9 661.3h0.8v0.8h-0.8zM275.1 661.5h0.8v0.8h-0.8zM279.3 660.7h0.8v0.8h-0.8zM285.9 662.6h0.8v0.8h-0.8zM284.1 660.0h0.8v0.8h-0.8zM290.1 662.6h0.8v0.8h-0.8zM286.8 662.4h0.8v0.8h-0.8zM282.9 663.0h0.8v0.8h-0.8zM281.8 663.8h0.8v0.8h-0.8zM278.5 659.1h0.8v0.8h-0.8zM279.2 661.9h0.8v0.8h-0.8zM283.0 662.0h0.8v0.8h-0.8zM283.2 662.5h0.8v0.8h-0.8zM280.2 662.7h0.8v0.8h-0.8zM283.8 660.8h0.8v0.8h-0.8zM283.5 663.4h0.8v0.8h-0.8zM286.6 662.3h0.8v0.8h-0.8zM286.8 661.1h0.8v0.8h-0.8zM278.7 663.8h0.8v0.8h-0.8zM275.1 661.9h0.8v0.8h-0.8zM275.8 660.2h0.8v0.8h-0.8zM291.6 659.5h0.8v0.8h-0.8zM289.9 661.3h0.8v0.8h-0.8zM277.3 659.6h0.8v0.8h-0.8zM282.1 662.8h0.8v0.8h-0.8zM283.9 660.7h0.8v0.8h-0.8zM289.2 662.2h0.8v0.8h-0.8zM283.7 662.7h0.8v0.8h-0.8zM283.9 661.5h0.8v0.8h-0.8zM282.8 660.9h0.8v0.8h-0.8zM282.3 660.6h0.8v0.8h-0.8zM280.3 661.0h0.8v0.8h-0.8zM279.6 661.2h0.8v0.8h-0.8zM281.3 664.3h0.8v0.8h-0.8zM284.0 663.1h0.8v0.8h-0.8zM286.0 663.1h0.8v0.8h-0.8zM283.1 663.1h0.8v0.8h-0.8zM286.4 661.7h0.8v0.8h-0.8zM279.7 661.9h0.8v0.8h-0.8zM280.8 662.6h0.8v0.8h-0.8zM278.9 661.3h0.8v0.8h-0.8zM282.2 662.6h0.8v0.8h-0.8zM280.6 659.9h0.8v0.8h-0.8zM279.9 663.1h0.8v0.8h-0.8zM280.0 663.6h0.8v0.8h-0.8zM278.6 661.6h0.8v0.8h-0.8zM285.0 663.5h0.8v0.8h-0.8zM279.6 663.9h0.8v0.8h-0.8zM282.0 662.5h0.8v0.8h-0.8zM289.9 663.1h0.8v0.8h-0.8zM280.0 661.8h0.8v0.8h-0.8zM276.6 663.5h0.8v0.8h-0.8zM282.8 664.5h0.8v0.8h-0.8zM287.1 662.0h0.8v0.8h-0.8zM278.1 661.5h0.8v0.8h-0.8zM287.3 661.8h0.8v0.8h-0.8zM286.7 663.6h0.8v0.8h-0.8zM288.4 662.3h0.8v0.8h-0.8zM284.6 660.2h0.8v0.8h-0.8zM282.8 662.0h0.8v0.8h-0.8zM285.7 659.5h0.8v0.8h-0.8zM279.6 665.1h0.8v0.8h-0.8zM281.9 661.3h0.8v0.8h-0.8zM281.6 661.7h0.8v0.8h-0.8zM279.5 662.8h0.8v0.8h-0.8zM282.5 663.5h0.8v0.8h-0.8zM293.4 662.9h0.8v0.8h-0.8zM282.9 664.0h0.8v0.8h-0.8z" fill="#000"/>
<polygon points="274.5,660.5 280.0,660.0 286.0,660.5 288.0,662.5 286.0,664.3 280.0,664.5 274.5,664.3" fill="#000" opacity="0.9" filter="url(#bl0)" stroke-linejoin="round"/>
<path d="M299.3 689.4h0.8v0.8h-0.8zM300.2 679.5h0.8v0.8h-0.8zM304.3 674.3h0.8v0.8h-0.8zM301.9 681.5h0.8v0.8h-0.8zM305.5 673.6h0.8v0.8h-0.8zM293.8 686.7h0.8v0.8h-0.8zM298.4 683.6h0.8v0.8h-0.8zM305.7 682.7h0.8v0.8h-0.8zM302.2 678.2h0.8v0.8h-0.8zM314.7 675.5h0.8v0.8h-0.8zM300.6 675.8h0.8v0.8h-0.8zM303.2 687.5h0.8v0.8h-0.8zM306.5 675.3h0.8v0.8h-0.8zM299.3 679.2h0.8v0.8h-0.8zM304.0 681.2h0.8v0.8h-0.8zM305.8 684.0h0.8v0.8h-0.8zM299.5 675.2h0.8v0.8h-0.8zM303.8 682.6h0.8v0.8h-0.8zM302.2 681.8h0.8v0.8h-0.8zM303.8 685.0h0.8v0.8h-0.8zM303.3 678.3h0.8v0.8h-0.8zM305.8 683.5h0.8v0.8h-0.8zM301.8 680.4h0.8v0.8h-0.8zM301.6 676.2h0.8v0.8h-0.8zM312.5 674.2h0.8v0.8h-0.8zM303.0 679.0h0.8v0.8h-0.8zM301.2 680.5h0.8v0.8h-0.8zM303.8 681.7h0.8v0.8h-0.8zM302.2 674.8h0.8v0.8h-0.8zM303.6 683.1h0.8v0.8h-0.8zM308.4 677.9h0.8v0.8h-0.8zM303.1 677.2h0.8v0.8h-0.8zM309.2 675.5h0.8v0.8h-0.8zM302.3 680.4h0.8v0.8h-0.8zM303.3 680.6h0.8v0.8h-0.8zM305.5 686.6h0.8v0.8h-0.8zM305.8 681.1h0.8v0.8h-0.8zM305.9 683.0h0.8v0.8h-0.8zM303.0 680.0h0.8v0.8h-0.8zM302.8 679.7h0.8v0.8h-0.8zM302.7 683.8h0.8v0.8h-0.8zM307.8 678.4h0.8v0.8h-0.8zM303.0 683.9h0.8v0.8h-0.8zM303.4 682.6h0.8v0.8h-0.8zM301.8 686.8h0.8v0.8h-0.8zM302.5 683.0h0.8v0.8h-0.8zM310.0 679.4h0.8v0.8h-0.8zM303.2 683.5h0.8v0.8h-0.8zM309.3 668.6h0.8v0.8h-0.8zM302.7 679.9h0.8v0.8h-0.8zM307.1 672.5h0.8v0.8h-0.8zM306.9 679.2h0.8v0.8h-0.8zM306.0 674.9h0.8v0.8h-0.8zM308.5 689.3h0.8v0.8h-0.8zM304.5 682.3h0.8v0.8h-0.8zM300.5 669.4h0.8v0.8h-0.8zM303.8 679.1h0.8v0.8h-0.8zM306.4 679.4h0.8v0.8h-0.8zM299.5 672.3h0.8v0.8h-0.8zM307.9 682.6h0.8v0.8h-0.8zM303.6 679.1h0.8v0.8h-0.8zM306.5 676.8h0.8v0.8h-0.8zM299.6 687.0h0.8v0.8h-0.8zM299.3 680.1h0.8v0.8h-0.8zM308.6 680.3h0.8v0.8h-0.8zM307.9 684.9h0.8v0.8h-0.8zM304.8 673.5h0.8v0.8h-0.8zM298.1 672.9h0.8v0.8h-0.8zM306.7 672.9h0.8v0.8h-0.8zM303.6 680.6h0.8v0.8h-0.8zM305.3 679.4h0.8v0.8h-0.8zM308.5 679.7h0.8v0.8h-0.8zM307.8 678.2h0.8v0.8h-0.8zM304.2 680.6h0.8v0.8h-0.8zM305.8 682.7h0.8v0.8h-0.8zM302.4 683.3h0.8v0.8h-0.8zM313.7 664.8h0.8v0.8h-0.8zM306.3 678.6h0.8v0.8h-0.8zM303.3 677.7h0.8v0.8h-0.8zM300.0 682.6h0.8v0.8h-0.8zM301.6 687.7h0.8v0.8h-0.8zM305.2 687.0h0.8v0.8h-0.8zM304.5 673.7h0.8v0.8h-0.8zM305.6 680.3h0.8v0.8h-0.8zM307.1 668.6h0.8v0.8h-0.8zM304.3 686.1h0.8v0.8h-0.8zM304.4 671.1h0.8v0.8h-0.8zM305.6 681.5h0.8v0.8h-0.8zM309.0 680.5h0.8v0.8h-0.8zM300.6 686.4h0.8v0.8h-0.8zM306.5 684.2h0.8v0.8h-0.8zM303.5 684.7h0.8v0.8h-0.8zM296.8 677.0h0.8v0.8h-0.8zM306.2 686.1h0.8v0.8h-0.8zM306.1 679.9h0.8v0.8h-0.8zM303.5 678.4h0.8v0.8h-0.8zM308.0 670.8h0.8v0.8h-0.8zM305.0 686.1h0.8v0.8h-0.8zM298.3 672.6h0.8v0.8h-0.8zM300.6 681.3h0.8v0.8h-0.8zM306.0 676.8h0.8v0.8h-0.8zM306.8 676.7h0.8v0.8h-0.8zM298.4 686.5h0.8v0.8h-0.8zM304.1 677.1h0.8v0.8h-0.8zM298.3 671.3h0.8v0.8h-0.8zM300.4 684.5h0.8v0.8h-0.8zM300.9 675.4h0.8v0.8h-0.8zM301.4 683.6h0.8v0.8h-0.8zM306.2 684.5h0.8v0.8h-0.8zM301.0 687.7h0.8v0.8h-0.8zM309.7 679.7h0.8v0.8h-0.8zM307.8 685.8h0.8v0.8h-0.8zM305.5 675.7h0.8v0.8h-0.8zM306.0 680.9h0.8v0.8h-0.8zM306.5 690.4h0.8v0.8h-0.8zM304.3 678.9h0.8v0.8h-0.8zM308.5 678.5h0.8v0.8h-0.8zM299.7 683.1h0.8v0.8h-0.8zM307.6 671.6h0.8v0.8h-0.8zM310.1 686.0h0.8v0.8h-0.8zM300.2 682.6h0.8v0.8h-0.8zM305.5 681.9h0.8v0.8h-0.8zM305.1 682.7h0.8v0.8h-0.8zM301.4 680.0h0.8v0.8h-0.8zM303.8 682.0h0.8v0.8h-0.8zM311.0 681.2h0.8v0.8h-0.8zM300.4 683.0h0.8v0.8h-0.8zM310.8 686.3h0.8v0.8h-0.8zM310.1 678.1h0.8v0.8h-0.8zM306.8 679.8h0.8v0.8h-0.8zM300.2 681.8h0.8v0.8h-0.8zM302.7 675.0h0.8v0.8h-0.8zM303.6 678.5h0.8v0.8h-0.8zM303.2 683.5h0.8v0.8h-0.8zM300.4 681.8h0.8v0.8h-0.8zM305.4 680.8h0.8v0.8h-0.8zM305.1 680.0h0.8v0.8h-0.8zM298.6 673.2h0.8v0.8h-0.8zM302.1 679.1h0.8v0.8h-0.8zM300.9 677.9h0.8v0.8h-0.8zM302.7 688.0h0.8v0.8h-0.8zM303.8 683.7h0.8v0.8h-0.8zM306.5 679.8h0.8v0.8h-0.8zM307.5 676.2h0.8v0.8h-0.8zM303.5 675.2h0.8v0.8h-0.8zM303.7 684.0h0.8v0.8h-0.8zM301.0 680.8h0.8v0.8h-0.8zM303.2 680.1h0.8v0.8h-0.8zM302.7 681.8h0.8v0.8h-0.8zM299.7 682.3h0.8v0.8h-0.8zM310.0 673.0h0.8v0.8h-0.8zM307.0 675.9h0.8v0.8h-0.8zM302.1 688.6h0.8v0.8h-0.8zM306.5 681.8h0.8v0.8h-0.8zM309.9 680.6h0.8v0.8h-0.8zM303.8 670.2h0.8v0.8h-0.8zM306.6 686.4h0.8v0.8h-0.8zM302.6 675.4h0.8v0.8h-0.8zM298.1 684.9h0.8v0.8h-0.8z" fill="#888"/>
<polygon points="314.5,667.4 317.2,670.0 318.6,674.1 317.9,678.8 315.9,682.2 313.2,684.5 309.2,685.5 305.8,684.2 304.8,682.2 306.5,678.8 308.5,676.1 311.2,672.7 312.5,669.4" fill="#000" opacity="0.95" filter="url(#bl0)" stroke-linejoin="round"/>
<path d="M298.2 687.9h0.6v0.6h-0.6zM320.3 666.0h0.6v0.6h-0.6zM301.4 668.3h0.6v0.6h-0.6zM319.2 684.5h0.6v0.6h-0.6zM294.6 666.0h0.6v0.6h-0.6zM290.5 677.2h0.6v0.6h-0.6zM307.6 675.6h0.6v0.6h-0.6zM300.5 677.5h0.6v0.6h-0.6zM275.3 670.2h0.6v0.6h-0.6zM309.0 679.7h0.6v0.6h-0.6zM314.9 660.6h0.6v0.6h-0.6zM320.4 688.8h0.6v0.6h-0.6zM305.4 683.2h0.6v0.6h-0.6zM284.6 659.1h0.6v0.6h-0.6zM285.7 672.3h0.6v0.6h-0.6zM318.8 665.3h0.6v0.6h-0.6zM320.7 683.6h0.6v0.6h-0.6zM277.2 653.1h0.6v0.6h-0.6zM323.9 671.0h0.6v0.6h-0.6zM313.2 684.7h0.6v0.6h-0.6z" fill="#666"/>
<text x="331.3" y="689.6" font-size="6.8" font-weight="bold" text-anchor="end" fill="#000" textLength="18.5" lengthAdjust="spacingAndGlyphs">96.0%</text>
<rect x="274" y="696.25" width="52.75" height="42.5" fill="none" stroke="#333" stroke-width="0.8"/>
<line x1="294.8" y1="696.25" x2="294.8" y2="738.75" stroke="#222" stroke-width="0.8"/>
<line x1="274" y1="712.5" x2="326.75" y2="712.5" stroke="#222" stroke-width="0.8"/>
<line x1="274" y1="696.25" x2="274" y2="738.75" stroke="#000" stroke-width="1.0"/>
<path d="M274 738.75v1.2M277 738.75v1.2M280 738.75v1.2M283 738.75v1.2M286 738.75v1.2M289 738.75v1.2M292 738.75v1.2M295 738.75v1.2M298 738.75v1.2M301 738.75v1.2M304 738.75v1.2M307 738.75v1.2M310 738.75v1.2M313 738.75v1.2M316 738.75v1.2M319 738.75v1.2M322 738.75v1.2M325 738.75v1.2" stroke="#555" stroke-width="0.4"/>
<path d="M279.8 707.2h0.7v0.7h-0.7zM286.2 704.8h0.7v0.7h-0.7zM275.3 708.1h0.7v0.7h-0.7zM289.4 707.2h0.7v0.7h-0.7zM278.6 705.9h0.7v0.7h-0.7zM282.1 708.4h0.7v0.7h-0.7zM283.3 705.8h0.7v0.7h-0.7zM277.3 706.8h0.7v0.7h-0.7zM281.8 707.8h0.7v0.7h-0.7zM278.5 708.4h0.7v0.7h-0.7zM283.0 706.6h0.7v0.7h-0.7zM280.9 709.1h0.7v0.7h-0.7zM282.7 706.6h0.7v0.7h-0.7zM278.8 708.3h0.7v0.7h-0.7zM281.6 707.2h0.7v0.7h-0.7zM277.2 706.7h0.7v0.7h-0.7zM280.8 709.3h0.7v0.7h-0.7zM274.9 707.2h0.7v0.7h-0.7zM276.3 705.2h0.7v0.7h-0.7zM289.3 705.4h0.7v0.7h-0.7zM285.0 708.4h0.7v0.7h-0.7zM282.0 707.1h0.7v0.7h-0.7zM279.9 707.7h0.7v0.7h-0.7zM281.7 707.8h0.7v0.7h-0.7zM282.7 704.9h0.7v0.7h-0.7zM274.9 707.0h0.7v0.7h-0.7zM279.9 705.3h0.7v0.7h-0.7zM283.9 707.7h0.7v0.7h-0.7zM281.3 708.4h0.7v0.7h-0.7zM282.6 706.9h0.7v0.7h-0.7zM277.7 708.5h0.7v0.7h-0.7zM278.2 706.1h0.7v0.7h-0.7zM276.3 707.9h0.7v0.7h-0.7zM281.2 706.8h0.7v0.7h-0.7zM283.9 705.9h0.7v0.7h-0.7zM283.4 706.4h0.7v0.7h-0.7zM279.5 706.8h0.7v0.7h-0.7zM281.0 708.9h0.7v0.7h-0.7zM277.7 708.4h0.7v0.7h-0.7zM285.1 706.8h0.7v0.7h-0.7zM277.5 705.5h0.7v0.7h-0.7zM279.8 710.8h0.7v0.7h-0.7zM279.4 707.2h0.7v0.7h-0.7zM276.3 707.6h0.7v0.7h-0.7zM281.2 708.3h0.7v0.7h-0.7zM288.5 708.4h0.7v0.7h-0.7zM276.7 706.9h0.7v0.7h-0.7zM274.9 706.5h0.7v0.7h-0.7zM274.4 708.5h0.7v0.7h-0.7zM280.6 705.0h0.7v0.7h-0.7zM283.3 708.7h0.7v0.7h-0.7zM287.3 706.7h0.7v0.7h-0.7zM283.1 707.3h0.7v0.7h-0.7zM285.9 707.0h0.7v0.7h-0.7zM284.6 705.7h0.7v0.7h-0.7zM277.4 705.6h0.7v0.7h-0.7zM279.4 705.4h0.7v0.7h-0.7zM280.7 706.3h0.7v0.7h-0.7z" fill="#555"/>
<path d="M299.2 728.5h0.8v0.8h-0.8zM308.1 726.2h0.8v0.8h-0.8zM305.3 724.1h0.8v0.8h-0.8zM303.4 718.9h0.8v0.8h-0.8zM311.0 715.7h0.8v0.8h-0.8zM300.9 722.3h0.8v0.8h-0.8zM300.3 727.7h0.8v0.8h-0.8zM301.5 724.2h0.8v0.8h-0.8zM305.3 719.8h0.8v0.8h-0.8zM300.1 729.0h0.8v0.8h-0.8zM302.3 718.3h0.8v0.8h-0.8zM306.2 718.5h0.8v0.8h-0.8zM304.0 725.6h0.8v0.8h-0.8zM305.1 726.3h0.8v0.8h-0.8zM302.6 726.0h0.8v0.8h-0.8zM298.2 728.9h0.8v0.8h-0.8zM297.4 731.2h0.8v0.8h-0.8zM301.4 730.3h0.8v0.8h-0.8zM303.8 727.8h0.8v0.8h-0.8zM302.4 725.1h0.8v0.8h-0.8zM305.7 727.7h0.8v0.8h-0.8zM302.7 714.2h0.8v0.8h-0.8zM304.5 728.4h0.8v0.8h-0.8zM308.5 722.7h0.8v0.8h-0.8zM307.8 708.6h0.8v0.8h-0.8zM302.6 723.3h0.8v0.8h-0.8zM311.3 721.6h0.8v0.8h-0.8zM313.2 722.2h0.8v0.8h-0.8zM302.5 723.6h0.8v0.8h-0.8zM301.1 727.2h0.8v0.8h-0.8zM304.5 721.0h0.8v0.8h-0.8zM310.3 727.7h0.8v0.8h-0.8zM302.9 728.2h0.8v0.8h-0.8zM303.4 723.6h0.8v0.8h-0.8zM301.0 723.8h0.8v0.8h-0.8zM310.3 730.5h0.8v0.8h-0.8zM303.6 724.3h0.8v0.8h-0.8zM308.1 720.3h0.8v0.8h-0.8zM306.7 717.9h0.8v0.8h-0.8zM305.5 728.2h0.8v0.8h-0.8zM307.0 731.3h0.8v0.8h-0.8zM308.3 722.0h0.8v0.8h-0.8zM299.2 717.2h0.8v0.8h-0.8zM300.3 726.3h0.8v0.8h-0.8zM305.6 726.8h0.8v0.8h-0.8zM304.5 724.5h0.8v0.8h-0.8zM305.4 730.0h0.8v0.8h-0.8zM304.3 729.6h0.8v0.8h-0.8zM309.1 724.5h0.8v0.8h-0.8zM306.6 726.1h0.8v0.8h-0.8zM308.3 727.8h0.8v0.8h-0.8zM304.9 730.5h0.8v0.8h-0.8zM308.4 724.9h0.8v0.8h-0.8zM299.8 735.0h0.8v0.8h-0.8zM305.0 728.5h0.8v0.8h-0.8zM304.8 724.1h0.8v0.8h-0.8zM300.0 727.3h0.8v0.8h-0.8zM303.5 728.2h0.8v0.8h-0.8zM303.1 725.8h0.8v0.8h-0.8zM306.9 724.6h0.8v0.8h-0.8zM302.1 728.6h0.8v0.8h-0.8zM303.1 721.5h0.8v0.8h-0.8zM300.4 723.3h0.8v0.8h-0.8zM302.0 716.6h0.8v0.8h-0.8zM299.0 724.9h0.8v0.8h-0.8zM302.7 725.4h0.8v0.8h-0.8zM306.2 720.1h0.8v0.8h-0.8zM309.6 725.1h0.8v0.8h-0.8zM295.5 728.7h0.8v0.8h-0.8zM300.6 729.2h0.8v0.8h-0.8zM310.4 717.0h0.8v0.8h-0.8zM304.5 720.7h0.8v0.8h-0.8zM298.8 730.4h0.8v0.8h-0.8zM307.1 721.4h0.8v0.8h-0.8zM302.7 720.7h0.8v0.8h-0.8zM301.7 725.4h0.8v0.8h-0.8zM303.5 728.9h0.8v0.8h-0.8zM304.8 725.1h0.8v0.8h-0.8zM304.5 728.2h0.8v0.8h-0.8zM306.1 718.8h0.8v0.8h-0.8zM303.4 727.6h0.8v0.8h-0.8zM301.3 720.2h0.8v0.8h-0.8zM300.5 721.6h0.8v0.8h-0.8zM303.3 725.2h0.8v0.8h-0.8zM306.0 716.4h0.8v0.8h-0.8zM305.7 728.5h0.8v0.8h-0.8zM313.5 720.6h0.8v0.8h-0.8zM306.7 716.9h0.8v0.8h-0.8zM307.9 731.3h0.8v0.8h-0.8zM305.0 722.5h0.8v0.8h-0.8zM309.5 719.3h0.8v0.8h-0.8zM310.5 718.4h0.8v0.8h-0.8zM305.8 726.3h0.8v0.8h-0.8zM304.7 722.7h0.8v0.8h-0.8zM300.4 733.1h0.8v0.8h-0.8zM305.7 721.0h0.8v0.8h-0.8zM299.4 730.7h0.8v0.8h-0.8zM308.9 723.4h0.8v0.8h-0.8zM302.5 728.7h0.8v0.8h-0.8zM305.9 730.2h0.8v0.8h-0.8zM303.5 722.7h0.8v0.8h-0.8zM303.8 719.7h0.8v0.8h-0.8zM300.2 724.7h0.8v0.8h-0.8zM303.5 726.1h0.8v0.8h-0.8zM299.0 725.9h0.8v0.8h-0.8zM311.1 715.3h0.8v0.8h-0.8zM302.8 723.9h0.8v0.8h-0.8zM306.3 721.2h0.8v0.8h-0.8zM312.2 720.0h0.8v0.8h-0.8zM305.0 725.9h0.8v0.8h-0.8zM309.0 725.5h0.8v0.8h-0.8zM299.1 727.7h0.8v0.8h-0.8zM301.9 731.5h0.8v0.8h-0.8zM306.0 726.4h0.8v0.8h-0.8zM303.7 722.5h0.8v0.8h-0.8zM307.8 728.1h0.8v0.8h-0.8zM312.2 721.3h0.8v0.8h-0.8zM308.1 719.3h0.8v0.8h-0.8zM306.0 724.8h0.8v0.8h-0.8zM300.2 724.3h0.8v0.8h-0.8zM304.5 724.4h0.8v0.8h-0.8zM303.0 724.7h0.8v0.8h-0.8zM304.0 723.6h0.8v0.8h-0.8zM298.0 728.4h0.8v0.8h-0.8zM310.2 722.4h0.8v0.8h-0.8zM304.6 721.7h0.8v0.8h-0.8zM301.2 722.5h0.8v0.8h-0.8zM299.3 727.5h0.8v0.8h-0.8zM300.8 728.2h0.8v0.8h-0.8zM304.4 719.2h0.8v0.8h-0.8zM311.9 720.9h0.8v0.8h-0.8zM304.5 723.3h0.8v0.8h-0.8zM299.9 727.0h0.8v0.8h-0.8zM305.9 715.6h0.8v0.8h-0.8zM304.2 726.0h0.8v0.8h-0.8zM310.5 714.4h0.8v0.8h-0.8zM301.5 731.4h0.8v0.8h-0.8zM301.4 729.3h0.8v0.8h-0.8zM300.5 721.9h0.8v0.8h-0.8zM306.7 722.1h0.8v0.8h-0.8zM300.2 727.1h0.8v0.8h-0.8zM308.2 723.4h0.8v0.8h-0.8zM312.0 716.8h0.8v0.8h-0.8zM309.9 724.5h0.8v0.8h-0.8zM307.1 727.5h0.8v0.8h-0.8zM303.0 724.6h0.8v0.8h-0.8zM299.3 724.2h0.8v0.8h-0.8zM301.5 730.8h0.8v0.8h-0.8zM302.4 727.6h0.8v0.8h-0.8zM303.7 735.8h0.8v0.8h-0.8zM301.1 722.5h0.8v0.8h-0.8zM306.3 716.9h0.8v0.8h-0.8zM304.1 721.1h0.8v0.8h-0.8zM301.0 725.7h0.8v0.8h-0.8zM311.3 726.5h0.8v0.8h-0.8zM307.0 726.4h0.8v0.8h-0.8zM305.8 721.8h0.8v0.8h-0.8zM304.6 724.8h0.8v0.8h-0.8zM306.2 728.4h0.8v0.8h-0.8z" fill="#888"/>
<polygon points="314.5,713.0 317.2,715.6 318.6,719.7 317.9,724.4 315.9,727.8 313.2,730.1 309.2,731.1 305.8,729.8 304.8,727.8 306.5,724.4 308.5,721.7 311.2,718.3 312.5,715.0" fill="#000" opacity="0.95" filter="url(#bl0)" stroke-linejoin="round"/>
<path d="M306.1 728.8h0.6v0.6h-0.6zM318.9 729.8h0.6v0.6h-0.6zM284.1 736.4h0.6v0.6h-0.6zM277.3 716.2h0.6v0.6h-0.6zM292.1 699.2h0.6v0.6h-0.6zM285.0 736.5h0.6v0.6h-0.6zM322.5 711.5h0.6v0.6h-0.6zM324.0 726.7h0.6v0.6h-0.6zM276.6 721.5h0.6v0.6h-0.6zM285.0 709.0h0.6v0.6h-0.6zM310.2 706.2h0.6v0.6h-0.6zM292.3 698.5h0.6v0.6h-0.6zM290.7 709.9h0.6v0.6h-0.6zM280.6 702.0h0.6v0.6h-0.6zM294.9 701.4h0.6v0.6h-0.6zM320.9 708.2h0.6v0.6h-0.6zM293.0 700.7h0.6v0.6h-0.6zM314.8 705.5h0.6v0.6h-0.6zM278.7 712.5h0.6v0.6h-0.6zM319.7 733.6h0.6v0.6h-0.6z" fill="#666"/>
<text x="331.3" y="736.35" font-size="6.8" font-weight="bold" text-anchor="end" fill="#000" textLength="18.5" lengthAdjust="spacingAndGlyphs">99.6%</text>
<rect x="274" y="741.25" width="52.75" height="42.5" fill="none" stroke="#333" stroke-width="0.8"/>
<line x1="294.8" y1="741.25" x2="294.8" y2="783.75" stroke="#222" stroke-width="0.8"/>
<line x1="274" y1="758" x2="326.75" y2="758" stroke="#222" stroke-width="0.8"/>
<line x1="274" y1="741.25" x2="274" y2="783.75" stroke="#000" stroke-width="1.0"/>
<path d="M274 783.75v1.2M277 783.75v1.2M280 783.75v1.2M283 783.75v1.2M286 783.75v1.2M289 783.75v1.2M292 783.75v1.2M295 783.75v1.2M298 783.75v1.2M301 783.75v1.2M304 783.75v1.2M307 783.75v1.2M310 783.75v1.2M313 783.75v1.2M316 783.75v1.2M319 783.75v1.2M322 783.75v1.2M325 783.75v1.2" stroke="#555" stroke-width="0.4"/>
<path d="M274.8 752.9h0.7v0.7h-0.7zM287.7 753.7h0.7v0.7h-0.7zM280.1 751.5h0.7v0.7h-0.7zM281.3 751.9h0.7v0.7h-0.7zM276.7 752.6h0.7v0.7h-0.7zM277.2 752.1h0.7v0.7h-0.7zM277.0 752.2h0.7v0.7h-0.7zM282.0 752.6h0.7v0.7h-0.7zM281.0 751.1h0.7v0.7h-0.7zM279.9 753.3h0.7v0.7h-0.7zM274.4 753.7h0.7v0.7h-0.7zM279.5 751.1h0.7v0.7h-0.7zM277.6 751.9h0.7v0.7h-0.7zM285.4 751.9h0.7v0.7h-0.7zM281.3 751.3h0.7v0.7h-0.7zM274.5 751.5h0.7v0.7h-0.7zM279.0 754.8h0.7v0.7h-0.7zM278.0 753.9h0.7v0.7h-0.7zM282.5 753.5h0.7v0.7h-0.7zM280.7 752.3h0.7v0.7h-0.7zM281.9 754.0h0.7v0.7h-0.7zM276.7 750.8h0.7v0.7h-0.7zM277.5 750.6h0.7v0.7h-0.7zM278.2 752.0h0.7v0.7h-0.7zM276.9 752.2h0.7v0.7h-0.7zM284.8 752.6h0.7v0.7h-0.7zM284.4 752.3h0.7v0.7h-0.7zM280.4 750.7h0.7v0.7h-0.7zM284.9 752.9h0.7v0.7h-0.7zM285.8 752.4h0.7v0.7h-0.7zM277.4 755.2h0.7v0.7h-0.7zM275.5 749.9h0.7v0.7h-0.7zM283.1 751.1h0.7v0.7h-0.7zM275.2 752.8h0.7v0.7h-0.7zM276.7 754.8h0.7v0.7h-0.7zM288.4 755.3h0.7v0.7h-0.7zM277.7 753.7h0.7v0.7h-0.7zM277.3 751.8h0.7v0.7h-0.7zM279.0 752.2h0.7v0.7h-0.7zM281.3 752.1h0.7v0.7h-0.7zM285.5 750.7h0.7v0.7h-0.7zM281.5 750.4h0.7v0.7h-0.7zM282.0 754.1h0.7v0.7h-0.7zM286.1 753.3h0.7v0.7h-0.7zM280.6 751.6h0.7v0.7h-0.7zM278.4 752.7h0.7v0.7h-0.7zM276.9 750.8h0.7v0.7h-0.7zM285.1 753.2h0.7v0.7h-0.7zM281.8 751.9h0.7v0.7h-0.7zM282.7 751.9h0.7v0.7h-0.7zM281.7 752.6h0.7v0.7h-0.7zM280.1 751.7h0.7v0.7h-0.7zM282.7 751.4h0.7v0.7h-0.7zM286.4 753.7h0.7v0.7h-0.7zM279.0 753.1h0.7v0.7h-0.7zM283.4 752.5h0.7v0.7h-0.7zM275.5 752.9h0.7v0.7h-0.7zM278.6 752.2h0.7v0.7h-0.7z" fill="#555"/>
<path d="M311.3 768.3h0.8v0.8h-0.8zM299.0 776.1h0.8v0.8h-0.8zM307.7 766.0h0.8v0.8h-0.8zM303.9 768.0h0.8v0.8h-0.8zM305.0 775.6h0.8v0.8h-0.8zM313.3 766.4h0.8v0.8h-0.8zM304.6 776.8h0.8v0.8h-0.8zM303.2 775.2h0.8v0.8h-0.8zM301.1 775.3h0.8v0.8h-0.8zM309.8 773.1h0.8v0.8h-0.8zM309.7 773.0h0.8v0.8h-0.8zM304.2 774.1h0.8v0.8h-0.8zM307.2 770.8h0.8v0.8h-0.8zM307.2 768.7h0.8v0.8h-0.8zM301.2 778.3h0.8v0.8h-0.8zM304.7 777.9h0.8v0.8h-0.8zM310.7 766.6h0.8v0.8h-0.8zM309.9 770.6h0.8v0.8h-0.8zM305.5 763.0h0.8v0.8h-0.8zM302.5 770.6h0.8v0.8h-0.8zM301.9 766.7h0.8v0.8h-0.8zM298.0 774.0h0.8v0.8h-0.8zM305.4 774.3h0.8v0.8h-0.8zM299.0 766.2h0.8v0.8h-0.8zM311.3 767.7h0.8v0.8h-0.8zM303.7 775.6h0.8v0.8h-0.8zM300.2 771.7h0.8v0.8h-0.8zM306.9 771.8h0.8v0.8h-0.8zM307.1 768.1h0.8v0.8h-0.8zM309.4 762.7h0.8v0.8h-0.8zM296.2 773.1h0.8v0.8h-0.8zM304.5 770.7h0.8v0.8h-0.8zM296.7 768.1h0.8v0.8h-0.8zM302.8 775.3h0.8v0.8h-0.8zM308.2 776.6h0.8v0.8h-0.8zM299.7 770.4h0.8v0.8h-0.8zM297.9 768.1h0.8v0.8h-0.8zM299.6 772.1h0.8v0.8h-0.8zM301.0 773.4h0.8v0.8h-0.8zM309.0 767.9h0.8v0.8h-0.8zM302.5 771.7h0.8v0.8h-0.8zM303.3 770.3h0.8v0.8h-0.8zM301.6 772.4h0.8v0.8h-0.8zM302.1 773.6h0.8v0.8h-0.8zM304.6 775.3h0.8v0.8h-0.8zM305.9 772.5h0.8v0.8h-0.8zM303.7 769.2h0.8v0.8h-0.8zM306.1 766.6h0.8v0.8h-0.8zM305.4 777.6h0.8v0.8h-0.8zM301.6 774.8h0.8v0.8h-0.8zM306.2 770.2h0.8v0.8h-0.8zM307.8 767.6h0.8v0.8h-0.8zM299.7 774.9h0.8v0.8h-0.8zM305.7 771.7h0.8v0.8h-0.8zM307.2 765.1h0.8v0.8h-0.8zM301.1 779.9h0.8v0.8h-0.8zM303.0 775.9h0.8v0.8h-0.8zM305.5 762.2h0.8v0.8h-0.8zM304.7 774.0h0.8v0.8h-0.8zM299.5 772.2h0.8v0.8h-0.8zM300.2 771.3h0.8v0.8h-0.8zM304.5 767.6h0.8v0.8h-0.8zM299.2 775.4h0.8v0.8h-0.8zM306.1 768.1h0.8v0.8h-0.8zM301.6 775.8h0.8v0.8h-0.8zM303.5 776.3h0.8v0.8h-0.8zM306.4 768.9h0.8v0.8h-0.8zM307.6 761.8h0.8v0.8h-0.8zM300.8 772.5h0.8v0.8h-0.8zM307.3 773.4h0.8v0.8h-0.8zM305.9 766.8h0.8v0.8h-0.8zM303.8 779.1h0.8v0.8h-0.8zM306.5 774.7h0.8v0.8h-0.8zM304.4 765.7h0.8v0.8h-0.8zM302.7 777.1h0.8v0.8h-0.8zM301.3 777.5h0.8v0.8h-0.8zM305.8 762.9h0.8v0.8h-0.8zM304.3 768.7h0.8v0.8h-0.8zM303.4 777.6h0.8v0.8h-0.8zM299.1 766.0h0.8v0.8h-0.8zM302.9 772.0h0.8v0.8h-0.8zM305.0 771.2h0.8v0.8h-0.8zM301.0 771.3h0.8v0.8h-0.8zM311.4 770.3h0.8v0.8h-0.8zM307.0 771.4h0.8v0.8h-0.8zM304.8 764.2h0.8v0.8h-0.8zM305.8 781.1h0.8v0.8h-0.8zM297.8 776.0h0.8v0.8h-0.8zM299.5 775.6h0.8v0.8h-0.8zM305.2 770.1h0.8v0.8h-0.8zM299.7 770.3h0.8v0.8h-0.8zM308.6 768.0h0.8v0.8h-0.8zM303.9 773.4h0.8v0.8h-0.8zM302.0 770.9h0.8v0.8h-0.8zM298.8 781.8h0.8v0.8h-0.8zM305.0 773.3h0.8v0.8h-0.8zM302.0 767.3h0.8v0.8h-0.8zM306.6 767.9h0.8v0.8h-0.8zM304.2 766.5h0.8v0.8h-0.8zM311.8 767.6h0.8v0.8h-0.8zM305.2 774.4h0.8v0.8h-0.8zM300.1 773.3h0.8v0.8h-0.8zM299.5 769.2h0.8v0.8h-0.8zM307.0 774.9h0.8v0.8h-0.8zM305.6 766.4h0.8v0.8h-0.8zM303.7 774.4h0.8v0.8h-0.8zM302.6 770.2h0.8v0.8h-0.8zM304.7 774.3h0.8v0.8h-0.8zM301.8 765.3h0.8v0.8h-0.8zM302.1 771.1h0.8v0.8h-0.8zM303.2 772.5h0.8v0.8h-0.8zM307.9 769.4h0.8v0.8h-0.8zM305.4 767.7h0.8v0.8h-0.8zM303.7 773.5h0.8v0.8h-0.8zM299.9 776.8h0.8v0.8h-0.8zM301.1 770.9h0.8v0.8h-0.8zM305.9 772.7h0.8v0.8h-0.8zM304.3 768.2h0.8v0.8h-0.8zM310.7 768.0h0.8v0.8h-0.8zM304.1 771.2h0.8v0.8h-0.8zM304.5 769.7h0.8v0.8h-0.8zM302.0 767.3h0.8v0.8h-0.8zM300.1 775.5h0.8v0.8h-0.8zM309.8 769.5h0.8v0.8h-0.8zM304.5 769.8h0.8v0.8h-0.8zM302.7 779.6h0.8v0.8h-0.8zM304.6 773.0h0.8v0.8h-0.8zM307.6 757.4h0.8v0.8h-0.8zM306.3 769.9h0.8v0.8h-0.8zM304.3 771.3h0.8v0.8h-0.8zM306.3 772.7h0.8v0.8h-0.8zM309.7 767.0h0.8v0.8h-0.8zM305.5 774.3h0.8v0.8h-0.8zM302.0 771.0h0.8v0.8h-0.8zM306.1 771.2h0.8v0.8h-0.8zM303.7 772.2h0.8v0.8h-0.8zM313.3 765.6h0.8v0.8h-0.8zM300.3 773.2h0.8v0.8h-0.8zM297.7 770.7h0.8v0.8h-0.8zM297.3 778.7h0.8v0.8h-0.8zM306.7 769.0h0.8v0.8h-0.8zM296.3 768.9h0.8v0.8h-0.8zM298.8 773.0h0.8v0.8h-0.8zM306.9 772.3h0.8v0.8h-0.8zM302.7 769.1h0.8v0.8h-0.8zM307.5 768.9h0.8v0.8h-0.8zM298.5 770.1h0.8v0.8h-0.8zM301.9 778.0h0.8v0.8h-0.8zM303.3 763.9h0.8v0.8h-0.8zM302.7 775.1h0.8v0.8h-0.8zM300.7 769.9h0.8v0.8h-0.8zM299.5 773.7h0.8v0.8h-0.8zM304.1 768.6h0.8v0.8h-0.8zM304.4 773.0h0.8v0.8h-0.8zM301.6 771.6h0.8v0.8h-0.8zM306.2 768.9h0.8v0.8h-0.8zM298.3 775.6h0.8v0.8h-0.8z" fill="#888"/>
<polygon points="314.5,758.5 317.2,761.1 318.6,765.2 317.9,769.9 315.9,773.3 313.2,775.6 309.2,776.6 305.8,775.3 304.8,773.3 306.5,769.9 308.5,767.2 311.2,763.8 312.5,760.5" fill="#000" opacity="0.95" filter="url(#bl0)" stroke-linejoin="round"/>
<path d="M288.9 746.3h0.6v0.6h-0.6zM286.3 770.4h0.6v0.6h-0.6zM292.1 779.6h0.6v0.6h-0.6zM282.6 754.9h0.6v0.6h-0.6zM299.2 756.1h0.6v0.6h-0.6zM289.5 747.2h0.6v0.6h-0.6zM299.8 772.1h0.6v0.6h-0.6zM293.1 781.1h0.6v0.6h-0.6zM305.5 757.2h0.6v0.6h-0.6zM292.9 754.0h0.6v0.6h-0.6zM279.7 761.4h0.6v0.6h-0.6zM301.2 773.9h0.6v0.6h-0.6zM278.8 744.4h0.6v0.6h-0.6zM319.5 757.1h0.6v0.6h-0.6zM310.5 777.0h0.6v0.6h-0.6zM288.7 750.1h0.6v0.6h-0.6zM313.2 754.9h0.6v0.6h-0.6zM299.6 743.3h0.6v0.6h-0.6zM303.6 760.2h0.6v0.6h-0.6zM285.3 750.7h0.6v0.6h-0.6z" fill="#666"/>
<text x="331.3" y="781.35" font-size="6.8" font-weight="bold" text-anchor="end" fill="#000" textLength="18.5" lengthAdjust="spacingAndGlyphs">99.4%</text>
<text x="137.3" y="674" font-size="9.1" font-weight="bold" text-anchor="start" fill="#000" stroke="#000" stroke-width="0.23" textLength="31.6" lengthAdjust="spacingAndGlyphs">Control</text>
<text x="340.8" y="673.9" font-size="9.1" font-weight="bold" text-anchor="start" fill="#000" stroke="#000" stroke-width="0.23" textLength="31.6" lengthAdjust="spacingAndGlyphs">Control</text>
<text x="137.3" y="720.2" font-size="9.1" font-weight="bold" text-anchor="start" fill="#000" stroke="#000" stroke-width="0.23" textLength="23.8" lengthAdjust="spacingAndGlyphs">C20:2</text>
<text x="340.8" y="720" font-size="9.1" font-weight="bold" text-anchor="start" fill="#000" stroke="#000" stroke-width="0.23" textLength="23.8" lengthAdjust="spacingAndGlyphs">C20:2</text>
<text x="137.3" y="765.6" font-size="9.1" font-weight="bold" text-anchor="start" fill="#000" stroke="#000" stroke-width="0.23" textLength="38.6" lengthAdjust="spacingAndGlyphs">KRN7000</text>
<text x="340.8" y="765.6" font-size="9.1" font-weight="bold" text-anchor="start" fill="#000" stroke="#000" stroke-width="0.23" textLength="38.6" lengthAdjust="spacingAndGlyphs">KRN7000</text>
<line x1="64.6" y1="782.7" x2="64.6" y2="750.5" stroke="#000" stroke-width="1.6"/>
<polygon points="64.6,743.5 67.3,750.5 61.9,750.5" fill="#000"/>
<line x1="71.5" y1="789.2" x2="100.0" y2="789.2" stroke="#000" stroke-width="1.6"/>
<polygon points="107.7,789.2 100.0,791.9 100.0,786.5" fill="#000"/>
<text x="59.8" y="781.9" font-size="6.9" font-weight="bold" text-anchor="start" fill="#000" textLength="43.1" lengthAdjust="spacingAndGlyphs" transform="rotate(-90 59.8 781.9)">CD45.2 (host)</text>
<text x="71.5" y="799.3" font-size="6.9" font-weight="bold" text-anchor="start" fill="#000" textLength="46.2" lengthAdjust="spacingAndGlyphs">CD45.1 (donor)</text>
<line x1="267.9" y1="783.5" x2="267.9" y2="750.9" stroke="#000" stroke-width="1.6"/>
<polygon points="267.9,743.9 270.6,750.9 265.2,750.9" fill="#000"/>
<line x1="275.8" y1="789.6" x2="303.5" y2="789.6" stroke="#000" stroke-width="1.6"/>
<polygon points="311.2,789.6 303.5,792.3 303.5,786.9" fill="#000"/>
<text x="263.3" y="782.4" font-size="6.9" font-weight="bold" text-anchor="start" fill="#000" textLength="42.5" lengthAdjust="spacingAndGlyphs" transform="rotate(-90 263.3 782.4)">CD45.2 (host)</text>
<text x="276.1" y="800.3" font-size="6.9" font-weight="bold" text-anchor="start" fill="#000" textLength="48.4" lengthAdjust="spacingAndGlyphs">CD45.1 (donor)</text>
</svg></body></html>
